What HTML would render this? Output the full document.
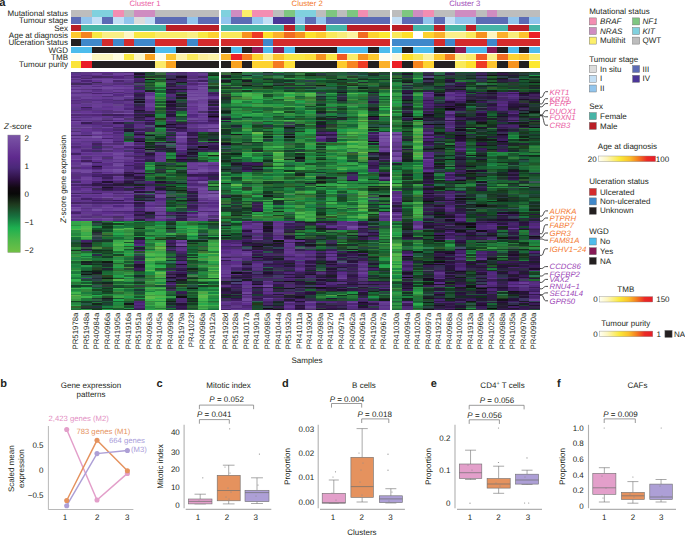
<!DOCTYPE html><html><head><meta charset="utf-8"><style>html,body{margin:0;padding:0;background:#fff;}body{width:685px;height:535px;overflow:hidden;position:relative;font-family:"Liberation Sans",sans-serif;}svg{display:block;position:absolute;left:0;top:0;}#hm div{position:absolute;top:0;height:238.40px;}#hm{position:absolute;left:0;top:72.10px;width:685px;height:238.40px;}</style></head><body><div id="hm"><div style="left:70.80px;width:10.56px;background:linear-gradient(#4d3d73 0 1.4px,#5b3489 0 2.8px,#653593 0 4.2px,#52297b 0 5.6px,#6a3e97 0 7.0px,#59337e 0 8.4px,#643992 0 9.8px,#562d7e 0 11.2px,#432a5d 0 12.6px,#6a3f97 0 14.0px,#5a337f 0 15.4px,#6e469b 0 16.8px,#5d2e8b 0 18.2px,#72489e 0 19.6px,#5e3685 0 21.0px,#5c308b 0 22.4px,#6e449b 0 23.8px,#653d91 0 25.2px,#603689 0 26.6px,#663d93 0 28.0px,#55287f 0 29.4px,#5d3386 0 30.9px,#59307f 0 32.3px,#683996 0 33.7px,#643892 0 35.1px,#623a8a 0 36.5px,#5e378c 0 37.9px,#583579 0 39.3px,#623590 0 40.7px,#6d4998 0 42.1px,#502a73 0 43.5px,#683895 0 44.9px,#532e79 0 46.3px,#673b95 0 47.7px,#4f2476 0 49.1px,#734a9f 0 50.5px,#693996 0 51.9px,#663f92 0 53.3px,#62388d 0 54.7px,#6c4598 0 56.1px,#5b3c7c 0 57.5px,#663e92 0 58.9px,#522f74 0 60.3px,#6f439c 0 61.7px,#683c95 0 63.1px,#4a266e 0 64.5px,#71489d 0 65.9px,#5b3085 0 67.3px,#6d3f9a 0 68.7px,#653693 0 70.1px,#653d92 0 71.5px,#5b3185 0 72.9px,#663894 0 74.3px,#502a74 0 75.7px,#5f328d 0 77.1px,#683896 0 78.5px,#683d95 0 79.9px,#61358f 0 81.3px,#422164 0 82.7px,#6a3c98 0 84.1px,#6a3b97 0 86.9px,#744aa0 0 88.3px,#5e2d8c 0 89.8px,#643991 0 91.2px,#62388d 0 92.6px,#6a3e97 0 94.0px,#683c95 0 95.4px,#533175 0 96.8px,#6d4399 0 98.2px,#71469d 0 99.6px,#5e3388 0 101.0px,#5b3285 0 102.4px,#56317c 0 103.8px,#572d7e 0 105.2px,#582c81 0 106.6px,#633f90 0 108.0px,#5d2d8c 0 109.4px,#442c65 0 110.8px,#6a3e97 0 112.2px,#49246f 0 113.6px,#663994 0 115.0px,#552c7f 0 116.4px,#5a2b87 0 117.8px,#5f378c 0 119.2px,#663e91 0 120.6px,#422463 0 122.0px,#71469d 0 123.4px,#552a80 0 124.8px,#694196 0 126.2px,#5f3587 0 127.6px,#593087 0 129.0px,#61348f 0 130.4px,#472564 0 131.8px,#6a4495 0 133.2px,#5d2d8c 0 134.6px,#754ca1 0 136.0px,#6c4099 0 137.4px,#764ea1 0 138.8px,#562882 0 140.2px,#462169 0 141.6px,#673a94 0 143.0px,#6b3d98 0 144.4px,#5e3784 0 145.8px,#6c4895 0 147.2px,#5c2e8a 0 148.6px,#31a94a 0 150.1px,#36a449 0 151.5px,#33a348 0 152.9px,#2d8b40 0 154.3px,#33b34d 0 155.7px,#38b54e 0 157.1px,#51b74c 0 158.5px,#2c8f43 0 159.9px,#2a9444 0 161.3px,#27853e 0 162.7px,#1f8a42 0 164.1px,#43a848 0 165.5px,#187039 0 166.9px,#186b37 0 168.3px,#2b5c4c 0 169.7px,#17552c 0 171.1px,#1a462c 0 172.5px,#1f522b 0 173.9px,#1d512a 0 175.3px,#338b3d 0 176.7px,#1e7d3b 0 178.1px,#18351d 0 179.5px,#2d893d 0 180.9px,#307337 0 182.3px,#2d9444 0 183.7px,#429241 0 185.1px,#218b41 0 186.5px,#27854a 0 187.9px,#31a049 0 189.3px,#1e6532 0 190.7px,#1c7538 0 192.1px,#238943 0 193.5px,#1e7c3d 0 194.9px,#1a8743 0 196.3px,#2b853d 0 197.7px,#38a649 0 199.1px,#207c3d 0 200.5px,#1b793c 0 201.9px,#30ac4b 0 203.3px,#259947 0 204.7px,#1c803e 0 206.1px,#197539 0 207.5px,#32b04d 0 209.0px,#2b9f47 0 210.4px,#287737 0 211.8px,#208440 0 213.2px,#164226 0 214.6px,#186936 0 216.0px,#40ad4a 0 217.4px,#21883e 0 218.8px,#269d48 0 220.2px,#43b74c 0 221.6px,#2e9143 0 223.0px,#61b249 0 224.4px,#45a647 0 225.8px,#42a749 0 227.2px,#399942 0 228.6px,#174123 0 230.0px,#257d3a 0 231.4px,#268842 0 232.8px,#2ca44a 0 234.2px,#35632c 0 235.6px,#20783a 0 237.0px,#226c35 0 238.4px)"></div><div style="left:81.36px;width:10.56px;background:linear-gradient(#5f3b82 0 1.4px,#603689 0 2.8px,#51287e 0 4.2px,#5a3280 0 5.6px,#4c286b 0 7.0px,#6a3e97 0 8.4px,#4c2373 0 9.8px,#633a8d 0 11.2px,#40265f 0 12.6px,#694096 0 14.0px,#673f94 0 15.4px,#6b3f98 0 16.8px,#59337d 0 18.2px,#6a3e97 0 19.6px,#532e76 0 21.0px,#61378a 0 22.4px,#6d409a 0 23.8px,#653e8f 0 25.2px,#6b4198 0 26.6px,#5a2d85 0 28.0px,#5b3386 0 29.4px,#5b367f 0 30.9px,#673e93 0 32.3px,#5f388c 0 33.7px,#673795 0 35.1px,#3b1f57 0 36.5px,#54297e 0 37.9px,#5b3580 0 39.3px,#663794 0 40.7px,#6b3e99 0 42.1px,#542b79 0 43.5px,#60348e 0 44.9px,#5a3286 0 46.3px,#673f94 0 47.7px,#5b3284 0 49.1px,#6a4197 0 50.5px,#371c53 0 51.9px,#5a2b88 0 53.3px,#613b8a 0 54.7px,#72489e 0 56.1px,#5e3587 0 57.5px,#653493 0 58.9px,#61338f 0 60.3px,#5a3288 0 61.7px,#5f358c 0 63.1px,#40215c 0 64.5px,#72489e 0 65.9px,#633b8e 0 67.3px,#6a3c98 0 68.7px,#5b3586 0 70.1px,#61378e 0 71.5px,#653992 0 72.9px,#633391 0 74.3px,#5c3288 0 75.7px,#643f8a 0 77.1px,#562f80 0 78.5px,#4e2575 0 79.9px,#683f95 0 81.3px,#60308e 0 82.7px,#6b3f98 0 84.1px,#533574 0 85.5px,#552c7f 0 86.9px,#653892 0 88.3px,#3f1d5a 0 89.8px,#61368e 0 91.2px,#764ea2 0 92.6px,#673a94 0 94.0px,#62368f 0 95.4px,#592a88 0 96.8px,#683e95 0 98.2px,#72499f 0 99.6px,#72489e 0 101.0px,#593084 0 102.4px,#562e81 0 103.8px,#60348d 0 105.2px,#6d419a 0 106.6px,#70449c 0 108.0px,#673794 0 109.4px,#653692 0 110.8px,#633491 0 112.2px,#422163 0 113.6px,#5f3688 0 115.0px,#4d2b6f 0 116.4px,#653494 0 117.8px,#6a3d98 0 119.2px,#5f358d 0 120.6px,#492c66 0 122.0px,#673a94 0 123.4px,#623590 0 124.8px,#60348e 0 126.2px,#432166 0 127.6px,#60348c 0 129.0px,#5f3689 0 130.4px,#4b276e 0 131.8px,#6a4296 0 133.2px,#613c8b 0 134.6px,#653b93 0 136.0px,#583280 0 137.4px,#643892 0 138.8px,#5c3685 0 140.2px,#643891 0 141.6px,#65418c 0 143.0px,#613989 0 144.4px,#552f7d 0 145.8px,#714b9d 0 147.2px,#5d3188 0 148.6px,#3bb04c 0 150.1px,#4ca143 0 151.5px,#38ab4a 0 152.9px,#3da749 0 154.3px,#4eb84b 0 155.7px,#57ba4b 0 157.1px,#55b34a 0 158.5px,#53ab47 0 159.9px,#38ac4b 0 161.3px,#3cad4b 0 162.7px,#35a348 0 164.1px,#5aba4b 0 165.5px,#3cae4b 0 166.9px,#308c41 0 168.3px,#44206a 0 169.7px,#302649 0 171.1px,#181b1c 0 172.5px,#281c38 0 173.9px,#2a1840 0 175.3px,#34563e 0 176.7px,#241931 0 178.1px,#47346a 0 179.5px,#216a32 0 180.9px,#299946 0 182.3px,#29a64b 0 183.7px,#19773e 0 185.1px,#2da149 0 186.5px,#257b3a 0 187.9px,#3e9841 0 189.3px,#13241e 0 190.7px,#222d30 0 192.1px,#1b231f 0 193.5px,#259848 0 194.9px,#1a6f39 0 196.3px,#196737 0 197.7px,#195e33 0 199.1px,#0e1f16 0 200.5px,#1b3c2f 0 201.9px,#111711 0 203.3px,#285046 0 204.7px,#1f7b3c 0 206.1px,#3c3e68 0 207.5px,#1f4832 0 209.0px,#209547 0 210.4px,#195a2f 0 211.8px,#34a749 0 213.2px,#19472b 0 214.6px,#249a46 0 216.0px,#2eaf4d 0 217.4px,#30893c 0 218.8px,#34833b 0 220.2px,#1b7d3e 0 221.6px,#2d9441 0 223.0px,#348a3f 0 224.4px,#3bb44c 0 225.8px,#257338 0 227.2px,#1c783a 0 228.6px,#1c3b28 0 230.0px,#124124 0 231.4px,#265a47 0 232.8px,#17532a 0 234.2px,#2b3a30 0 235.6px,#192d2b 0 237.0px,#2a9240 0 238.4px)"></div><div style="left:91.92px;width:10.56px;background:linear-gradient(#563079 0 1.4px,#6c3f99 0 2.8px,#5a2f83 0 4.2px,#452461 0 5.6px,#61388c 0 7.0px,#71469d 0 8.4px,#643392 0 9.8px,#3d2953 0 11.2px,#5a3480 0 12.6px,#6b3d99 0 14.0px,#582d81 0 15.4px,#6c4398 0 16.8px,#52267a 0 18.2px,#5b3285 0 19.6px,#6a3b97 0 21.0px,#4a216e 0 22.4px,#6a3b97 0 23.8px,#623c8b 0 25.2px,#693a97 0 26.6px,#5d348a 0 28.0px,#552e80 0 29.4px,#683c95 0 30.9px,#633c8c 0 32.3px,#693e96 0 33.7px,#6c3e99 0 35.1px,#663c94 0 36.5px,#5f378d 0 37.9px,#5b3480 0 39.3px,#5c2f8a 0 40.7px,#6d419a 0 42.1px,#512677 0 43.5px,#5f328b 0 44.9px,#663b93 0 46.3px,#6a4197 0 47.7px,#5c3382 0 49.1px,#5a367d 0 50.5px,#522877 0 51.9px,#54287e 0 53.3px,#5a3488 0 54.7px,#623590 0 56.1px,#563377 0 57.5px,#5c2f88 0 58.9px,#673a95 0 60.3px,#764ea2 0 61.7px,#683896 0 63.1px,#5d3588 0 64.5px,#7b56a6 0 65.9px,#673995 0 67.3px,#683e95 0 68.7px,#512f79 0 70.1px,#582b85 0 71.5px,#40225d 0 72.9px,#4b2272 0 74.3px,#3b315e 0 75.7px,#44236d 0 77.1px,#562c81 0 78.5px,#412d62 0 79.9px,#633890 0 81.3px,#623690 0 82.7px,#684094 0 84.1px,#60348d 0 85.5px,#693b96 0 86.9px,#70459d 0 88.3px,#5f2f8d 0 89.8px,#3c2058 0 91.2px,#5a2f88 0 92.6px,#51287e 0 94.0px,#28123a 0 95.4px,#431d65 0 96.8px,#572b84 0 98.2px,#663c93 0 99.6px,#472865 0 101.0px,#552881 0 102.4px,#46216c 0 103.8px,#3c1e5d 0 105.2px,#5c328a 0 106.6px,#5f338b 0 108.0px,#653693 0 109.4px,#492270 0 110.8px,#321849 0 112.2px,#311948 0 113.6px,#532c77 0 115.0px,#592e85 0 116.4px,#3e2957 0 117.8px,#4e2477 0 119.2px,#5b2e85 0 120.6px,#412261 0 122.0px,#693b97 0 123.4px,#60328d 0 124.8px,#693f96 0 126.2px,#53267b 0 127.6px,#401f64 0 129.0px,#5a2e86 0 130.4px,#452268 0 131.8px,#5c3689 0 133.2px,#593184 0 134.6px,#673b94 0 136.0px,#613e8d 0 137.4px,#754da1 0 138.8px,#5f308d 0 140.2px,#5f348c 0 141.6px,#592d83 0 143.0px,#562d7f 0 144.4px,#593c7a 0 145.8px,#6c4099 0 147.2px,#612e8f 0 148.6px,#134d29 0 150.1px,#2a2f38 0 151.5px,#2b4e46 0 152.9px,#1a5433 0 154.3px,#238c42 0 155.7px,#15532e 0 157.1px,#1a5029 0 158.5px,#133720 0 159.9px,#262231 0 161.3px,#2c373a 0 162.7px,#3e5451 0 164.1px,#445455 0 165.5px,#274041 0 166.9px,#303f52 0 168.3px,#1f302e 0 169.7px,#185b2e 0 171.1px,#235629 0 172.5px,#1a612f 0 173.9px,#2b602c 0 175.3px,#48873b 0 176.7px,#17512c 0 178.1px,#172e1b 0 179.5px,#164024 0 180.9px,#1a723b 0 182.3px,#2f2948 0 183.7px,#175f33 0 185.1px,#1d592f 0 186.5px,#1b733a 0 187.9px,#1f6933 0 189.3px,#173620 0 190.7px,#1b4b30 0 192.1px,#133622 0 193.5px,#1c5f30 0 194.9px,#234830 0 196.3px,#244524 0 197.7px,#182e1f 0 199.1px,#0e2518 0 200.5px,#1a1521 0 201.9px,#1f4127 0 203.3px,#2f4446 0 204.7px,#323d4a 0 206.1px,#223035 0 207.5px,#2e4349 0 209.0px,#22552c 0 210.4px,#1c3228 0 211.8px,#175d31 0 213.2px,#365650 0 214.6px,#1a5535 0 216.0px,#19743d 0 217.4px,#1b4422 0 218.8px,#237140 0 220.2px,#176a35 0 221.6px,#195830 0 223.0px,#22af4f 0 224.4px,#26853d 0 225.8px,#1e3d30 0 227.2px,#2c633f 0 228.6px,#223839 0 230.0px,#227538 0 231.4px,#16261c 0 232.8px,#134d29 0 234.2px,#26343f 0 235.6px,#173b21 0 237.0px,#14381f 0 238.4px)"></div><div style="left:102.48px;width:10.56px;background:linear-gradient(#5c2e88 0 1.4px,#55307b 0 2.8px,#623690 0 4.2px,#462961 0 5.6px,#673994 0 7.0px,#70459d 0 8.4px,#6f439c 0 9.8px,#6b3e98 0 11.2px,#5e3982 0 12.6px,#593087 0 14.0px,#693b96 0 15.4px,#72489e 0 16.8px,#673a94 0 18.2px,#62398c 0 19.6px,#683896 0 21.0px,#4d2679 0 22.4px,#6c4399 0 23.8px,#502c75 0 25.2px,#653993 0 26.6px,#532c7e 0 28.0px,#5c3084 0 29.4px,#582e83 0 30.9px,#633a91 0 32.3px,#683995 0 33.7px,#5f358a 0 35.1px,#5f2f8e 0 36.5px,#653693 0 37.9px,#563178 0 39.3px,#542f7d 0 40.7px,#62398d 0 42.1px,#3e2555 0 43.5px,#623490 0 44.9px,#60358e 0 46.3px,#5b3880 0 47.7px,#472467 0 49.1px,#6d419a 0 50.5px,#542d78 0 51.9px,#582b86 0 53.3px,#4f2b73 0 54.7px,#6e429b 0 56.1px,#582f84 0 57.5px,#562984 0 58.9px,#542f76 0 60.3px,#693a97 0 61.7px,#59327e 0 63.1px,#643392 0 64.5px,#693b97 0 65.9px,#47206c 0 67.3px,#6d419a 0 68.7px,#663a93 0 70.1px,#70479d 0 71.5px,#582f7e 0 72.9px,#6b3d99 0 74.3px,#533375 0 75.7px,#61378f 0 77.1px,#6a4196 0 78.5px,#523074 0 79.9px,#6f439c 0 81.3px,#663594 0 82.7px,#693d96 0 84.1px,#562a82 0 85.5px,#503172 0 86.9px,#5d2e8b 0 88.3px,#603a8c 0 89.8px,#663893 0 91.2px,#582c84 0 92.6px,#5a3284 0 94.0px,#633791 0 95.4px,#5f338c 0 96.8px,#70449c 0 98.2px,#6b4298 0 99.6px,#5c2e8a 0 101.0px,#653992 0 102.4px,#3e1d5c 0 103.8px,#442069 0 105.2px,#3b1c5a 0 106.6px,#502b74 0 108.0px,#552982 0 109.4px,#231231 0 110.8px,#4e2875 0 112.2px,#301749 0 113.6px,#3b2454 0 115.0px,#1d1326 0 116.4px,#32164a 0 117.8px,#372552 0 119.2px,#5c3185 0 120.6px,#693c96 0 122.0px,#6c4098 0 123.4px,#663794 0 124.8px,#764da1 0 126.2px,#543175 0 127.6px,#432166 0 129.0px,#5e338b 0 130.4px,#452667 0 131.8px,#61368d 0 133.2px,#673894 0 134.6px,#71469d 0 136.0px,#63398f 0 137.4px,#693d96 0 138.8px,#52277d 0 140.2px,#5e2e8d 0 141.6px,#6b3d98 0 143.0px,#633891 0 144.4px,#553478 0 145.8px,#734a9f 0 147.2px,#693a96 0 148.6px,#277639 0 150.1px,#2a4f3f 0 151.5px,#14341d 0 152.9px,#18502c 0 154.3px,#12361d 0 155.7px,#174626 0 157.1px,#1b5f32 0 158.5px,#154c2b 0 159.9px,#2b813b 0 161.3px,#3b7231 0 162.7px,#1c5035 0 164.1px,#357031 0 165.5px,#1a6c33 0 166.9px,#204435 0 168.3px,#193b27 0 169.7px,#26723b 0 171.1px,#1b823f 0 172.5px,#1f7a3b 0 173.9px,#1a753b 0 175.3px,#2d572a 0 176.7px,#17552d 0 178.1px,#14341e 0 179.5px,#1b4c26 0 180.9px,#144128 0 182.3px,#206130 0 183.7px,#1a3b2a 0 185.1px,#113f24 0 186.5px,#207238 0 187.9px,#297b3d 0 189.3px,#101910 0 190.7px,#203534 0 192.1px,#1f2e33 0 193.5px,#1d302b 0 194.9px,#1a6134 0 196.3px,#212531 0 197.7px,#17462b 0 199.1px,#186533 0 200.5px,#1b6a35 0 201.9px,#1b743a 0 203.3px,#2d4421 0 204.7px,#144423 0 206.1px,#131814 0 207.5px,#2c642f 0 209.0px,#185734 0 210.4px,#13251f 0 211.8px,#354030 0 213.2px,#2f3938 0 214.6px,#18532c 0 216.0px,#193323 0 217.4px,#154929 0 218.8px,#19381c 0 220.2px,#144828 0 221.6px,#24853c 0 223.0px,#257839 0 224.4px,#23532c 0 225.8px,#1a1920 0 227.2px,#20332e 0 228.6px,#21563d 0 230.0px,#164627 0 231.4px,#1d4135 0 232.8px,#16552f 0 234.2px,#197c40 0 235.6px,#1b4223 0 237.0px,#229d4a 0 238.4px)"></div><div style="left:113.04px;width:10.56px;background:linear-gradient(#533b77 0 1.4px,#6d409a 0 2.8px,#643692 0 4.2px,#52247a 0 5.6px,#572c80 0 7.0px,#72489e 0 8.4px,#4a276b 0 9.8px,#5d3389 0 11.2px,#552e7b 0 12.6px,#693c97 0 14.0px,#653594 0 15.4px,#70459d 0 16.8px,#5d3387 0 18.2px,#6d3f9a 0 19.6px,#512e73 0 21.0px,#643592 0 22.4px,#542881 0 23.8px,#5d3983 0 25.2px,#684095 0 26.6px,#653b92 0 28.0px,#4d2b70 0 29.4px,#593185 0 30.9px,#56307f 0 32.3px,#65428a 0 33.7px,#693c96 0 35.1px,#643c91 0 36.5px,#683996 0 37.9px,#694195 0 39.3px,#563178 0 40.7px,#7750a3 0 42.1px,#3e1d5f 0 43.5px,#552c81 0 44.9px,#4b2970 0 46.3px,#6f439c 0 47.7px,#582b87 0 49.1px,#6e429b 0 50.5px,#2e1747 0 51.9px,#5c3283 0 53.3px,#60328e 0 54.7px,#4b266f 0 56.1px,#4f3272 0 57.5px,#49256c 0 58.9px,#5f318d 0 60.3px,#4e2676 0 61.7px,#5d3289 0 63.1px,#572f83 0 64.5px,#5e3387 0 65.9px,#562e82 0 67.3px,#5c3188 0 68.7px,#48236e 0 70.1px,#593281 0 71.5px,#502b73 0 72.9px,#694096 0 74.3px,#6a3b97 0 75.7px,#56307a 0 77.1px,#5a3286 0 78.5px,#5f328d 0 79.9px,#6b4098 0 81.3px,#734a9f 0 82.7px,#6a3c98 0 84.1px,#6e429b 0 85.5px,#71479e 0 86.9px,#633b90 0 88.3px,#6d4399 0 89.8px,#572f82 0 91.2px,#6f479b 0 92.6px,#754ca1 0 94.0px,#674092 0 95.4px,#61358f 0 96.8px,#7750a3 0 98.2px,#734aa0 0 99.6px,#684095 0 101.0px,#613889 0 102.4px,#42235d 0 103.8px,#6a3f97 0 105.2px,#60348e 0 106.6px,#673f93 0 108.0px,#5c2f89 0 109.4px,#492768 0 110.8px,#321d43 0 112.2px,#261836 0 113.6px,#4c2c6e 0 115.0px,#3c2056 0 116.4px,#411e65 0 117.8px,#452168 0 119.2px,#5e3686 0 120.6px,#4d2771 0 122.0px,#653992 0 123.4px,#5c3482 0 124.8px,#6a4692 0 126.2px,#683b95 0 127.6px,#381956 0 129.0px,#5e318c 0 130.4px,#452468 0 131.8px,#6b3c98 0 133.2px,#50277d 0 134.6px,#683995 0 136.0px,#6a3f97 0 137.4px,#6d439a 0 138.8px,#4a2671 0 140.2px,#5b3083 0 141.6px,#6d4499 0 143.0px,#653693 0 144.4px,#492d64 0 145.8px,#5b3f7c 0 147.2px,#552e7e 0 148.6px,#186536 0 150.1px,#2ab24e 0 151.5px,#164222 0 152.9px,#2f9745 0 154.3px,#19783e 0 155.7px,#319243 0 157.1px,#53b94b 0 158.5px,#2e9d46 0 159.9px,#239647 0 161.3px,#25a94c 0 162.7px,#1a813e 0 164.1px,#1d8f45 0 165.5px,#1b6a36 0 166.9px,#1a7a3c 0 168.3px,#3ba448 0 169.7px,#39b34d 0 171.1px,#45ad4a 0 172.5px,#4fb84b 0 173.9px,#35a147 0 175.3px,#40a447 0 176.7px,#3cae4a 0 178.1px,#37b24c 0 179.5px,#236e34 0 180.9px,#219848 0 182.3px,#164626 0 183.7px,#448539 0 185.1px,#1d8b45 0 186.5px,#2c8c44 0 187.9px,#36a949 0 189.3px,#289242 0 190.7px,#23612f 0 192.1px,#33913e 0 193.5px,#2e9a46 0 194.9px,#1fa44c 0 196.3px,#287638 0 197.7px,#2d6b30 0 199.1px,#2d8f40 0 200.5px,#2a873f 0 201.9px,#238941 0 203.3px,#27a24a 0 204.7px,#1e9046 0 206.1px,#234d24 0 207.5px,#51b94c 0 209.0px,#1c7037 0 210.4px,#1c6631 0 211.8px,#328e42 0 213.2px,#164f2e 0 214.6px,#174727 0 216.0px,#38a94a 0 217.4px,#228940 0 218.8px,#3c893c 0 220.2px,#2a6b33 0 221.6px,#248b41 0 223.0px,#2fa148 0 224.4px,#40a447 0 225.8px,#1b512c 0 227.2px,#20a84d 0 228.6px,#186333 0 230.0px,#1f9243 0 231.4px,#1f8841 0 232.8px,#23813d 0 234.2px,#2c893d 0 235.6px,#1e582b 0 237.0px,#175f32 0 238.4px)"></div><div style="left:123.60px;width:10.56px;background:linear-gradient(#502f72 0 1.4px,#70459d 0 2.8px,#4f2875 0 4.2px,#5c3482 0 5.6px,#5a3387 0 7.0px,#6d4699 0 8.4px,#5b3685 0 9.8px,#592b85 0 11.2px,#4e3170 0 12.6px,#684094 0 14.0px,#5f358c 0 15.4px,#6d409a 0 16.8px,#60308e 0 18.2px,#61358f 0 19.6px,#623a8b 0 21.0px,#52277f 0 22.4px,#603889 0 23.8px,#744ca0 0 25.2px,#60368e 0 26.6px,#462768 0 28.0px,#49266b 0 29.4px,#62388d 0 30.9px,#5d3683 0 32.3px,#582a84 0 33.7px,#5d348a 0 35.1px,#593285 0 36.5px,#4f2679 0 37.9px,#694394 0 39.3px,#5e3789 0 40.7px,#7852a4 0 42.1px,#4d2372 0 43.5px,#582e86 0 44.9px,#61388c 0 46.3px,#50346e 0 47.7px,#653892 0 49.1px,#653a93 0 50.5px,#293a44 0 51.9px,#3c1d5e 0 53.3px,#381d58 0 54.7px,#3a1a59 0 56.1px,#2e3a47 0 57.5px,#261236 0 58.9px,#21162d 0 60.3px,#2b5d53 0 61.7px,#1a6d38 0 63.1px,#196f39 0 64.5px,#324644 0 65.9px,#1e4b3b 0 67.3px,#1b4723 0 68.7px,#1d7543 0 70.1px,#71469d 0 71.5px,#6c4099 0 72.9px,#72489e 0 74.3px,#4d2374 0 75.7px,#562d82 0 77.1px,#643791 0 78.5px,#45326a 0 79.9px,#6a3d98 0 81.3px,#60378e 0 82.7px,#562f7a 0 84.1px,#4e2874 0 85.5px,#6a4197 0 86.9px,#633d89 0 88.3px,#5f348a 0 89.8px,#52267c 0 91.2px,#5b2e88 0 92.6px,#3f1d60 0 94.0px,#562d82 0 95.4px,#542d81 0 96.8px,#552c7e 0 98.2px,#55307b 0 99.6px,#331948 0 101.0px,#3e1d5d 0 102.4px,#261238 0 103.8px,#2f1747 0 105.2px,#3a2556 0 106.6px,#4d2875 0 108.0px,#37294f 0 109.4px,#2c1442 0 110.8px,#221a2d 0 112.2px,#222532 0 113.6px,#482f68 0 115.0px,#552983 0 116.4px,#2d2745 0 117.8px,#382351 0 119.2px,#643e90 0 120.6px,#4c2b6f 0 122.0px,#6c4199 0 123.4px,#5c2e8b 0 124.8px,#673e94 0 126.2px,#522980 0 127.6px,#5e3289 0 129.0px,#6b4097 0 130.4px,#48216e 0 131.8px,#6f449c 0 133.2px,#633790 0 134.6px,#6e429b 0 136.0px,#70449c 0 137.4px,#6d409a 0 138.8px,#4c2475 0 140.2px,#532c80 0 141.6px,#683c95 0 143.0px,#5f338b 0 144.4px,#61378f 0 145.8px,#71489e 0 147.2px,#63388f 0 148.6px,#1d7c3d 0 150.1px,#248740 0 151.5px,#1a6833 0 152.9px,#166a37 0 154.3px,#1a783d 0 155.7px,#50b94a 0 157.1px,#3da044 0 158.5px,#368d3e 0 159.9px,#2c8b42 0 161.3px,#3b9d46 0 162.7px,#317e3b 0 164.1px,#28873e 0 165.5px,#308c43 0 166.9px,#1c7b3b 0 168.3px,#4ab04a 0 169.7px,#18512b 0 171.1px,#4bac49 0 172.5px,#24ac4e 0 173.9px,#2d5b2d 0 175.3px,#329d45 0 176.7px,#1b5a2e 0 178.1px,#21873e 0 179.5px,#279947 0 180.9px,#3f9f44 0 182.3px,#23a24b 0 183.7px,#3a7533 0 185.1px,#1d7538 0 186.5px,#1a6d37 0 187.9px,#3b823d 0 189.3px,#195a2e 0 190.7px,#258a41 0 192.1px,#265037 0 193.5px,#1d482b 0 194.9px,#458d3b 0 196.3px,#274a33 0 197.7px,#217539 0 199.1px,#307534 0 200.5px,#379140 0 201.9px,#33a84a 0 203.3px,#226d37 0 204.7px,#2cab4c 0 206.1px,#268149 0 207.5px,#389d44 0 209.0px,#229447 0 210.4px,#1a5c32 0 211.8px,#319c45 0 213.2px,#22602f 0 214.6px,#214e25 0 216.0px,#298c43 0 217.4px,#186b38 0 218.8px,#217939 0 220.2px,#2a893d 0 221.6px,#3a933e 0 223.0px,#349040 0 224.4px,#249a48 0 225.8px,#26843c 0 227.2px,#2b7333 0 228.6px,#18582c 0 230.0px,#1f5539 0 231.4px,#141617 0 232.8px,#255a2c 0 234.2px,#1b4b2d 0 235.6px,#208f44 0 237.0px,#173a20 0 238.4px)"></div><div style="left:134.16px;width:10.56px;background:linear-gradient(#2c384c 0 1.4px,#1f102b 0 2.8px,#3f1c5c 0 4.2px,#192829 0 5.6px,#4b2570 0 7.0px,#4a246a 0 8.4px,#412062 0 9.8px,#2e2640 0 11.2px,#4c4969 0 12.6px,#4d266f 0 14.0px,#2c3c47 0 15.4px,#422161 0 16.8px,#2f364f 0 18.2px,#562985 0 19.6px,#421f64 0 21.0px,#2f2d44 0 22.4px,#31174a 0 23.8px,#371a55 0 25.2px,#362b53 0 26.6px,#1c0f27 0 28.0px,#33364e 0 29.4px,#1a1123 0 30.9px,#423c65 0 32.3px,#2e2645 0 33.7px,#391b56 0 35.1px,#3b1a57 0 36.5px,#421e61 0 37.9px,#241232 0 39.3px,#2c2342 0 40.7px,#47216d 0 42.1px,#2d2040 0 43.5px,#3e235b 0 44.9px,#2c1a3e 0 46.3px,#3b2455 0 47.7px,#28343d 0 49.1px,#5f338a 0 50.5px,#482a69 0 51.9px,#582b85 0 53.3px,#563180 0 54.7px,#5d2e8b 0 56.1px,#4b3469 0 57.5px,#3a2158 0 58.9px,#5d308c 0 60.3px,#3a1c55 0 61.7px,#250e35 0 63.1px,#3f2758 0 64.5px,#562985 0 65.9px,#2d213e 0 67.3px,#34164c 0 68.7px,#1b0b23 0 70.1px,#552984 0 71.5px,#462963 0 72.9px,#5f328e 0 74.3px,#47216a 0 75.7px,#2d1342 0 77.1px,#552a82 0 78.5px,#47216a 0 79.9px,#3d1f5d 0 81.3px,#50277d 0 82.7px,#4d346e 0 84.1px,#3f1f5b 0 85.5px,#4b246e 0 86.9px,#5d3388 0 88.3px,#401c5f 0 89.8px,#5f2d8d 0 91.2px,#452167 0 92.6px,#432663 0 94.0px,#401f5f 0 95.4px,#3e1d60 0 96.8px,#4b2670 0 98.2px,#5f3589 0 99.6px,#4e2f6f 0 101.0px,#231131 0 102.4px,#4c2672 0 103.8px,#2c1941 0 105.2px,#2c133e 0 106.6px,#42255d 0 108.0px,#2e1b45 0 109.4px,#393959 0 110.8px,#3e225d 0 112.2px,#15251a 0 113.6px,#48236f 0 115.0px,#21222b 0 116.4px,#381a53 0 117.8px,#562984 0 119.2px,#271238 0 120.6px,#514e73 0 122.0px,#4a2271 0 123.4px,#292738 0 124.8px,#291b3c 0 126.2px,#203636 0 127.6px,#1f1b29 0 129.0px,#5d3687 0 130.4px,#2a1a3c 0 131.8px,#3d1b5d 0 133.2px,#381956 0 134.6px,#413c6b 0 136.0px,#472867 0 137.4px,#4d2375 0 138.8px,#2c1e41 0 140.2px,#462167 0 141.6px,#2f1847 0 143.0px,#2f1544 0 144.4px,#452c66 0 145.8px,#4d2470 0 147.2px,#29213a 0 148.6px,#1d9147 0 150.1px,#1e5034 0 151.5px,#19602f 0 152.9px,#1c622d 0 154.3px,#205d2d 0 155.7px,#112f1c 0 157.1px,#1f7839 0 158.5px,#246731 0 159.9px,#154f2a 0 161.3px,#16502b 0 162.7px,#154021 0 164.1px,#269847 0 165.5px,#172a27 0 166.9px,#221b2d 0 168.3px,#47226f 0 169.7px,#411f66 0 171.1px,#401f60 0 172.5px,#572a85 0 173.9px,#1a6039 0 175.3px,#281839 0 176.7px,#1e302e 0 178.1px,#572d81 0 179.5px,#285429 0 180.9px,#486564 0 182.3px,#255444 0 183.7px,#38294f 0 185.1px,#2b3542 0 186.5px,#2d2645 0 187.9px,#1e5f3d 0 189.3px,#452168 0 190.7px,#402e57 0 192.1px,#1f1529 0 193.5px,#251135 0 194.9px,#2b1340 0 196.3px,#3c1d56 0 197.7px,#311f47 0 199.1px,#18512b 0 200.5px,#1b622d 0 201.9px,#1f603e 0 203.3px,#1a2b2d 0 204.7px,#15532c 0 206.1px,#24603d 0 207.5px,#3b634d 0 209.0px,#176034 0 210.4px,#183d21 0 211.8px,#1e7c3b 0 213.2px,#354140 0 214.6px,#255d2c 0 216.0px,#19753d 0 217.4px,#1e3833 0 218.8px,#196535 0 220.2px,#1d5137 0 221.6px,#27612e 0 223.0px,#1e833f 0 224.4px,#18552d 0 225.8px,#1b9749 0 227.2px,#294733 0 228.6px,#4e2674 0 230.0px,#4a2370 0 231.4px,#522981 0 232.8px,#462469 0 234.2px,#51287a 0 235.6px,#3d1d5c 0 237.0px,#372153 0 238.4px)"></div><div style="left:144.72px;width:10.56px;background:linear-gradient(#1d4d25 0 1.4px,#1e483a 0 2.8px,#1c5d2d 0 4.2px,#253c28 0 5.6px,#3c893d 0 7.0px,#0e150e 0 8.4px,#186837 0 9.8px,#124025 0 11.2px,#28612c 0 12.6px,#19502b 0 14.0px,#296331 0 15.4px,#27503c 0 16.8px,#1a6634 0 18.2px,#19221f 0 19.6px,#66408f 0 21.0px,#5c2c8a 0 22.4px,#633591 0 23.8px,#73499f 0 25.2px,#724a9e 0 26.6px,#62388d 0 28.0px,#60348b 0 29.4px,#5d3488 0 30.9px,#693a97 0 32.3px,#6a3f97 0 33.7px,#6b3c98 0 35.1px,#5e348c 0 36.5px,#613090 0 37.9px,#5f3886 0 39.3px,#382350 0 40.7px,#4d2474 0 42.1px,#1d2726 0 43.5px,#261036 0 44.9px,#49266c 0 46.3px,#542b80 0 47.7px,#2f1647 0 49.1px,#50297f 0 50.5px,#331b4b 0 51.9px,#361b54 0 53.3px,#4e5076 0 54.7px,#4d2670 0 56.1px,#353255 0 57.5px,#40255a 0 58.9px,#38294f 0 60.3px,#32803d 0 61.7px,#204b3e 0 63.1px,#121b12 0 64.5px,#296145 0 65.9px,#2d613b 0 67.3px,#17562c 0 68.7px,#317b38 0 70.1px,#16211d 0 71.5px,#143920 0 72.9px,#2a2f3b 0 74.3px,#10311c 0 75.7px,#344e43 0 77.1px,#170a1d 0 78.5px,#455559 0 79.9px,#442364 0 81.3px,#251834 0 82.7px,#321a4d 0 84.1px,#3c1c5b 0 85.5px,#452368 0 86.9px,#381d57 0 88.3px,#2f2045 0 89.8px,#27863f 0 91.2px,#197e41 0 92.6px,#3f9b44 0 94.0px,#25833d 0 95.4px,#29a34a 0 96.8px,#269847 0 98.2px,#1d622f 0 99.6px,#20803b 0 101.0px,#242e37 0 102.4px,#1e6531 0 103.8px,#307f38 0 105.2px,#1b6c37 0 106.6px,#1a6334 0 108.0px,#2d6a3b 0 109.4px,#4b2474 0 110.8px,#441f67 0 112.2px,#31274a 0 113.6px,#4e2c73 0 115.0px,#51287f 0 116.4px,#542d7b 0 117.8px,#5f3489 0 119.2px,#232936 0 120.6px,#396b60 0 122.0px,#552d7e 0 123.4px,#2a3142 0 124.8px,#28163a 0 126.2px,#363858 0 127.6px,#211e2f 0 129.0px,#433e70 0 130.4px,#663893 0 131.8px,#653893 0 133.2px,#592c87 0 134.6px,#71469d 0 136.0px,#6b3e98 0 137.4px,#694096 0 138.8px,#502d72 0 140.2px,#1d1b28 0 141.6px,#331b50 0 143.0px,#25323e 0 144.4px,#2f2c46 0 145.8px,#472368 0 147.2px,#573180 0 148.6px,#1a5d2f 0 150.1px,#226531 0 151.5px,#1a6f37 0 152.9px,#1c6230 0 154.3px,#2c8f41 0 155.7px,#419741 0 157.1px,#208843 0 158.5px,#1b723a 0 159.9px,#2d9543 0 161.3px,#339745 0 162.7px,#1a6133 0 164.1px,#2d7936 0 165.5px,#1da64d 0 166.9px,#266c33 0 168.3px,#2d8a40 0 169.7px,#299a48 0 171.1px,#1c793c 0 172.5px,#267337 0 173.9px,#26863f 0 175.3px,#3a893d 0 176.7px,#1f6939 0 178.1px,#219f4a 0 179.5px,#499d45 0 180.9px,#46b74c 0 182.3px,#50b94c 0 183.7px,#36ab4b 0 185.1px,#229647 0 186.5px,#51b94c 0 187.9px,#63bc4a 0 189.3px,#35a64a 0 190.7px,#2e9f48 0 192.1px,#2eae4d 0 193.5px,#40b64d 0 194.9px,#34ae4c 0 196.3px,#34a84b 0 197.7px,#58ba4b 0 199.1px,#26a34a 0 200.5px,#1c8b44 0 201.9px,#1a9147 0 203.3px,#337535 0 204.7px,#34843b 0 206.1px,#1d7338 0 207.5px,#37823a 0 209.0px,#3aa649 0 210.4px,#388e41 0 211.8px,#2f7b39 0 213.2px,#2d6534 0 214.6px,#2ba54a 0 216.0px,#4ca848 0 217.4px,#319c45 0 218.8px,#1d8541 0 220.2px,#41b64c 0 221.6px,#4cb84c 0 223.0px,#439c41 0 224.4px,#5cbb4b 0 225.8px,#5dbb4b 0 227.2px,#3cb54d 0 228.6px,#39883d 0 230.0px,#339c45 0 231.4px,#329042 0 232.8px,#38a849 0 234.2px,#248d40 0 235.6px,#2a9043 0 237.0px,#27a14a 0 238.4px)"></div><div style="left:155.28px;width:10.56px;background:linear-gradient(#4d6c58 0 1.4px,#386b3f 0 2.8px,#283c32 0 4.2px,#204529 0 5.6px,#2d863d 0 7.0px,#1c5436 0 8.4px,#24582a 0 9.8px,#379543 0 11.2px,#41a348 0 12.6px,#2b9d46 0 14.0px,#279d49 0 15.4px,#216230 0 16.8px,#209f4a 0 18.2px,#186032 0 19.6px,#1b6032 0 21.0px,#32af4c 0 22.4px,#1d8b43 0 23.8px,#1d813d 0 25.2px,#3a893d 0 26.6px,#247439 0 28.0px,#2a8b3e 0 29.4px,#1a542b 0 30.9px,#2e8b3e 0 32.3px,#1b5b2e 0 33.7px,#3c9f44 0 35.1px,#32642d 0 36.5px,#17502c 0 37.9px,#326a2d 0 39.3px,#216230 0 40.7px,#196437 0 42.1px,#1f8a42 0 43.5px,#257f3c 0 44.9px,#27803c 0 46.3px,#233d1d 0 47.7px,#2e6c33 0 49.1px,#276a39 0 50.5px,#1b7f3e 0 51.9px,#1b763b 0 53.3px,#152316 0 54.7px,#1e5e3d 0 56.1px,#259846 0 57.5px,#1f813e 0 58.9px,#257b3b 0 60.3px,#356c4c 0 61.7px,#1c6936 0 63.1px,#257035 0 64.5px,#124827 0 65.9px,#172922 0 67.3px,#173f21 0 68.7px,#28873d 0 70.1px,#35224c 0 71.5px,#414c63 0 72.9px,#2e1845 0 74.3px,#232631 0 75.7px,#322049 0 77.1px,#2d1743 0 78.5px,#262f40 0 79.9px,#643891 0 81.3px,#663594 0 82.7px,#5a3583 0 84.1px,#613a8b 0 85.5px,#60388d 0 86.9px,#663794 0 88.3px,#61388a 0 89.8px,#1d5836 0 91.2px,#1c4f33 0 92.6px,#1b2823 0 94.0px,#224f32 0 95.4px,#1a532d 0 96.8px,#342f4e 0 98.2px,#2c3b34 0 99.6px,#1e302e 0 101.0px,#205a3b 0 102.4px,#1f793b 0 103.8px,#305a2b 0 105.2px,#1a3328 0 106.6px,#154d2b 0 108.0px,#256430 0 109.4px,#210f2e 0 110.8px,#38214e 0 112.2px,#184125 0 113.6px,#362151 0 115.0px,#301847 0 116.4px,#1c1f29 0 117.8px,#391c59 0 119.2px,#5e3589 0 120.6px,#432360 0 122.0px,#673f93 0 123.4px,#71469e 0 124.8px,#6f439b 0 126.2px,#502578 0 127.6px,#592a87 0 129.0px,#60378b 0 130.4px,#5e3486 0 131.8px,#643892 0 133.2px,#54307a 0 134.6px,#7953a4 0 136.0px,#694295 0 137.4px,#6f449c 0 138.8px,#5d3584 0 140.2px,#6a4397 0 141.6px,#6b3d98 0 143.0px,#48236f 0 144.4px,#6c4099 0 145.8px,#66448a 0 147.2px,#612f8f 0 148.6px,#1b7b3f 0 150.1px,#1a9248 0 151.5px,#1f8040 0 152.9px,#20a44c 0 154.3px,#2c8c41 0 155.7px,#227e3c 0 157.1px,#329741 0 158.5px,#299e47 0 159.9px,#279044 0 161.3px,#2a9245 0 162.7px,#227b3c 0 164.1px,#1e9247 0 165.5px,#2e5f2c 0 166.9px,#1a3519 0 168.3px,#309242 0 169.7px,#2eb04d 0 171.1px,#5db349 0 172.5px,#40b44b 0 173.9px,#57923a 0 175.3px,#67bc4a 0 176.7px,#4ba044 0 178.1px,#52a947 0 179.5px,#38a549 0 180.9px,#3cac4b 0 182.3px,#45b74c 0 183.7px,#3ba346 0 185.1px,#489f43 0 186.5px,#56ba4b 0 187.9px,#45b74c 0 189.3px,#23883d 0 190.7px,#176230 0 192.1px,#28833c 0 193.5px,#24ab4d 0 194.9px,#2bb24e 0 196.3px,#265a2b 0 197.7px,#1d7339 0 199.1px,#37a94b 0 200.5px,#62bc4b 0 201.9px,#40ad4b 0 203.3px,#56a343 0 204.7px,#3fb64d 0 206.1px,#297537 0 207.5px,#3aab4a 0 209.0px,#43a748 0 210.4px,#1c8c45 0 211.8px,#54ab47 0 213.2px,#1d4f35 0 214.6px,#38a349 0 216.0px,#4bb84c 0 217.4px,#2b883e 0 218.8px,#3bb34c 0 220.2px,#3ab54c 0 221.6px,#36b04d 0 223.0px,#4ba244 0 224.4px,#4db84a 0 225.8px,#2eb34e 0 227.2px,#49b74b 0 228.6px,#229044 0 230.0px,#4fb84c 0 231.4px,#44b74d 0 232.8px,#42b04b 0 234.2px,#3e9f43 0 235.6px,#247839 0 237.0px,#3ca849 0 238.4px)"></div><div style="left:165.84px;width:10.56px;background:linear-gradient(#404862 0 1.4px,#573081 0 2.8px,#393258 0 4.2px,#3a2e5c 0 5.6px,#3a2454 0 7.0px,#1c0d27 0 8.4px,#3c2859 0 9.8px,#47306b 0 11.2px,#2e1a43 0 12.6px,#2f2b3d 0 14.0px,#2e1543 0 15.4px,#452962 0 16.8px,#22112f 0 18.2px,#32184b 0 19.6px,#2d1541 0 21.0px,#31274b 0 22.4px,#552c7b 0 23.8px,#4e2875 0 25.2px,#38365e 0 26.6px,#512678 0 28.0px,#361c51 0 29.4px,#1a0f23 0 30.9px,#3a1c55 0 32.3px,#231332 0 33.7px,#231931 0 35.1px,#341850 0 36.5px,#2e1544 0 37.9px,#4a256c 0 39.3px,#2b233c 0 40.7px,#3d1d5b 0 42.1px,#261338 0 43.5px,#271839 0 44.9px,#4b2372 0 46.3px,#4b2d69 0 47.7px,#5b3084 0 49.1px,#402062 0 50.5px,#3b2757 0 51.9px,#1c0b25 0 53.3px,#371d56 0 54.7px,#281537 0 56.1px,#4c3b73 0 57.5px,#381c53 0 58.9px,#543776 0 60.3px,#273943 0 61.7px,#382151 0 63.1px,#193525 0 64.5px,#4c276f 0 65.9px,#2b3349 0 67.3px,#442667 0 68.7px,#195133 0 70.1px,#1e1829 0 71.5px,#485967 0 72.9px,#296b4e 0 74.3px,#3a4b55 0 75.7px,#1f1c27 0 77.1px,#212c38 0 78.5px,#20242c 0 79.9px,#1e5c2d 0 81.3px,#238d44 0 82.7px,#1b6932 0 84.1px,#198343 0 85.5px,#268b3e 0 86.9px,#18321b 0 88.3px,#1b4823 0 89.8px,#2f6931 0 91.2px,#2b4249 0 92.6px,#19542e 0 94.0px,#1b4829 0 95.4px,#2b6b33 0 96.8px,#194724 0 98.2px,#248f43 0 99.6px,#1a6334 0 101.0px,#346333 0 102.4px,#15532d 0 103.8px,#23853f 0 105.2px,#1f6230 0 106.6px,#1d5c2d 0 108.0px,#1d7338 0 109.4px,#233436 0 110.8px,#2d1e40 0 112.2px,#155a2c 0 113.6px,#1a201f 0 115.0px,#25442f 0 116.4px,#164024 0 117.8px,#13231d 0 119.2px,#2b544d 0 120.6px,#275d4a 0 122.0px,#326343 0 123.4px,#415452 0 124.8px,#12331f 0 126.2px,#2b3a49 0 127.6px,#1b4f2b 0 129.0px,#176335 0 130.4px,#1a4524 0 131.8px,#195235 0 133.2px,#144326 0 134.6px,#228741 0 136.0px,#207b3b 0 137.4px,#196f3b 0 138.8px,#1a5534 0 140.2px,#432162 0 141.6px,#4b2e6a 0 143.0px,#26343b 0 144.4px,#3f5167 0 145.8px,#613a86 0 147.2px,#49216d 0 148.6px,#13512a 0 150.1px,#1d402f 0 151.5px,#18371e 0 152.9px,#265346 0 154.3px,#195630 0 155.7px,#13201a 0 157.1px,#1f5e2e 0 158.5px,#294e3c 0 159.9px,#2b5f50 0 161.3px,#3eaa4a 0 162.7px,#15572c 0 164.1px,#257c52 0 165.5px,#1a311a 0 166.9px,#173e2d 0 168.3px,#421e64 0 169.7px,#3d1c5d 0 171.1px,#301e44 0 172.5px,#40215f 0 173.9px,#181e23 0 175.3px,#343152 0 176.7px,#4f2676 0 178.1px,#2e2546 0 179.5px,#26473f 0 180.9px,#1a582f 0 182.3px,#226b34 0 183.7px,#265448 0 185.1px,#25393b 0 186.5px,#2b853b 0 187.9px,#153827 0 189.3px,#287a52 0 190.7px,#264948 0 192.1px,#174728 0 193.5px,#19532c 0 194.9px,#27492f 0 196.3px,#2e2a4a 0 197.7px,#2a5935 0 199.1px,#50297b 0 200.5px,#3b2651 0 201.9px,#2a1a3b 0 203.3px,#462a60 0 204.7px,#1b0d24 0 206.1px,#321b48 0 207.5px,#38365f 0 209.0px,#111912 0 210.4px,#3e1f5f 0 211.8px,#552d81 0 213.2px,#392250 0 214.6px,#273138 0 216.0px,#272034 0 217.4px,#413158 0 218.8px,#217639 0 220.2px,#266438 0 221.6px,#196031 0 223.0px,#194c30 0 224.4px,#359d47 0 225.8px,#176131 0 227.2px,#184427 0 228.6px,#142116 0 230.0px,#27383e 0 231.4px,#1a2a2a 0 232.8px,#17542f 0 234.2px,#2a3345 0 235.6px,#176c37 0 237.0px,#174b2f 0 238.4px)"></div><div style="left:176.40px;width:10.56px;background:linear-gradient(#48296a 0 1.4px,#4c316f 0 2.8px,#362b50 0 4.2px,#1d0d28 0 5.6px,#37224d 0 7.0px,#391b56 0 8.4px,#3d1b5b 0 9.8px,#151e17 0 11.2px,#2a4747 0 12.6px,#4a2676 0 14.0px,#3a2654 0 15.4px,#452165 0 16.8px,#182628 0 18.2px,#442266 0 19.6px,#233a39 0 21.0px,#305541 0 22.4px,#1b1b24 0 23.8px,#3a1c56 0 25.2px,#1a1d20 0 26.6px,#2e4d45 0 28.0px,#14542f 0 29.4px,#2c4641 0 30.9px,#2a253b 0 32.3px,#253239 0 33.7px,#182a21 0 35.1px,#4a4763 0 36.5px,#2e2645 0 37.9px,#2c2f3c 0 39.3px,#196c36 0 40.7px,#1c6f37 0 42.1px,#2f9341 0 43.5px,#164524 0 44.9px,#1e5236 0 46.3px,#234f42 0 47.7px,#30853c 0 49.1px,#1f5332 0 50.5px,#2f223f 0 51.9px,#351750 0 53.3px,#462868 0 54.7px,#2d173f 0 56.1px,#2b183f 0 57.5px,#3f1e5e 0 58.9px,#412164 0 60.3px,#6f439c 0 61.7px,#643592 0 63.1px,#592d87 0 64.5px,#7b56a6 0 65.9px,#6b3d98 0 67.3px,#6a3f97 0 68.7px,#6c3e99 0 70.1px,#623690 0 71.5px,#542e7b 0 72.9px,#6e429b 0 74.3px,#623c8d 0 75.7px,#653393 0 77.1px,#6f439c 0 78.5px,#4c2375 0 79.9px,#3f3464 0 81.3px,#45206a 0 82.7px,#271236 0 84.1px,#29143b 0 85.5px,#462069 0 86.9px,#230f32 0 88.3px,#2f1546 0 89.8px,#165d31 0 91.2px,#287435 0 92.6px,#1b4927 0 94.0px,#193127 0 95.4px,#227938 0 96.8px,#2e6450 0 98.2px,#1f3b29 0 99.6px,#11331e 0 101.0px,#194421 0 102.4px,#164b28 0 103.8px,#26592a 0 105.2px,#255c2c 0 106.6px,#18582e 0 108.0px,#2d663f 0 109.4px,#225b40 0 110.8px,#171f21 0 112.2px,#165d2e 0 113.6px,#1f7a42 0 115.0px,#164224 0 116.4px,#1e4c29 0 117.8px,#152016 0 119.2px,#194425 0 120.6px,#3a6040 0 122.0px,#1e7439 0 123.4px,#1e5a38 0 124.8px,#303f4f 0 126.2px,#226f3b 0 127.6px,#17241b 0 129.0px,#164422 0 130.4px,#1b6433 0 131.8px,#26443f 0 133.2px,#235f2c 0 134.6px,#3a8047 0 136.0px,#224436 0 137.4px,#1e4b37 0 138.8px,#27564c 0 140.2px,#2d1641 0 141.6px,#493164 0 143.0px,#2b1340 0 144.4px,#332d50 0 145.8px,#311948 0 147.2px,#351950 0 148.6px,#409942 0 150.1px,#219c49 0 151.5px,#248c41 0 152.9px,#24863d 0 154.3px,#24a84c 0 155.7px,#22843f 0 157.1px,#399543 0 158.5px,#218640 0 159.9px,#1e9446 0 161.3px,#377636 0 162.7px,#1b482d 0 164.1px,#1e4330 0 165.5px,#18502b 0 166.9px,#14341d 0 168.3px,#6d409a 0 169.7px,#553180 0 171.1px,#673995 0 172.5px,#764da1 0 173.9px,#33194c 0 175.3px,#5a3083 0 176.7px,#60358b 0 178.1px,#5f308d 0 179.5px,#472866 0 180.9px,#401f64 0 182.3px,#2f2b4a 0 183.7px,#2a1b3f 0 185.1px,#3a1a56 0 186.5px,#3b2555 0 187.9px,#202533 0 189.3px,#542b82 0 190.7px,#4c2776 0 192.1px,#220c2e 0 193.5px,#48276b 0 194.9px,#463464 0 196.3px,#341a50 0 197.7px,#2d1442 0 199.1px,#3b3260 0 200.5px,#381855 0 201.9px,#1e102a 0 203.3px,#261334 0 204.7px,#34244d 0 206.1px,#412160 0 207.5px,#1d1924 0 209.0px,#14381f 0 210.4px,#1c2d28 0 211.8px,#338139 0 213.2px,#284522 0 214.6px,#297543 0 216.0px,#1b5834 0 217.4px,#1b7038 0 218.8px,#38254f 0 220.2px,#371a53 0 221.6px,#263936 0 223.0px,#2a2b39 0 224.4px,#101111 0 225.8px,#4c2671 0 227.2px,#4b2971 0 228.6px,#49226d 0 230.0px,#48316b 0 231.4px,#261137 0 232.8px,#2a1b3c 0 234.2px,#371854 0 235.6px,#2d1544 0 237.0px,#3c2955 0 238.4px)"></div><div style="left:186.96px;width:10.56px;background:linear-gradient(#5d3188 0 1.4px,#5c3387 0 2.8px,#582d87 0 4.2px,#553079 0 5.6px,#562e7d 0 7.0px,#6b4497 0 8.4px,#4b2c6d 0 9.8px,#61348f 0 11.2px,#4e2770 0 12.6px,#5f328b 0 14.0px,#683d95 0 15.4px,#663c93 0 16.8px,#51277a 0 18.2px,#70449c 0 19.6px,#744ca0 0 21.0px,#693f96 0 22.4px,#764ea2 0 23.8px,#6a4097 0 25.2px,#764da1 0 26.6px,#7a54a5 0 28.0px,#663f90 0 29.4px,#5f3688 0 30.9px,#663893 0 32.3px,#6d409a 0 33.7px,#5e3386 0 35.1px,#673794 0 36.5px,#643392 0 37.9px,#683e95 0 39.3px,#643891 0 40.7px,#6c3f99 0 42.1px,#50287d 0 43.5px,#552984 0 44.9px,#5b2d87 0 46.3px,#6d4998 0 47.7px,#543176 0 49.1px,#633591 0 50.5px,#492a69 0 51.9px,#5e308c 0 53.3px,#61368b 0 54.7px,#653d90 0 56.1px,#553477 0 57.5px,#562c83 0 58.9px,#532c7c 0 60.3px,#31184b 0 61.7px,#34194f 0 63.1px,#321548 0 64.5px,#513074 0 65.9px,#2d1642 0 67.3px,#37214d 0 68.7px,#3b1859 0 70.1px,#401d61 0 71.5px,#35194b 0 72.9px,#4f287c 0 74.3px,#392b59 0 75.7px,#302148 0 77.1px,#1d0e27 0 78.5px,#2b2c45 0 79.9px,#1b0e24 0 81.3px,#22162f 0 82.7px,#333454 0 84.1px,#29173c 0 85.5px,#25403f 0 86.9px,#192321 0 88.3px,#232438 0 89.8px,#5d3786 0 91.2px,#6a3d97 0 92.6px,#6a3b97 0 94.0px,#684193 0 95.4px,#673c94 0 96.8px,#572e7f 0 98.2px,#744ba0 0 99.6px,#683a95 0 101.0px,#653793 0 102.4px,#33184d 0 103.8px,#3f215c 0 105.2px,#613290 0 106.6px,#5a2c87 0 108.0px,#451f69 0 109.4px,#5f3788 0 110.8px,#4e2872 0 112.2px,#4d2778 0 113.6px,#643d8c 0 115.0px,#694096 0 116.4px,#502b72 0 117.8px,#56317b 0 119.2px,#34164c 0 120.6px,#212933 0 122.0px,#3e315c 0 123.4px,#32184c 0 124.8px,#3d2e5b 0 126.2px,#2c1c42 0 127.6px,#1c1b22 0 129.0px,#401e62 0 130.4px,#353252 0 131.8px,#4e2974 0 133.2px,#351b53 0 134.6px,#3a1f52 0 136.0px,#3b2254 0 137.4px,#46236e 0 138.8px,#307859 0 140.2px,#45206b 0 141.6px,#663893 0 143.0px,#653393 0 144.4px,#4c2c6d 0 145.8px,#67448b 0 147.2px,#60368a 0 148.6px,#35893e 0 150.1px,#207a3a 0 151.5px,#286b31 0 152.9px,#2e8a3c 0 154.3px,#2aac4c 0 155.7px,#4bab48 0 157.1px,#1da24c 0 158.5px,#32ab4b 0 159.9px,#379342 0 161.3px,#3fb64d 0 162.7px,#1fa24b 0 164.1px,#197e41 0 165.5px,#249a48 0 166.9px,#217d48 0 168.3px,#13281f 0 169.7px,#1a5f30 0 171.1px,#16331e 0 172.5px,#25612e 0 173.9px,#185c2e 0 175.3px,#186738 0 176.7px,#1a4f27 0 178.1px,#166032 0 179.5px,#175d30 0 180.9px,#1e8c44 0 182.3px,#174626 0 183.7px,#1f8c40 0 185.1px,#193529 0 186.5px,#308c3c 0 187.9px,#1c4b24 0 189.3px,#185028 0 190.7px,#196031 0 192.1px,#36623a 0 193.5px,#1d6531 0 194.9px,#1d5b40 0 196.3px,#152619 0 197.7px,#244925 0 199.1px,#1a3e28 0 200.5px,#254541 0 201.9px,#1b7e3e 0 203.3px,#4a7e4f 0 204.7px,#154725 0 206.1px,#162f21 0 207.5px,#317735 0 209.0px,#1a4229 0 210.4px,#164927 0 211.8px,#2c6945 0 213.2px,#264c44 0 214.6px,#164628 0 216.0px,#131814 0 217.4px,#1a5c34 0 218.8px,#2c7e39 0 220.2px,#1b522a 0 221.6px,#1f6934 0 223.0px,#205529 0 224.4px,#176232 0 225.8px,#112819 0 227.2px,#143b1f 0 228.6px,#1c2223 0 230.0px,#1b532a 0 231.4px,#143d22 0 232.8px,#1c5c2f 0 234.2px,#275e2e 0 235.6px,#1e472c 0 237.0px,#1e6130 0 238.4px)"></div><div style="left:197.52px;width:10.56px;background:linear-gradient(#453b68 0 1.4px,#643d8d 0 2.8px,#5e308c 0 4.2px,#452662 0 5.6px,#633991 0 7.0px,#603a8c 0 8.4px,#3e205b 0 9.8px,#764ea1 0 11.2px,#5b2f85 0 12.6px,#7851a3 0 14.0px,#60398c 0 15.4px,#744ba0 0 16.8px,#6e419b 0 18.2px,#6f479b 0 19.6px,#72489e 0 21.0px,#6e429b 0 22.4px,#734a9f 0 23.8px,#6c4498 0 25.2px,#7750a3 0 26.6px,#6e419b 0 28.0px,#684292 0 29.4px,#6d419a 0 30.9px,#6e449a 0 32.3px,#734b9f 0 33.7px,#764ea2 0 35.1px,#70449c 0 36.5px,#73499f 0 37.9px,#6f479b 0 39.3px,#4b3069 0 40.7px,#734a9f 0 42.1px,#61368e 0 43.5px,#6b4298 0 44.9px,#663794 0 46.3px,#684193 0 47.7px,#593285 0 49.1px,#694096 0 50.5px,#4b2677 0 51.9px,#653c91 0 53.3px,#6b4198 0 54.7px,#754da1 0 56.1px,#593280 0 57.5px,#61328f 0 58.9px,#5f358a 0 60.3px,#19562d 0 61.7px,#173a20 0 63.1px,#1b472a 0 64.5px,#183f22 0 65.9px,#204135 0 67.3px,#204830 0 68.7px,#2d8e41 0 70.1px,#4a276e 0 71.5px,#3b3252 0 72.9px,#4f2974 0 74.3px,#111212 0 75.7px,#462467 0 77.1px,#361a51 0 78.5px,#30284b 0 79.9px,#268e42 0 81.3px,#1e9244 0 82.7px,#1b7039 0 84.1px,#2e9c48 0 85.5px,#256e33 0 86.9px,#1f7738 0 88.3px,#1d482c 0 89.8px,#603b88 0 91.2px,#71469d 0 92.6px,#603789 0 94.0px,#633991 0 95.4px,#6d419a 0 96.8px,#744aa0 0 98.2px,#764fa2 0 99.6px,#58337f 0 101.0px,#542e79 0 102.4px,#371a55 0 103.8px,#411f60 0 105.2px,#572884 0 106.6px,#4f2578 0 108.0px,#47206b 0 109.4px,#7a55a5 0 110.8px,#5e3984 0 112.2px,#502c75 0 113.6px,#60398b 0 115.0px,#6d419a 0 116.4px,#734a9f 0 117.8px,#6c3f99 0 119.2px,#70459d 0 120.6px,#67428e 0 122.0px,#70459d 0 123.4px,#764ea2 0 124.8px,#7750a3 0 126.2px,#5f3b88 0 127.6px,#5b2e87 0 129.0px,#70449c 0 130.4px,#4c2a6f 0 131.8px,#633a8d 0 133.2px,#593382 0 134.6px,#663f92 0 136.0px,#693b97 0 137.4px,#6c4199 0 138.8px,#4c2a6e 0 140.2px,#71469d 0 141.6px,#7952a4 0 143.0px,#744aa0 0 144.4px,#694395 0 145.8px,#663f93 0 147.2px,#6b3c98 0 148.6px,#1f783a 0 150.1px,#1c813e 0 151.5px,#16502b 0 152.9px,#1a803d 0 154.3px,#1a7b3c 0 155.7px,#2f9843 0 157.1px,#297738 0 158.5px,#195a33 0 159.9px,#1d572b 0 161.3px,#365c59 0 162.7px,#19302b 0 164.1px,#1d6136 0 165.5px,#194827 0 166.9px,#37545a 0 168.3px,#122c1b 0 169.7px,#257437 0 171.1px,#1b6936 0 172.5px,#196d38 0 173.9px,#3c4f3e 0 175.3px,#2d6e32 0 176.7px,#2b6a37 0 178.1px,#1b442f 0 179.5px,#427431 0 180.9px,#46a043 0 182.3px,#27a94c 0 183.7px,#2b8b3e 0 185.1px,#1ea24c 0 186.5px,#499743 0 187.9px,#36a249 0 189.3px,#176636 0 190.7px,#25773a 0 192.1px,#3b7645 0 193.5px,#309c47 0 194.9px,#2f823b 0 196.3px,#196231 0 197.7px,#17542f 0 199.1px,#287941 0 200.5px,#248b3e 0 201.9px,#1c8643 0 203.3px,#277838 0 204.7px,#22843f 0 206.1px,#215227 0 207.5px,#41a949 0 209.0px,#207d3c 0 210.4px,#173d22 0 211.8px,#31b34d 0 213.2px,#193827 0 214.6px,#1d7e3c 0 216.0px,#1c8843 0 217.4px,#1a7e40 0 218.8px,#48a948 0 220.2px,#54a545 0 221.6px,#3fb64d 0 223.0px,#61bb4b 0 224.4px,#5cbb4a 0 225.8px,#46b44c 0 227.2px,#43b64c 0 228.6px,#2c9a44 0 230.0px,#42a748 0 231.4px,#29ab4d 0 232.8px,#4db84b 0 234.2px,#3b9d44 0 235.6px,#42ac4a 0 237.0px,#2e9242 0 238.4px)"></div><div style="left:208.08px;width:10.56px;background:linear-gradient(#335e41 0 1.4px,#173923 0 2.8px,#172817 0 4.2px,#1d7f3e 0 5.6px,#1d6b35 0 7.0px,#176433 0 8.4px,#275548 0 9.8px,#206040 0 11.2px,#2f5227 0 12.6px,#3e7950 0 14.0px,#174222 0 15.4px,#1c3428 0 16.8px,#236d3c 0 18.2px,#2b6a4a 0 19.6px,#482468 0 21.0px,#371d55 0 22.4px,#47216d 0 23.8px,#5f338b 0 25.2px,#653b92 0 26.6px,#48216c 0 28.0px,#402957 0 29.4px,#2d1b3f 0 30.9px,#442364 0 32.3px,#262331 0 33.7px,#5a3088 0 35.1px,#41245f 0 36.5px,#381b56 0 37.9px,#552a82 0 39.3px,#261f35 0 40.7px,#45216c 0 42.1px,#311a47 0 43.5px,#130916 0 44.9px,#34184e 0 46.3px,#4d2577 0 47.7px,#3e1d5c 0 49.1px,#452067 0 50.5px,#4c2573 0 51.9px,#6d409a 0 53.3px,#73499f 0 54.7px,#744ba0 0 56.1px,#532d78 0 57.5px,#72489f 0 58.9px,#6e449a 0 60.3px,#24372e 0 61.7px,#1c2928 0 63.1px,#22332f 0 64.5px,#1f3d34 0 65.9px,#184631 0 67.3px,#251834 0 68.7px,#2b7a3a 0 70.1px,#211b2c 0 71.5px,#452a67 0 72.9px,#371854 0 74.3px,#311b4a 0 75.7px,#2e1746 0 77.1px,#34194e 0 78.5px,#363057 0 79.9px,#329844 0 81.3px,#43ae4b 0 82.7px,#142415 0 84.1px,#2c7132 0 85.5px,#1a9248 0 86.9px,#226d32 0 88.3px,#239042 0 89.8px,#6f449c 0 91.2px,#653893 0 92.6px,#512f72 0 94.0px,#60328e 0 95.4px,#60368e 0 96.8px,#683d95 0 98.2px,#6e449b 0 99.6px,#462662 0 101.0px,#442169 0 102.4px,#33194d 0 103.8px,#282c42 0 105.2px,#361d4e 0 106.6px,#3b1b5b 0 108.0px,#464b70 0 109.4px,#257336 0 110.8px,#1f4d2e 0 112.2px,#3f9f45 0 113.6px,#153e25 0 115.0px,#297a3b 0 116.4px,#26733c 0 117.8px,#2b3846 0 119.2px,#7750a3 0 120.6px,#563377 0 122.0px,#7a54a5 0 123.4px,#7b56a6 0 124.8px,#73499f 0 126.2px,#70459d 0 127.6px,#5d3488 0 129.0px,#673f92 0 130.4px,#552a83 0 131.8px,#623a8e 0 133.2px,#592d85 0 134.6px,#62368f 0 136.0px,#6a3d98 0 137.4px,#6e479a 0 138.8px,#4c2574 0 140.2px,#683d96 0 141.6px,#70459c 0 143.0px,#552a7b 0 144.4px,#4f3870 0 145.8px,#70459d 0 147.2px,#43245f 0 148.6px,#144c2a 0 150.1px,#337331 0 151.5px,#183f24 0 152.9px,#1b4d31 0 154.3px,#22493b 0 155.7px,#23543c 0 157.1px,#1e813f 0 158.5px,#358b3b 0 159.9px,#378f3e 0 161.3px,#32823d 0 162.7px,#1a6636 0 164.1px,#29ab4c 0 165.5px,#103821 0 166.9px,#226230 0 168.3px,#3d9844 0 169.7px,#33a348 0 171.1px,#43b24b 0 172.5px,#45aa48 0 173.9px,#31a249 0 175.3px,#4bac4a 0 176.7px,#41b64c 0 178.1px,#3bb54c 0 179.5px,#267f3b 0 180.9px,#60bb4b 0 182.3px,#2a9c48 0 183.7px,#4ea143 0 185.1px,#4cad4a 0 186.5px,#4aad4a 0 187.9px,#57ba4b 0 189.3px,#2ca64b 0 190.7px,#329e48 0 192.1px,#1f8f45 0 193.5px,#459542 0 194.9px,#4db84c 0 196.3px,#329b46 0 197.7px,#56ba4a 0 199.1px,#2c9544 0 200.5px,#429d42 0 201.9px,#50b94b 0 203.3px,#3fab4a 0 204.7px,#4eb84c 0 206.1px,#174e29 0 207.5px,#45b74c 0 209.0px,#19723b 0 210.4px,#155c33 0 211.8px,#1d833d 0 213.2px,#234a22 0 214.6px,#239244 0 216.0px,#229d48 0 217.4px,#1f793c 0 218.8px,#34a84b 0 220.2px,#198644 0 221.6px,#3bb54c 0 223.0px,#399042 0 224.4px,#258e3f 0 225.8px,#1c823f 0 227.2px,#219847 0 228.6px,#226e35 0 230.0px,#2e8440 0 231.4px,#1f9748 0 232.8px,#3bac4a 0 234.2px,#2e8f43 0 235.6px,#208540 0 237.0px,#1a733c 0 238.4px)"></div><div style="left:220.60px;width:10.56px;background:linear-gradient(#4f6b52 0 1.4px,#3a6c3b 0 2.8px,#271b38 0 4.2px,#16251c 0 5.6px,#1e783a 0 7.0px,#284840 0 8.4px,#1b1925 0 9.8px,#152f1a 0 11.2px,#2d893f 0 12.6px,#293b43 0 14.0px,#326730 0 15.4px,#184124 0 16.8px,#30823b 0 18.2px,#1a5c2f 0 19.6px,#15452c 0 21.0px,#2f7235 0 22.4px,#323b2e 0 23.8px,#1b4723 0 25.2px,#20282b 0 26.6px,#16371e 0 28.0px,#203b34 0 29.4px,#1c4231 0 30.9px,#185a33 0 32.3px,#1d7539 0 33.7px,#1a6c38 0 35.1px,#18582e 0 36.5px,#2f5039 0 37.9px,#1c352e 0 39.3px,#0e2517 0 40.7px,#1d3a2e 0 42.1px,#27714c 0 43.5px,#2e3c44 0 44.9px,#203936 0 46.3px,#241133 0 47.7px,#27863e 0 49.1px,#2c1340 0 50.5px,#20613d 0 51.9px,#1c6431 0 53.3px,#1d4a2f 0 54.7px,#164a2d 0 56.1px,#337939 0 57.5px,#192f25 0 58.9px,#163921 0 60.3px,#13381e 0 61.7px,#203036 0 63.1px,#206d36 0 64.5px,#265c47 0 65.9px,#13522a 0 67.3px,#1f3e2b 0 68.7px,#39632e 0 70.1px,#17371e 0 71.5px,#190a20 0 72.9px,#363a59 0 74.3px,#1d513a 0 75.7px,#3d5465 0 77.1px,#144727 0 78.5px,#2d3e40 0 79.9px,#2d7135 0 81.3px,#182f1f 0 82.7px,#184d2e 0 84.1px,#134023 0 85.5px,#133d23 0 86.9px,#1c4436 0 88.3px,#16291b 0 89.8px,#194a28 0 91.2px,#165e31 0 92.6px,#1a8040 0 94.0px,#184e2b 0 95.4px,#1f4835 0 96.8px,#12261a 0 98.2px,#1f3f33 0 99.6px,#2c883f 0 101.0px,#1a8041 0 102.4px,#195932 0 103.8px,#34a247 0 105.2px,#1a7b3f 0 106.6px,#298741 0 108.0px,#47a547 0 109.4px,#228f45 0 110.8px,#17241a 0 112.2px,#1e7339 0 113.6px,#277846 0 115.0px,#1b733a 0 116.4px,#1b6b36 0 117.8px,#1c4c29 0 119.2px,#225d33 0 120.6px,#1c7740 0 122.0px,#235a37 0 123.4px,#332c46 0 124.8px,#1a2229 0 126.2px,#207939 0 127.6px,#327334 0 129.0px,#28692e 0 130.4px,#3b6f38 0 131.8px,#22383a 0 133.2px,#21773c 0 134.6px,#183920 0 136.0px,#193f2f 0 137.4px,#1f352e 0 138.8px,#194626 0 140.2px,#289644 0 141.6px,#319d46 0 143.0px,#1c9245 0 144.4px,#33642b 0 145.8px,#215429 0 147.2px,#1f8a43 0 148.6px,#245e2c 0 150.1px,#28452a 0 151.5px,#295448 0 152.9px,#1d1427 0 154.3px,#1a6e39 0 155.7px,#1d4925 0 157.1px,#268548 0 158.5px,#1c562b 0 159.9px,#296131 0 161.3px,#165c30 0 162.7px,#140a19 0 164.1px,#1b723b 0 165.5px,#133321 0 166.9px,#2b5335 0 168.3px,#4a226f 0 169.7px,#48236d 0 171.1px,#56297f 0 172.5px,#592b87 0 173.9px,#402760 0 175.3px,#4e2477 0 176.7px,#562c80 0 178.1px,#633091 0 179.5px,#582d86 0 180.9px,#5e3485 0 182.3px,#663a93 0 183.7px,#573778 0 185.1px,#3d1c5b 0 186.5px,#663994 0 187.9px,#321b4b 0 189.3px,#562a80 0 190.7px,#56307b 0 192.1px,#51297c 0 193.5px,#60368c 0 194.9px,#623390 0 196.3px,#61368e 0 197.7px,#663f93 0 199.1px,#663994 0 200.5px,#663e91 0 201.9px,#5b2e87 0 203.3px,#673a95 0 204.7px,#4d2673 0 206.1px,#532e78 0 207.5px,#583879 0 209.0px,#1b2727 0 210.4px,#2c1b41 0 211.8px,#38264d 0 213.2px,#5b3082 0 214.6px,#371a52 0 216.0px,#22212e 0 217.4px,#251734 0 218.8px,#2d1645 0 220.2px,#35194e 0 221.6px,#1b3525 0 223.0px,#241235 0 224.4px,#182b25 0 225.8px,#421e60 0 227.2px,#3b2e56 0 228.6px,#5a3781 0 230.0px,#653892 0 231.4px,#5c3289 0 232.8px,#4a296c 0 234.2px,#563080 0 235.6px,#5f358d 0 237.0px,#472268 0 238.4px)"></div><div style="left:231.16px;width:10.56px;background:linear-gradient(#0b0f0b 0 1.4px,#244f26 0 2.8px,#1f5834 0 4.2px,#144e29 0 5.6px,#296b36 0 7.0px,#152c1d 0 8.4px,#1a6232 0 9.8px,#1a6432 0 11.2px,#17572b 0 12.6px,#1b4a28 0 14.0px,#39894a 0 15.4px,#243c3a 0 16.8px,#3a7e37 0 18.2px,#24592f 0 19.6px,#1c7e3e 0 21.0px,#35aa4a 0 22.4px,#2d9946 0 23.8px,#205c33 0 25.2px,#438037 0 26.6px,#2f8540 0 28.0px,#32ac4c 0 29.4px,#2eb04d 0 30.9px,#318a3e 0 32.3px,#289346 0 33.7px,#1d753b 0 35.1px,#1a5c36 0 36.5px,#2e9345 0 37.9px,#23813b 0 39.3px,#2b9241 0 40.7px,#269d48 0 42.1px,#22853f 0 43.5px,#1d9548 0 44.9px,#1f8c43 0 46.3px,#1d5439 0 47.7px,#279544 0 49.1px,#408e3f 0 50.5px,#207238 0 51.9px,#1f5e38 0 53.3px,#1d2630 0 54.7px,#2c4048 0 56.1px,#1a572b 0 57.5px,#19552d 0 58.9px,#1d5936 0 60.3px,#259245 0 61.7px,#16181a 0 63.1px,#2c6e31 0 64.5px,#357042 0 65.9px,#236b30 0 67.3px,#1d6a33 0 68.7px,#21723b 0 70.1px,#2b863e 0 71.5px,#1b3725 0 72.9px,#1c5b2d 0 74.3px,#216e3f 0 75.7px,#186131 0 77.1px,#145a32 0 78.5px,#2e553a 0 79.9px,#165c32 0 81.3px,#0e2719 0 82.7px,#18552b 0 84.1px,#13532b 0 85.5px,#268741 0 86.9px,#203933 0 88.3px,#19582f 0 89.8px,#282f3f 0 91.2px,#1c1723 0 92.6px,#242a37 0 94.0px,#1d3b2d 0 95.4px,#2b424c 0 96.8px,#293544 0 98.2px,#293e3c 0 99.6px,#183522 0 101.0px,#184c2a 0 102.4px,#197940 0 103.8px,#2b863c 0 105.2px,#19392a 0 106.6px,#194827 0 108.0px,#19592e 0 109.4px,#19743d 0 110.8px,#1e7b43 0 112.2px,#5ebb4b 0 113.6px,#30893e 0 115.0px,#25a54b 0 116.4px,#1a733b 0 117.8px,#25a64c 0 119.2px,#1a7f3d 0 120.6px,#20863f 0 122.0px,#2d6442 0 123.4px,#17301b 0 124.8px,#1e513a 0 126.2px,#183c21 0 127.6px,#184e27 0 129.0px,#195131 0 130.4px,#273936 0 131.8px,#166b37 0 133.2px,#213632 0 134.6px,#314334 0 136.0px,#22463f 0 137.4px,#1a362c 0 138.8px,#173320 0 140.2px,#1a4224 0 141.6px,#1a432f 0 143.0px,#172b18 0 144.4px,#2a6a33 0 145.8px,#1a452c 0 147.2px,#1b4535 0 148.6px,#24a64c 0 150.1px,#208840 0 151.5px,#124425 0 152.9px,#1e5429 0 154.3px,#218440 0 155.7px,#289144 0 157.1px,#1c8641 0 158.5px,#206d36 0 159.9px,#1d7d3c 0 161.3px,#144125 0 162.7px,#14542e 0 164.1px,#224937 0 165.5px,#144628 0 166.9px,#1b4430 0 168.3px,#48246b 0 169.7px,#512a77 0 171.1px,#49266e 0 172.5px,#643492 0 173.9px,#402060 0 175.3px,#493069 0 176.7px,#5c2c8b 0 178.1px,#61368d 0 179.5px,#653593 0 180.9px,#653693 0 182.3px,#5f378a 0 183.7px,#563778 0 185.1px,#4e2872 0 186.5px,#693c96 0 187.9px,#534d7f 0 189.3px,#5b2a8a 0 190.7px,#5d2d8b 0 192.1px,#5d3285 0 193.5px,#693f96 0 194.9px,#4f2977 0 196.3px,#48246f 0 197.7px,#502978 0 199.1px,#363c51 0 200.5px,#140c19 0 201.9px,#592a88 0 203.3px,#342445 0 204.7px,#27133a 0 206.1px,#331d4d 0 207.5px,#3a4360 0 209.0px,#1f102d 0 210.4px,#4b4379 0 211.8px,#311548 0 213.2px,#442168 0 214.6px,#371d53 0 216.0px,#452263 0 217.4px,#352a52 0 218.8px,#2d1a41 0 220.2px,#291738 0 221.6px,#294743 0 223.0px,#2c143d 0 224.4px,#1f3034 0 225.8px,#301448 0 227.2px,#3f1c5e 0 228.6px,#60368a 0 230.0px,#5a2f81 0 231.4px,#552a7b 0 232.8px,#5b3387 0 234.2px,#613a88 0 235.6px,#502679 0 237.0px,#60378e 0 238.4px)"></div><div style="left:241.72px;width:10.56px;background:linear-gradient(#31863c 0 1.4px,#2f7351 0 2.8px,#1b2229 0 4.2px,#207141 0 5.6px,#42963f 0 7.0px,#164c26 0 8.4px,#1b1a23 0 9.8px,#205529 0 11.2px,#354437 0 12.6px,#0f1d12 0 14.0px,#194e2a 0 15.4px,#165b31 0 16.8px,#1ca34c 0 18.2px,#163821 0 19.6px,#2a9947 0 21.0px,#56ba4b 0 22.4px,#49b54c 0 23.8px,#43a748 0 25.2px,#4b9742 0 26.6px,#3e8038 0 28.0px,#34a94a 0 29.4px,#1b7c3c 0 30.9px,#32854b 0 32.3px,#21a14b 0 33.7px,#1d8540 0 35.1px,#295f2f 0 36.5px,#1f7839 0 37.9px,#326f34 0 39.3px,#2d8c40 0 40.7px,#1b9046 0 42.1px,#2caa4c 0 43.5px,#1c7e3e 0 44.9px,#124426 0 46.3px,#2c7449 0 47.7px,#43a247 0 49.1px,#33873c 0 50.5px,#25863f 0 51.9px,#197b40 0 53.3px,#1d9147 0 54.7px,#289143 0 56.1px,#3e8339 0 57.5px,#41a748 0 58.9px,#1f8a42 0 60.3px,#279044 0 61.7px,#1b592f 0 63.1px,#197c40 0 64.5px,#22693b 0 65.9px,#1e6e37 0 67.3px,#1b5433 0 68.7px,#1e6b35 0 70.1px,#183a23 0 71.5px,#3b5d43 0 72.9px,#1b532d 0 74.3px,#1a6735 0 75.7px,#216136 0 77.1px,#2f6e33 0 78.5px,#1a733b 0 79.9px,#51a345 0 81.3px,#2ba64a 0 82.7px,#299c48 0 84.1px,#32b24d 0 85.5px,#1a793c 0 86.9px,#1c6c40 0 88.3px,#1a713e 0 89.8px,#3c2954 0 91.2px,#3c1b58 0 92.6px,#2a163c 0 94.0px,#2b2b47 0 95.4px,#311845 0 96.8px,#2c1542 0 98.2px,#3d225f 0 99.6px,#248841 0 101.0px,#208842 0 102.4px,#269b47 0 103.8px,#3c9842 0 105.2px,#209947 0 106.6px,#3e913d 0 108.0px,#42af4b 0 109.4px,#286530 0 110.8px,#1b3e32 0 112.2px,#1c7438 0 113.6px,#247849 0 115.0px,#2d382a 0 116.4px,#2a3e2c 0 117.8px,#276236 0 119.2px,#2ba94b 0 120.6px,#238a41 0 122.0px,#378a3f 0 123.4px,#2d612e 0 124.8px,#235e2d 0 126.2px,#208c43 0 127.6px,#2f9041 0 129.0px,#15502d 0 130.4px,#2f7a39 0 131.8px,#214e27 0 133.2px,#307136 0 134.6px,#174826 0 136.0px,#11321d 0 137.4px,#163f25 0 138.8px,#206536 0 140.2px,#194028 0 141.6px,#247c39 0 143.0px,#284434 0 144.4px,#1d6333 0 145.8px,#346e54 0 147.2px,#164626 0 148.6px,#633891 0 150.1px,#4c266f 0 151.5px,#562a7e 0 152.9px,#60378e 0 154.3px,#663494 0 155.7px,#5b3385 0 157.1px,#4b266e 0 158.5px,#29113c 0 159.9px,#4b2370 0 161.3px,#3d2e5f 0 162.7px,#34194f 0 164.1px,#221131 0 165.5px,#2d2641 0 166.9px,#452168 0 168.3px,#3b1c5b 0 169.7px,#251536 0 171.1px,#1e222d 0 172.5px,#34154c 0 173.9px,#294641 0 175.3px,#3a5364 0 176.7px,#452763 0 178.1px,#34164f 0 179.5px,#643891 0 180.9px,#6e469a 0 182.3px,#6a3c97 0 183.7px,#533275 0 185.1px,#562f7e 0 186.5px,#552983 0 187.9px,#513475 0 189.3px,#312e46 0 190.7px,#2f1944 0 192.1px,#22122d 0 193.5px,#473069 0 194.9px,#412065 0 196.3px,#2e1545 0 197.7px,#223a38 0 199.1px,#553677 0 200.5px,#271339 0 201.9px,#391a56 0 203.3px,#301947 0 204.7px,#281d35 0 206.1px,#3f1d61 0 207.5px,#1c1c26 0 209.0px,#572e82 0 210.4px,#643292 0 211.8px,#5c2c8b 0 213.2px,#623a8f 0 214.6px,#634087 0 216.0px,#532e79 0 217.4px,#60318f 0 218.8px,#5a3185 0 220.2px,#71469d 0 221.6px,#4b246e 0 223.0px,#673b94 0 224.4px,#5a3281 0 225.8px,#6d4299 0 227.2px,#70459d 0 228.6px,#583081 0 230.0px,#6c4099 0 231.4px,#5f2e8e 0 232.8px,#4a2170 0 234.2px,#522a77 0 235.6px,#5a2c88 0 237.0px,#5a3186 0 238.4px)"></div><div style="left:252.28px;width:10.56px;background:linear-gradient(#367a48 0 1.4px,#2b5c4c 0 2.8px,#257d52 0 4.2px,#1c5e3d 0 5.6px,#295d2c 0 7.0px,#1a6b38 0 8.4px,#196135 0 9.8px,#17592c 0 11.2px,#214b3a 0 12.6px,#235a2b 0 14.0px,#17392b 0 15.4px,#215e32 0 16.8px,#397231 0 18.2px,#1b6432 0 19.6px,#239748 0 21.0px,#459a43 0 22.4px,#3eac4a 0 23.8px,#39b54d 0 25.2px,#3ab54d 0 26.6px,#208f42 0 28.0px,#26a24a 0 29.4px,#25a34b 0 30.9px,#307c37 0 32.3px,#3ba348 0 33.7px,#2ea149 0 35.1px,#296b33 0 36.5px,#19733d 0 37.9px,#1e9145 0 39.3px,#196a38 0 40.7px,#36b04c 0 42.1px,#2fa049 0 43.5px,#218f44 0 44.9px,#166a36 0 46.3px,#196f38 0 47.7px,#299e47 0 49.1px,#318941 0 50.5px,#395c44 0 51.9px,#1b6231 0 53.3px,#183d21 0 54.7px,#1c4c25 0 56.1px,#216931 0 57.5px,#195e31 0 58.9px,#194b2b 0 60.3px,#6dbd4a 0 61.7px,#35ac4b 0 63.1px,#2ea349 0 64.5px,#388e40 0 65.9px,#43b64d 0 67.3px,#349645 0 68.7px,#42b64d 0 70.1px,#163d21 0 71.5px,#1b5435 0 72.9px,#15512d 0 74.3px,#1f6e37 0 75.7px,#184523 0 77.1px,#184927 0 78.5px,#21292c 0 79.9px,#3bb54d 0 81.3px,#247938 0 82.7px,#216d36 0 84.1px,#22813e 0 85.5px,#23a54c 0 86.9px,#1a8342 0 88.3px,#258d42 0 89.8px,#292435 0 91.2px,#3b1a5a 0 92.6px,#332048 0 94.0px,#152517 0 95.4px,#2b3d45 0 96.8px,#200e2c 0 98.2px,#203b31 0 99.6px,#216930 0 101.0px,#175a2e 0 102.4px,#236c35 0 103.8px,#369942 0 105.2px,#21783a 0 106.6px,#35863b 0 108.0px,#389745 0 109.4px,#30823b 0 110.8px,#17572d 0 112.2px,#27823c 0 113.6px,#3e8450 0 115.0px,#289644 0 116.4px,#278d3f 0 117.8px,#35a449 0 119.2px,#28883e 0 120.6px,#167138 0 122.0px,#35503a 0 123.4px,#2ba64b 0 124.8px,#1a6f3c 0 126.2px,#186234 0 127.6px,#318b3e 0 129.0px,#1a5931 0 130.4px,#302548 0 131.8px,#482765 0 133.2px,#332048 0 134.6px,#382a4a 0 136.0px,#3a1c57 0 137.4px,#381955 0 138.8px,#20132b 0 140.2px,#2aa049 0 141.6px,#2a7e3c 0 143.0px,#3fb64c 0 144.4px,#3b7f38 0 145.8px,#35843c 0 147.2px,#197b3f 0 148.6px,#502977 0 150.1px,#41245d 0 151.5px,#633990 0 152.9px,#5e348b 0 154.3px,#5d3783 0 155.7px,#633590 0 157.1px,#512a7a 0 158.5px,#6b4198 0 159.9px,#643691 0 161.3px,#4d2a6f 0 162.7px,#44406b 0 164.1px,#5b3389 0 165.5px,#512b74 0 166.9px,#6f439b 0 168.3px,#392453 0 169.7px,#353048 0 171.1px,#251932 0 172.5px,#2b1540 0 173.9px,#111612 0 175.3px,#2c1c39 0 176.7px,#251d33 0 178.1px,#4d2375 0 179.5px,#3a1956 0 180.9px,#383453 0 182.3px,#32164a 0 183.7px,#264443 0 185.1px,#200c2b 0 186.5px,#422260 0 187.9px,#272e3a 0 189.3px,#4d2576 0 190.7px,#5c2c8b 0 192.1px,#5e3888 0 193.5px,#60348d 0 194.9px,#552f7d 0 196.3px,#5a3583 0 197.7px,#542a7b 0 199.1px,#343653 0 200.5px,#483870 0 201.9px,#33194e 0 203.3px,#432861 0 204.7px,#502877 0 206.1px,#3a3251 0 207.5px,#313a53 0 209.0px,#2c153f 0 210.4px,#311b4a 0 211.8px,#1a1125 0 213.2px,#582f81 0 214.6px,#201829 0 216.0px,#391b57 0 217.4px,#2b3048 0 218.8px,#391d4f 0 220.2px,#35194d 0 221.6px,#1e3d33 0 223.0px,#213839 0 224.4px,#3e245c 0 225.8px,#331449 0 227.2px,#40205b 0 228.6px,#2e5f58 0 230.0px,#154525 0 231.4px,#26361d 0 232.8px,#184727 0 234.2px,#1a4932 0 235.6px,#23472b 0 237.0px,#14522a 0 238.4px)"></div><div style="left:262.84px;width:10.56px;background:linear-gradient(#133622 0 1.4px,#364b51 0 2.8px,#1d542b 0 4.2px,#2d7036 0 5.6px,#144d28 0 7.0px,#1d2c30 0 8.4px,#235d2d 0 9.8px,#153f21 0 11.2px,#207b3b 0 12.6px,#205a2c 0 14.0px,#15281d 0 15.4px,#204120 0 16.8px,#2a7a39 0 18.2px,#1a6834 0 19.6px,#1b763a 0 21.0px,#3d9342 0 22.4px,#184e2b 0 23.8px,#184925 0 25.2px,#28803b 0 26.6px,#269d49 0 28.0px,#1f7036 0 29.4px,#18753a 0 30.9px,#186b35 0 32.3px,#319e48 0 33.7px,#419c44 0 35.1px,#1d6934 0 36.5px,#1b6039 0 37.9px,#27622e 0 39.3px,#2e7f3c 0 40.7px,#278c42 0 42.1px,#218741 0 43.5px,#239747 0 44.9px,#207a3c 0 46.3px,#277b4f 0 47.7px,#299844 0 49.1px,#27532e 0 50.5px,#1a8a45 0 51.9px,#17512a 0 53.3px,#2f3246 0 54.7px,#215639 0 56.1px,#2c4521 0 57.5px,#227f3f 0 58.9px,#163f24 0 60.3px,#2c6630 0 61.7px,#163d22 0 63.1px,#217638 0 64.5px,#0d2b18 0 65.9px,#337340 0 67.3px,#243739 0 68.7px,#185d38 0 70.1px,#2d9240 0 71.5px,#2d7c37 0 72.9px,#24763a 0 74.3px,#38a64a 0 75.7px,#338f3e 0 77.1px,#28a149 0 78.5px,#306832 0 79.9px,#20813e 0 81.3px,#196d3a 0 82.7px,#1d3730 0 84.1px,#197e41 0 85.5px,#206533 0 86.9px,#154e2c 0 88.3px,#12311d 0 89.8px,#305848 0 91.2px,#2c602c 0 92.6px,#2b4d23 0 94.0px,#173025 0 95.4px,#228d44 0 96.8px,#1c5d34 0 98.2px,#1a5535 0 99.6px,#427d35 0 101.0px,#229045 0 102.4px,#196835 0 103.8px,#209546 0 105.2px,#1b8541 0 106.6px,#227439 0 108.0px,#449a44 0 109.4px,#154225 0 110.8px,#12331f 0 112.2px,#306a30 0 113.6px,#1d6b36 0 115.0px,#1a4f27 0 116.4px,#186130 0 117.8px,#1a6736 0 119.2px,#14371f 0 120.6px,#173722 0 122.0px,#224f3c 0 123.4px,#151c19 0 124.8px,#185c30 0 126.2px,#1a5c2e 0 127.6px,#3da849 0 129.0px,#215e39 0 130.4px,#35a749 0 131.8px,#26833e 0 133.2px,#2daf4d 0 134.6px,#269647 0 136.0px,#34a549 0 137.4px,#1d8d44 0 138.8px,#2fa149 0 140.2px,#267436 0 141.6px,#229245 0 143.0px,#239a48 0 144.4px,#307335 0 145.8px,#308c3d 0 147.2px,#2a883f 0 148.6px,#3e2c5d 0 150.1px,#1c2221 0 151.5px,#211f2e 0 152.9px,#341a50 0 154.3px,#18161e 0 155.7px,#1b0c23 0 157.1px,#271139 0 158.5px,#1d102a 0 159.9px,#333248 0 161.3px,#36204e 0 162.7px,#34184f 0 164.1px,#3a1b57 0 165.5px,#28263f 0 166.9px,#371b51 0 168.3px,#342f54 0 169.7px,#382251 0 171.1px,#2e2345 0 172.5px,#17211f 0 173.9px,#37355d 0 175.3px,#262f37 0 176.7px,#301e44 0 178.1px,#361b4d 0 179.5px,#28544a 0 180.9px,#442168 0 182.3px,#442d64 0 183.7px,#2f1446 0 185.1px,#341c48 0 186.5px,#2c1442 0 187.9px,#2e2244 0 189.3px,#483a74 0 190.7px,#401c60 0 192.1px,#2a1a3e 0 193.5px,#3b205c 0 194.9px,#27624f 0 196.3px,#252237 0 197.7px,#21463d 0 199.1px,#301846 0 200.5px,#20102e 0 201.9px,#2b1340 0 203.3px,#37214c 0 204.7px,#374158 0 206.1px,#442461 0 207.5px,#422b62 0 209.0px,#623790 0 210.4px,#562d7d 0 211.8px,#5b2d8a 0 213.2px,#71489d 0 214.6px,#35194f 0 216.0px,#5f358a 0 217.4px,#62358f 0 218.8px,#4e3171 0 220.2px,#5f2d8e 0 221.6px,#48246a 0 223.0px,#3d2853 0 224.4px,#3e1e61 0 225.8px,#6b4198 0 227.2px,#552c83 0 228.6px,#462667 0 230.0px,#3e2060 0 231.4px,#452867 0 232.8px,#2c1442 0 234.2px,#2d3f4c 0 235.6px,#0e100e 0 237.0px,#32184b 0 238.4px)"></div><div style="left:273.40px;width:10.56px;background:linear-gradient(#278b42 0 1.4px,#264640 0 2.8px,#19663a 0 4.2px,#358151 0 5.6px,#2a6836 0 7.0px,#1a4229 0 8.4px,#15412a 0 9.8px,#173b20 0 11.2px,#2d4842 0 12.6px,#1a291e 0 14.0px,#196934 0 15.4px,#13542b 0 16.8px,#196737 0 18.2px,#237436 0 19.6px,#329944 0 21.0px,#328e42 0 22.4px,#27773a 0 23.8px,#1d8643 0 25.2px,#30a54a 0 26.6px,#1c592c 0 28.0px,#256c34 0 29.4px,#237e3c 0 30.9px,#1a753a 0 32.3px,#259d48 0 33.7px,#2f9543 0 35.1px,#3d8c41 0 36.5px,#1f6e33 0 37.9px,#247b39 0 39.3px,#47b34b 0 40.7px,#196b39 0 42.1px,#25853e 0 43.5px,#1c4d2e 0 44.9px,#1e5e2f 0 46.3px,#1e6531 0 47.7px,#41a145 0 49.1px,#247336 0 50.5px,#1b773c 0 51.9px,#38883d 0 53.3px,#17582d 0 54.7px,#19703b 0 56.1px,#349141 0 57.5px,#209144 0 58.9px,#1a7e40 0 60.3px,#208842 0 61.7px,#295b2d 0 63.1px,#32a248 0 64.5px,#267d54 0 65.9px,#259043 0 67.3px,#1a7a3e 0 68.7px,#259346 0 70.1px,#238d43 0 71.5px,#278b42 0 72.9px,#28863e 0 74.3px,#41b64d 0 75.7px,#28813b 0 77.1px,#2e9546 0 78.5px,#266932 0 79.9px,#6fbe4a 0 81.3px,#44b74c 0 82.7px,#4baf49 0 84.1px,#44a044 0 85.5px,#409d43 0 86.9px,#68bd4a 0 88.3px,#3bb34c 0 89.8px,#206630 0 91.2px,#3fb64d 0 92.6px,#439c44 0 94.0px,#1e6b35 0 95.4px,#41b64c 0 96.8px,#1c6d34 0 98.2px,#1b8542 0 99.6px,#299040 0 101.0px,#1b8642 0 102.4px,#1b793d 0 103.8px,#309f48 0 105.2px,#31893c 0 106.6px,#33863d 0 108.0px,#41a046 0 109.4px,#1a3f29 0 110.8px,#14502d 0 112.2px,#1e6532 0 113.6px,#215e33 0 115.0px,#154125 0 116.4px,#1b6337 0 117.8px,#165c2d 0 119.2px,#327633 0 120.6px,#1b482f 0 122.0px,#275937 0 123.4px,#1a542a 0 124.8px,#1e392f 0 126.2px,#41b14b 0 127.6px,#183a23 0 129.0px,#172d24 0 130.4px,#1a332a 0 131.8px,#292c43 0 133.2px,#1e8943 0 134.6px,#1c6338 0 136.0px,#1e4431 0 137.4px,#25853d 0 138.8px,#162d1b 0 140.2px,#28853e 0 141.6px,#269040 0 143.0px,#1c3f1e 0 144.4px,#3b7e37 0 145.8px,#24823c 0 147.2px,#1b8141 0 148.6px,#61388b 0 150.1px,#593283 0 151.5px,#643392 0 152.9px,#633b8e 0 154.3px,#5c3580 0 155.7px,#5a3387 0 157.1px,#633991 0 158.5px,#694493 0 159.9px,#62398b 0 161.3px,#5e3c80 0 162.7px,#4d2770 0 164.1px,#5c3086 0 165.5px,#562b85 0 166.9px,#6c3f99 0 168.3px,#101610 0 169.7px,#361c50 0 171.1px,#161f18 0 172.5px,#281839 0 173.9px,#29183c 0 175.3px,#2c4551 0 176.7px,#29133c 0 178.1px,#33184a 0 179.5px,#302246 0 180.9px,#392d4e 0 182.3px,#482a63 0 183.7px,#222637 0 185.1px,#32244a 0 186.5px,#191d21 0 187.9px,#2d2b48 0 189.3px,#3b1a58 0 190.7px,#2f2146 0 192.1px,#2f1847 0 193.5px,#3d1c5f 0 194.9px,#322b4d 0 196.3px,#3a3253 0 197.7px,#354b4e 0 199.1px,#40225a 0 200.5px,#391e5a 0 201.9px,#2e2144 0 203.3px,#423b68 0 204.7px,#4c366d 0 206.1px,#4a2370 0 207.5px,#373c54 0 209.0px,#271834 0 210.4px,#48226f 0 211.8px,#301c48 0 213.2px,#331849 0 214.6px,#144022 0 216.0px,#21192d 0 217.4px,#322741 0 218.8px,#213132 0 220.2px,#522b79 0 221.6px,#28153c 0 223.0px,#4d2672 0 224.4px,#39274d 0 225.8px,#542981 0 227.2px,#482767 0 228.6px,#1c2a2f 0 230.0px,#1a2424 0 231.4px,#223638 0 232.8px,#19262a 0 234.2px,#371e4e 0 235.6px,#222a2f 0 237.0px,#1a0f21 0 238.4px)"></div><div style="left:283.96px;width:10.56px;background:linear-gradient(#2a5929 0 1.4px,#255d41 0 2.8px,#173e21 0 4.2px,#1d4828 0 5.6px,#3ba549 0 7.0px,#175b31 0 8.4px,#193127 0 9.8px,#187840 0 11.2px,#2e372c 0 12.6px,#164322 0 14.0px,#276f32 0 15.4px,#27333d 0 16.8px,#176135 0 18.2px,#174427 0 19.6px,#36ac4c 0 21.0px,#53b94b 0 22.4px,#27aa4c 0 23.8px,#43b64c 0 25.2px,#50953d 0 26.6px,#349846 0 28.0px,#4fb84b 0 29.4px,#27773b 0 30.9px,#287537 0 32.3px,#277e3c 0 33.7px,#46b74c 0 35.1px,#216733 0 36.5px,#175b2f 0 37.9px,#32823c 0 39.3px,#1a4724 0 40.7px,#2f9c45 0 42.1px,#358f3f 0 43.5px,#197b40 0 44.9px,#1c8744 0 46.3px,#144d29 0 47.7px,#4db84b 0 49.1px,#33893e 0 50.5px,#354749 0 51.9px,#3d744d 0 53.3px,#382f4e 0 54.7px,#111b11 0 56.1px,#133320 0 57.5px,#1c4638 0 58.9px,#2c354a 0 60.3px,#1a5029 0 61.7px,#1e1b2a 0 63.1px,#334c4d 0 64.5px,#101910 0 65.9px,#285e48 0 67.3px,#173d26 0 68.7px,#20633a 0 70.1px,#1a783a 0 71.5px,#345e3e 0 72.9px,#2c7838 0 74.3px,#327839 0 75.7px,#185f33 0 77.1px,#207c3e 0 78.5px,#193c28 0 79.9px,#296f3d 0 81.3px,#175b2e 0 82.7px,#1a562e 0 84.1px,#1f5329 0 85.5px,#327044 0 86.9px,#172c1b 0 88.3px,#319145 0 89.8px,#197c40 0 91.2px,#237448 0 92.6px,#205135 0 94.0px,#19562e 0 95.4px,#229142 0 96.8px,#208a40 0 98.2px,#13331d 0 99.6px,#46b64b 0 101.0px,#1b7f3e 0 102.4px,#195d2f 0 103.8px,#2c7639 0 105.2px,#215229 0 106.6px,#1c6a35 0 108.0px,#369743 0 109.4px,#176c37 0 110.8px,#265d34 0 112.2px,#2d6a31 0 113.6px,#295126 0 115.0px,#267538 0 116.4px,#1a8744 0 117.8px,#1c793a 0 119.2px,#1b7138 0 120.6px,#329a46 0 122.0px,#4f8659 0 123.4px,#1c7c3d 0 124.8px,#248441 0 126.2px,#42883b 0 127.6px,#1a5a31 0 129.0px,#3a9f45 0 130.4px,#257e3e 0 131.8px,#216c45 0 133.2px,#2aa44b 0 134.6px,#1f8541 0 136.0px,#277437 0 137.4px,#21a04b 0 138.8px,#2c9f48 0 140.2px,#366b4b 0 141.6px,#185f34 0 143.0px,#206f36 0 144.4px,#21582f 0 145.8px,#233334 0 147.2px,#155f32 0 148.6px,#5d3189 0 150.1px,#484b78 0 151.5px,#3b1c5a 0 152.9px,#492468 0 154.3px,#361c53 0 155.7px,#392156 0 157.1px,#25323d 0 158.5px,#332245 0 159.9px,#261d33 0 161.3px,#415343 0 162.7px,#35234d 0 164.1px,#241033 0 165.5px,#29133c 0 166.9px,#482666 0 168.3px,#663594 0 169.7px,#442863 0 171.1px,#693b96 0 172.5px,#61358f 0 173.9px,#623291 0 175.3px,#58347e 0 176.7px,#663594 0 178.1px,#5e3388 0 179.5px,#663893 0 180.9px,#623b89 0 182.3px,#5e2f8c 0 183.7px,#432165 0 185.1px,#502e74 0 186.5px,#5e328b 0 187.9px,#3e1e5b 0 189.3px,#351a4d 0 190.7px,#1e2126 0 192.1px,#2f2246 0 193.5px,#26173a 0 194.9px,#431f67 0 196.3px,#372a54 0 197.7px,#26323b 0 199.1px,#391a55 0 200.5px,#502779 0 201.9px,#2b1541 0 203.3px,#4b276e 0 204.7px,#2e1444 0 206.1px,#51277a 0 207.5px,#462369 0 209.0px,#16091a 0 210.4px,#42305b 0 211.8px,#4b266e 0 213.2px,#4e2871 0 214.6px,#453161 0 216.0px,#170f20 0 217.4px,#3d325e 0 218.8px,#3f2955 0 220.2px,#4e2773 0 221.6px,#43424d 0 223.0px,#211c2d 0 224.4px,#231f2f 0 225.8px,#421f66 0 227.2px,#271a35 0 228.6px,#432365 0 230.0px,#693a96 0 231.4px,#4e2875 0 232.8px,#5c2f8a 0 234.2px,#633391 0 235.6px,#522779 0 237.0px,#542880 0 238.4px)"></div><div style="left:294.52px;width:10.56px;background:linear-gradient(#31602d 0 1.4px,#398145 0 2.8px,#1e4f26 0 4.2px,#277234 0 5.6px,#1d9245 0 7.0px,#306730 0 8.4px,#23503d 0 9.8px,#1e602f 0 11.2px,#2b793a 0 12.6px,#233337 0 14.0px,#1f7037 0 15.4px,#194626 0 16.8px,#296a2f 0 18.2px,#215429 0 19.6px,#208943 0 21.0px,#499b40 0 22.4px,#369442 0 23.8px,#196138 0 25.2px,#227036 0 26.6px,#457c35 0 28.0px,#209445 0 29.4px,#20a54c 0 30.9px,#3a8548 0 32.3px,#187c41 0 33.7px,#3ba548 0 35.1px,#2e9245 0 36.5px,#198644 0 37.9px,#237b39 0 39.3px,#186f39 0 40.7px,#1a6534 0 42.1px,#268741 0 43.5px,#17522b 0 44.9px,#1b6a35 0 46.3px,#265629 0 47.7px,#338e40 0 49.1px,#2e8a3f 0 50.5px,#327b38 0 51.9px,#1d2e32 0 53.3px,#184224 0 54.7px,#2b664d 0 56.1px,#16522d 0 57.5px,#1c6d37 0 58.9px,#233c25 0 60.3px,#239245 0 61.7px,#1e8d45 0 63.1px,#238840 0 64.5px,#2b773e 0 65.9px,#197d41 0 67.3px,#2f8d3d 0 68.7px,#2f8c42 0 70.1px,#32893f 0 71.5px,#1b502b 0 72.9px,#1b5f30 0 74.3px,#16542c 0 75.7px,#279144 0 77.1px,#15482c 0 78.5px,#253c39 0 79.9px,#3ea748 0 81.3px,#1b2e23 0 82.7px,#17452c 0 84.1px,#133f26 0 85.5px,#111013 0 86.9px,#1d372e 0 88.3px,#212c2f 0 89.8px,#2c9744 0 91.2px,#1f8641 0 92.6px,#29833e 0 94.0px,#2d7c3b 0 95.4px,#41b64c 0 96.8px,#3ab54d 0 98.2px,#215428 0 99.6px,#224838 0 101.0px,#142f1a 0 102.4px,#172420 0 103.8px,#3f6f30 0 105.2px,#1b6633 0 106.6px,#25883f 0 108.0px,#3b8047 0 109.4px,#1c522a 0 110.8px,#28653c 0 112.2px,#1c783a 0 113.6px,#1e4331 0 115.0px,#1c6a33 0 116.4px,#1f4d35 0 117.8px,#216539 0 119.2px,#489b41 0 120.6px,#33823c 0 122.0px,#28592b 0 123.4px,#30813a 0 124.8px,#338f3f 0 126.2px,#39863a 0 127.6px,#1c9448 0 129.0px,#24823c 0 130.4px,#276d32 0 131.8px,#216835 0 133.2px,#419c45 0 134.6px,#41a044 0 136.0px,#1e833d 0 137.4px,#307b37 0 138.8px,#328e40 0 140.2px,#50b94c 0 141.6px,#329843 0 143.0px,#3dad4a 0 144.4px,#4cb84c 0 145.8px,#3ba147 0 147.2px,#279443 0 148.6px,#2d203c 0 150.1px,#2f1846 0 151.5px,#382d55 0 152.9px,#40215e 0 154.3px,#2a253a 0 155.7px,#2e2c4c 0 157.1px,#251433 0 158.5px,#2a7033 0 159.9px,#164a28 0 161.3px,#268d42 0 162.7px,#153f26 0 164.1px,#23763a 0 165.5px,#206734 0 166.9px,#190b21 0 168.3px,#5a2f87 0 169.7px,#19181f 0 171.1px,#28143c 0 172.5px,#2b1740 0 173.9px,#215842 0 175.3px,#486065 0 176.7px,#371a54 0 178.1px,#341f4e 0 179.5px,#57347c 0 180.9px,#583779 0 182.3px,#653b92 0 183.7px,#592f80 0 185.1px,#552d7f 0 186.5px,#592c88 0 187.9px,#46506f 0 189.3px,#51267b 0 190.7px,#5d2e8c 0 192.1px,#522a78 0 193.5px,#4a286c 0 194.9px,#572a80 0 196.3px,#623490 0 197.7px,#583180 0 199.1px,#4a2472 0 200.5px,#3a1f57 0 201.9px,#302243 0 203.3px,#321b4b 0 204.7px,#21132f 0 206.1px,#4b2b6b 0 207.5px,#253d37 0 209.0px,#271039 0 210.4px,#2e1543 0 211.8px,#301648 0 213.2px,#3d2b5a 0 214.6px,#241a2f 0 216.0px,#412b61 0 217.4px,#33284f 0 218.8px,#394c58 0 220.2px,#361a52 0 221.6px,#2e223e 0 223.0px,#2f1748 0 224.4px,#19141e 0 225.8px,#2d1a44 0 227.2px,#4b236e 0 228.6px,#231332 0 230.0px,#401f5f 0 231.4px,#442866 0 232.8px,#271339 0 234.2px,#331948 0 235.6px,#29133b 0 237.0px,#351b52 0 238.4px)"></div><div style="left:305.08px;width:10.56px;background:linear-gradient(#2b7b37 0 1.4px,#173723 0 2.8px,#152615 0 4.2px,#1d5e32 0 5.6px,#1b6733 0 7.0px,#337d38 0 8.4px,#2c404c 0 9.8px,#276530 0 11.2px,#275338 0 12.6px,#243631 0 14.0px,#2c7437 0 15.4px,#1c3a33 0 16.8px,#29754e 0 18.2px,#154d2b 0 19.6px,#229a48 0 21.0px,#64bc4a 0 22.4px,#50b74c 0 23.8px,#419d44 0 25.2px,#3b7834 0 26.6px,#44923f 0 28.0px,#448e3d 0 29.4px,#2d863e 0 30.9px,#4e7f4d 0 32.3px,#30853c 0 33.7px,#1c4927 0 35.1px,#297845 0 36.5px,#1b6132 0 37.9px,#3aa549 0 39.3px,#1d9147 0 40.7px,#2c9d48 0 42.1px,#318a3f 0 43.5px,#1f7b3c 0 44.9px,#347641 0 46.3px,#176335 0 47.7px,#248b3e 0 49.1px,#1a793b 0 50.5px,#2c6a33 0 51.9px,#299a47 0 53.3px,#275e2c 0 54.7px,#1e6d37 0 56.1px,#276f34 0 57.5px,#25a24a 0 58.9px,#1c9f4b 0 60.3px,#2ea64a 0 61.7px,#1b793c 0 63.1px,#1e7c3b 0 64.5px,#316f34 0 65.9px,#289c48 0 67.3px,#1b6d36 0 68.7px,#2b7435 0 70.1px,#229848 0 71.5px,#449e44 0 72.9px,#2ba149 0 74.3px,#2d9c47 0 75.7px,#24a54c 0 77.1px,#2d863d 0 78.5px,#265c2e 0 79.9px,#2c9a47 0 81.3px,#237738 0 82.7px,#1d773a 0 84.1px,#1d9949 0 85.5px,#2e873e 0 86.9px,#2a7e3a 0 88.3px,#1f9246 0 89.8px,#1d8c45 0 91.2px,#1b4d29 0 92.6px,#359543 0 94.0px,#269e48 0 95.4px,#2f8b40 0 96.8px,#2a9a45 0 98.2px,#1d622d 0 99.6px,#164526 0 101.0px,#258b40 0 102.4px,#1c7d40 0 103.8px,#57a645 0 105.2px,#289144 0 106.6px,#1b6f38 0 108.0px,#3d9e47 0 109.4px,#175f31 0 110.8px,#1f1329 0 112.2px,#276135 0 113.6px,#3c9840 0 115.0px,#1a6634 0 116.4px,#196935 0 117.8px,#287f3e 0 119.2px,#35b44d 0 120.6px,#3b923f 0 122.0px,#1a7037 0 123.4px,#406e34 0 124.8px,#2f813b 0 126.2px,#187e42 0 127.6px,#1d8640 0 129.0px,#1f7236 0 130.4px,#339742 0 131.8px,#26814d 0 133.2px,#198142 0 134.6px,#1d6f37 0 136.0px,#1f9144 0 137.4px,#1d8844 0 138.8px,#3da548 0 140.2px,#39a045 0 141.6px,#3bb24c 0 143.0px,#41ac4a 0 144.4px,#379d45 0 145.8px,#4bab48 0 147.2px,#38b04b 0 148.6px,#277035 0 150.1px,#16211f 0 151.5px,#2a243e 0 152.9px,#284335 0 154.3px,#236e33 0 155.7px,#18512a 0 157.1px,#196335 0 158.5px,#1a8743 0 159.9px,#2b602d 0 161.3px,#1c583c 0 162.7px,#174b2a 0 164.1px,#2f6730 0 165.5px,#284b2e 0 166.9px,#222834 0 168.3px,#301f43 0 169.7px,#252532 0 171.1px,#2b454b 0 172.5px,#18131e 0 173.9px,#2d1e3d 0 175.3px,#454460 0 176.7px,#235244 0 178.1px,#3e245d 0 179.5px,#5b2b8a 0 180.9px,#552984 0 182.3px,#5a3581 0 183.7px,#442566 0 185.1px,#4a286b 0 186.5px,#5e3388 0 187.9px,#3c1b58 0 189.3px,#2f1546 0 190.7px,#341d4d 0 192.1px,#4f2e71 0 193.5px,#2b1541 0 194.9px,#3d2859 0 196.3px,#371d4f 0 197.7px,#172f28 0 199.1px,#33224a 0 200.5px,#2f1745 0 201.9px,#1c1427 0 203.3px,#4a286b 0 204.7px,#492473 0 206.1px,#3a425a 0 207.5px,#3e3456 0 209.0px,#1c4e33 0 210.4px,#221a2d 0 211.8px,#182c21 0 213.2px,#3d3c63 0 214.6px,#131b13 0 216.0px,#2b2a41 0 217.4px,#1a6333 0 218.8px,#352647 0 220.2px,#2a0f3d 0 221.6px,#281935 0 223.0px,#233f3e 0 224.4px,#1e3e38 0 225.8px,#362b49 0 227.2px,#33284b 0 228.6px,#5f3588 0 230.0px,#6c4895 0 231.4px,#592c88 0 232.8px,#562f81 0 234.2px,#673d94 0 235.6px,#583b79 0 237.0px,#502b74 0 238.4px)"></div><div style="left:315.64px;width:10.56px;background:linear-gradient(#2e6d30 0 1.4px,#2a3a43 0 2.8px,#1e3c30 0 4.2px,#29572c 0 5.6px,#19763d 0 7.0px,#1d8440 0 8.4px,#17502a 0 9.8px,#186230 0 11.2px,#2c602b 0 12.6px,#111b13 0 14.0px,#315333 0 15.4px,#2a614f 0 16.8px,#1a743a 0 18.2px,#174f29 0 19.6px,#323853 0 21.0px,#344e43 0 22.4px,#316e4f 0 23.8px,#23232e 0 25.2px,#24403d 0 26.6px,#193d27 0 28.0px,#334130 0 29.4px,#1c5b2f 0 30.9px,#2a4542 0 32.3px,#113822 0 33.7px,#257b3c 0 35.1px,#18532f 0 36.5px,#163d21 0 37.9px,#254a23 0 39.3px,#12271e 0 40.7px,#302548 0 42.1px,#325c4b 0 43.5px,#214b3f 0 44.9px,#182f27 0 46.3px,#172617 0 47.7px,#237036 0 49.1px,#2a1f3b 0 50.5px,#12251d 0 51.9px,#12251e 0 53.3px,#2b1441 0 54.7px,#1a2727 0 56.1px,#2c3d30 0 57.5px,#2e303d 0 58.9px,#222636 0 60.3px,#472166 0 61.7px,#2d2342 0 63.1px,#28153b 0 64.5px,#633b8c 0 65.9px,#5a2988 0 67.3px,#48226f 0 68.7px,#4a2f6c 0 70.1px,#2e7b37 0 71.5px,#1f3426 0 72.9px,#1f713e 0 74.3px,#133b20 0 75.7px,#3a674f 0 77.1px,#1b3c2c 0 78.5px,#28672f 0 79.9px,#174028 0 81.3px,#1a6a37 0 82.7px,#1a3e21 0 84.1px,#248e43 0 85.5px,#154c29 0 86.9px,#152a1b 0 88.3px,#2a7e3a 0 89.8px,#17562d 0 91.2px,#16592f 0 92.6px,#1d6d37 0 94.0px,#236033 0 95.4px,#328146 0 96.8px,#19572e 0 98.2px,#18763b 0 99.6px,#1a322d 0 101.0px,#287f3a 0 102.4px,#2c614c 0 103.8px,#253d28 0 105.2px,#18171d 0 106.6px,#194f2a 0 108.0px,#295628 0 109.4px,#15191a 0 110.8px,#204520 0 112.2px,#34a048 0 113.6px,#13291b 0 115.0px,#2c9947 0 116.4px,#20823d 0 117.8px,#1e582e 0 119.2px,#155029 0 120.6px,#163e21 0 122.0px,#275341 0 123.4px,#164329 0 124.8px,#2a4c48 0 126.2px,#19542c 0 127.6px,#206846 0 129.0px,#19763b 0 130.4px,#216830 0 131.8px,#2a4a41 0 133.2px,#1c6c35 0 134.6px,#2d5049 0 136.0px,#1e392e 0 137.4px,#184f29 0 138.8px,#16552d 0 140.2px,#133921 0 141.6px,#142d1b 0 143.0px,#1a4b25 0 144.4px,#326630 0 145.8px,#232f34 0 147.2px,#1a5c2e 0 148.6px,#2d1a41 0 150.1px,#1f2627 0 151.5px,#552982 0 152.9px,#322e4c 0 154.3px,#2f2344 0 155.7px,#161e18 0 157.1px,#1e1f28 0 158.5px,#163a22 0 159.9px,#2a9042 0 161.3px,#1e5c2e 0 162.7px,#172c26 0 164.1px,#273436 0 165.5px,#2a3847 0 166.9px,#142d1e 0 168.3px,#1e5737 0 169.7px,#217443 0 171.1px,#387032 0 172.5px,#163d1f 0 173.9px,#247438 0 175.3px,#1a6c38 0 176.7px,#20402d 0 178.1px,#13361f 0 179.5px,#452167 0 180.9px,#28213a 0 182.3px,#3e235a 0 183.7px,#251e33 0 185.1px,#2a133e 0 186.5px,#372c4d 0 187.9px,#29253f 0 189.3px,#163423 0 190.7px,#201b29 0 192.1px,#1f3e2e 0 193.5px,#1f483c 0 194.9px,#19512c 0 196.3px,#2c5b47 0 197.7px,#377546 0 199.1px,#3a2151 0 200.5px,#55317b 0 201.9px,#3e235a 0 203.3px,#2a213e 0 204.7px,#2a143e 0 206.1px,#4a2a6c 0 207.5px,#231132 0 209.0px,#392c57 0 210.4px,#341a50 0 211.8px,#281139 0 213.2px,#54267e 0 214.6px,#131116 0 216.0px,#1a1520 0 217.4px,#372453 0 218.8px,#2b4c22 0 220.2px,#164325 0 221.6px,#1a6d38 0 223.0px,#216a34 0 224.4px,#30843b 0 225.8px,#1f6630 0 227.2px,#1b4b30 0 228.6px,#4e2676 0 230.0px,#50277a 0 231.4px,#29223a 0 232.8px,#342547 0 234.2px,#361d4f 0 235.6px,#2e3a3d 0 237.0px,#210f30 0 238.4px)"></div><div style="left:326.20px;width:10.56px;background:linear-gradient(#254f2d 0 1.4px,#2a573b 0 2.8px,#284837 0 4.2px,#1b5128 0 5.6px,#1a4728 0 7.0px,#2e6832 0 8.4px,#164729 0 9.8px,#173c21 0 11.2px,#1d6736 0 12.6px,#167439 0 14.0px,#195b2c 0 15.4px,#29654c 0 16.8px,#285f33 0 18.2px,#134e29 0 19.6px,#175631 0 21.0px,#35a54a 0 22.4px,#1d843d 0 23.8px,#16592f 0 25.2px,#1f823f 0 26.6px,#175e30 0 28.0px,#237f3c 0 29.4px,#1b6d37 0 30.9px,#357942 0 32.3px,#249644 0 33.7px,#24863f 0 35.1px,#395241 0 36.5px,#1b773a 0 37.9px,#3a9341 0 39.3px,#244a2e 0 40.7px,#208340 0 42.1px,#1d8341 0 43.5px,#142f20 0 44.9px,#1a6032 0 46.3px,#23262e 0 47.7px,#17532b 0 49.1px,#1e4a33 0 50.5px,#165c2d 0 51.9px,#2b3538 0 53.3px,#2a422a 0 54.7px,#2f5137 0 56.1px,#356d3b 0 57.5px,#184726 0 58.9px,#222d30 0 60.3px,#4f2678 0 61.7px,#331648 0 63.1px,#351c4f 0 64.5px,#4a336c 0 65.9px,#2d1544 0 67.3px,#2f1d44 0 68.7px,#2f1543 0 70.1px,#1b8541 0 71.5px,#32642e 0 72.9px,#19833e 0 74.3px,#35ad4b 0 75.7px,#39b44d 0 77.1px,#2b9743 0 78.5px,#307335 0 79.9px,#379844 0 81.3px,#1b7d3e 0 82.7px,#269545 0 84.1px,#438d3e 0 85.5px,#279244 0 86.9px,#196f38 0 88.3px,#248640 0 89.8px,#206230 0 91.2px,#1e763b 0 92.6px,#2f9b44 0 94.0px,#2f8139 0 95.4px,#258d42 0 96.8px,#2a6932 0 98.2px,#1a793e 0 99.6px,#286832 0 101.0px,#17542d 0 102.4px,#1a6433 0 103.8px,#22753a 0 105.2px,#20272a 0 106.6px,#156735 0 108.0px,#1b5d33 0 109.4px,#1a4f2b 0 110.8px,#289847 0 112.2px,#31a64a 0 113.6px,#256630 0 115.0px,#2b7e39 0 116.4px,#1a733a 0 117.8px,#25ae4e 0 119.2px,#1f9046 0 120.6px,#31ab4b 0 122.0px,#1d6f3c 0 123.4px,#297032 0 124.8px,#239647 0 126.2px,#289e48 0 127.6px,#2f9f47 0 129.0px,#1d6933 0 130.4px,#3fb54d 0 131.8px,#31823b 0 133.2px,#219947 0 134.6px,#37833a 0 136.0px,#124627 0 137.4px,#207e3c 0 138.8px,#1b753b 0 140.2px,#1a8945 0 141.6px,#297538 0 143.0px,#3da748 0 144.4px,#315225 0 145.8px,#257f3d 0 147.2px,#1c6a34 0 148.6px,#321549 0 150.1px,#281e3a 0 151.5px,#3e2158 0 152.9px,#4a3f74 0 154.3px,#612f8f 0 155.7px,#31164a 0 157.1px,#28163a 0 158.5px,#3c7b47 0 159.9px,#184730 0 161.3px,#216b35 0 162.7px,#1b3f29 0 164.1px,#174328 0 165.5px,#133b21 0 166.9px,#174f28 0 168.3px,#393355 0 169.7px,#3a305d 0 171.1px,#3a2353 0 172.5px,#1c212a 0 173.9px,#313e4c 0 175.3px,#285249 0 176.7px,#381d57 0 178.1px,#372253 0 179.5px,#5e2f8c 0 180.9px,#432364 0 182.3px,#653893 0 183.7px,#462a69 0 185.1px,#61348e 0 186.5px,#633491 0 187.9px,#4b2f6e 0 189.3px,#251437 0 190.7px,#3c2552 0 192.1px,#240f35 0 193.5px,#3f1f5f 0 194.9px,#28333b 0 196.3px,#231232 0 197.7px,#3a2053 0 199.1px,#281839 0 200.5px,#361b50 0 201.9px,#2d1b3d 0 203.3px,#1c1c25 0 204.7px,#2c1140 0 206.1px,#3a1f51 0 207.5px,#1b2b2d 0 209.0px,#241632 0 210.4px,#522b7b 0 211.8px,#4d2679 0 213.2px,#401e61 0 214.6px,#271734 0 216.0px,#211c2e 0 217.4px,#2f1543 0 218.8px,#184021 0 220.2px,#1d693e 0 221.6px,#196034 0 223.0px,#53a344 0 224.4px,#1f8844 0 225.8px,#231732 0 227.2px,#194726 0 228.6px,#4b266e 0 230.0px,#532a7f 0 231.4px,#3a2e56 0 232.8px,#2d1f3d 0 234.2px,#3b1b53 0 235.6px,#2f1444 0 237.0px,#29163e 0 238.4px)"></div><div style="left:336.76px;width:10.56px;background:linear-gradient(#1e5e2f 0 1.4px,#255b40 0 2.8px,#216d3e 0 4.2px,#366f40 0 5.6px,#176e39 0 7.0px,#131913 0 8.4px,#18512c 0 9.8px,#1f3628 0 11.2px,#22411e 0 12.6px,#1a6433 0 14.0px,#1c342d 0 15.4px,#1a3b2a 0 16.8px,#15522f 0 18.2px,#1e3733 0 19.6px,#1b1223 0 21.0px,#1a5e2b 0 22.4px,#213638 0 23.8px,#3d3c5d 0 25.2px,#2b2b3e 0 26.6px,#2c283d 0 28.0px,#1c1f2a 0 29.4px,#214635 0 30.9px,#1d5f30 0 32.3px,#29893c 0 33.7px,#16532b 0 35.1px,#22593b 0 36.5px,#193a23 0 37.9px,#21622c 0 39.3px,#17562f 0 40.7px,#213f3d 0 42.1px,#236347 0 43.5px,#26614b 0 44.9px,#18271d 0 46.3px,#22252d 0 47.7px,#227b3c 0 49.1px,#3d7850 0 50.5px,#2d873b 0 51.9px,#1a6233 0 53.3px,#297839 0 54.7px,#186f39 0 56.1px,#327c3a 0 57.5px,#1c9d4b 0 58.9px,#1e9346 0 60.3px,#349a45 0 61.7px,#2a692e 0 63.1px,#219447 0 64.5px,#3a7849 0 65.9px,#3ea047 0 67.3px,#196436 0 68.7px,#22a54c 0 70.1px,#45963e 0 71.5px,#256c31 0 72.9px,#269245 0 74.3px,#35a249 0 75.7px,#3aa047 0 77.1px,#1b8f46 0 78.5px,#25813b 0 79.9px,#41a749 0 81.3px,#348f3f 0 82.7px,#277335 0 84.1px,#248f42 0 85.5px,#3ab54d 0 86.9px,#2d9a47 0 88.3px,#1a9047 0 89.8px,#219748 0 91.2px,#309843 0 92.6px,#2f7936 0 94.0px,#1a8f47 0 95.4px,#41a648 0 96.8px,#4eb84b 0 98.2px,#1b8642 0 99.6px,#2f5426 0 101.0px,#1a3a1f 0 102.4px,#22572a 0 103.8px,#277c39 0 105.2px,#357854 0 106.6px,#2c833b 0 108.0px,#2a6b33 0 109.4px,#29a44a 0 110.8px,#1b5e31 0 112.2px,#3eb24c 0 113.6px,#348b3f 0 115.0px,#40a147 0 116.4px,#1b8543 0 117.8px,#2d7c39 0 119.2px,#144f2a 0 120.6px,#267435 0 122.0px,#314b53 0 123.4px,#1b4736 0 124.8px,#184325 0 126.2px,#1a4521 0 127.6px,#124628 0 129.0px,#1c4d29 0 130.4px,#1a7e3c 0 131.8px,#1b7b3b 0 133.2px,#359e45 0 134.6px,#257d3c 0 136.0px,#3c9a43 0 137.4px,#196938 0 138.8px,#1a783c 0 140.2px,#346e31 0 141.6px,#3c883c 0 143.0px,#1f7239 0 144.4px,#268741 0 145.8px,#166a36 0 147.2px,#1a7e3f 0 148.6px,#562c80 0 150.1px,#5a2c89 0 151.5px,#592f85 0 152.9px,#643e8c 0 154.3px,#512a74 0 155.7px,#53287f 0 157.1px,#4d2374 0 158.5px,#208f45 0 159.9px,#28622e 0 161.3px,#254d2c 0 162.7px,#1a6031 0 164.1px,#276d46 0 165.5px,#304e4f 0 166.9px,#27592c 0 168.3px,#257335 0 169.7px,#1f4626 0 171.1px,#2b9f48 0 172.5px,#1b3d21 0 173.9px,#2a5228 0 175.3px,#1e4229 0 176.7px,#203c30 0 178.1px,#296347 0 179.5px,#3a2257 0 180.9px,#1d332e 0 182.3px,#2a143f 0 183.7px,#331749 0 185.1px,#284845 0 186.5px,#2f1b46 0 187.9px,#2e3d4a 0 189.3px,#4e4f72 0 190.7px,#50277c 0 192.1px,#382c58 0 193.5px,#3e1b5d 0 194.9px,#231933 0 196.3px,#45396b 0 197.7px,#2d344b 0 199.1px,#45206a 0 200.5px,#5c2c8b 0 201.9px,#572d83 0 203.3px,#61358d 0 204.7px,#653793 0 206.1px,#6e429b 0 207.5px,#4a246d 0 209.0px,#2d1e41 0 210.4px,#593284 0 211.8px,#2a223f 0 213.2px,#3e205b 0 214.6px,#1c242e 0 216.0px,#42235e 0 217.4px,#230e32 0 218.8px,#2d4241 0 220.2px,#1b6935 0 221.6px,#358b41 0 223.0px,#123420 0 224.4px,#1d6a34 0 225.8px,#1e4439 0 227.2px,#294934 0 228.6px,#432463 0 230.0px,#442861 0 231.4px,#42255c 0 232.8px,#371953 0 234.2px,#3b2a5a 0 235.6px,#271e37 0 237.0px,#301e48 0 238.4px)"></div><div style="left:347.32px;width:10.56px;background:linear-gradient(#17412e 0 1.4px,#304a4d 0 2.8px,#2e643e 0 4.2px,#293f29 0 5.6px,#2c813d 0 7.0px,#19582d 0 8.4px,#1f4a35 0 9.8px,#288940 0 11.2px,#304525 0 12.6px,#17301c 0 14.0px,#309242 0 15.4px,#2a6545 0 16.8px,#337c3a 0 18.2px,#1a5c32 0 19.6px,#1a7f3f 0 21.0px,#56b84b 0 22.4px,#2d9444 0 23.8px,#27883e 0 25.2px,#257c3d 0 26.6px,#3c9540 0 28.0px,#367734 0 29.4px,#1f783a 0 30.9px,#35683f 0 32.3px,#3b8848 0 33.7px,#3ba949 0 35.1px,#228c42 0 36.5px,#1e773a 0 37.9px,#3e9240 0 39.3px,#28853e 0 40.7px,#207939 0 42.1px,#2a8d42 0 43.5px,#1b6935 0 44.9px,#254d2a 0 46.3px,#196e37 0 47.7px,#2b9545 0 49.1px,#1a8342 0 50.5px,#2c8b42 0 51.9px,#196537 0 53.3px,#196135 0 54.7px,#1a8040 0 56.1px,#368a3e 0 57.5px,#2bab4c 0 58.9px,#329d47 0 60.3px,#58ba4a 0 61.7px,#368a3e 0 63.1px,#3eae4b 0 64.5px,#388239 0 65.9px,#369743 0 67.3px,#22793b 0 68.7px,#69bd4a 0 70.1px,#53b94c 0 71.5px,#23a04a 0 72.9px,#54b94b 0 74.3px,#51b84b 0 75.7px,#2d8d40 0 77.1px,#3fa348 0 78.5px,#3eab4a 0 79.9px,#335651 0 81.3px,#3a622c 0 82.7px,#1a532c 0 84.1px,#19552f 0 85.5px,#185930 0 86.9px,#246a34 0 88.3px,#1a4531 0 89.8px,#2ba049 0 91.2px,#37a94b 0 92.6px,#1d6c35 0 94.0px,#239043 0 95.4px,#2d9f48 0 96.8px,#229547 0 98.2px,#19763b 0 99.6px,#2c1f3a 0 101.0px,#321746 0 102.4px,#343955 0 103.8px,#49236d 0 105.2px,#47226b 0 106.6px,#462369 0 108.0px,#251136 0 109.4px,#238a42 0 110.8px,#1f7738 0 112.2px,#2a8c43 0 113.6px,#24843f 0 115.0px,#259d49 0 116.4px,#336b32 0 117.8px,#1e9e4a 0 119.2px,#2b9c47 0 120.6px,#1b8040 0 122.0px,#356c46 0 123.4px,#2b7336 0 124.8px,#27813d 0 126.2px,#2b763a 0 127.6px,#1b733a 0 129.0px,#3ba849 0 130.4px,#1b6935 0 131.8px,#16592c 0 133.2px,#278942 0 134.6px,#369f47 0 136.0px,#254d41 0 137.4px,#267d3c 0 138.8px,#29a94c 0 140.2px,#207235 0 141.6px,#257938 0 143.0px,#1e8940 0 144.4px,#44a849 0 145.8px,#207e3b 0 147.2px,#1c9949 0 148.6px,#6f4a9b 0 150.1px,#532878 0 151.5px,#552e7d 0 152.9px,#5c3481 0 154.3px,#754ca1 0 155.7px,#6b3f98 0 157.1px,#663694 0 158.5px,#21602b 0 159.9px,#193820 0 161.3px,#347840 0 162.7px,#192121 0 164.1px,#185f30 0 165.5px,#1a4428 0 166.9px,#292634 0 168.3px,#1a3d1e 0 169.7px,#215127 0 171.1px,#186233 0 172.5px,#1c312b 0 173.9px,#257336 0 175.3px,#2d693e 0 176.7px,#18191b 0 178.1px,#208440 0 179.5px,#251035 0 180.9px,#2f2145 0 182.3px,#371851 0 183.7px,#453467 0 185.1px,#2f1748 0 186.5px,#373353 0 187.9px,#28173a 0 189.3px,#271339 0 190.7px,#4c3e73 0 192.1px,#381854 0 193.5px,#361a53 0 194.9px,#362c4c 0 196.3px,#3b1e57 0 197.7px,#3d285b 0 199.1px,#322949 0 200.5px,#432a62 0 201.9px,#312147 0 203.3px,#2f1546 0 204.7px,#3a1a59 0 206.1px,#38204d 0 207.5px,#392350 0 209.0px,#3f1f60 0 210.4px,#311a49 0 211.8px,#261635 0 213.2px,#3a1c5a 0 214.6px,#33565b 0 216.0px,#272038 0 217.4px,#2f1a46 0 218.8px,#197039 0 220.2px,#209848 0 221.6px,#144124 0 223.0px,#317c3a 0 224.4px,#247939 0 225.8px,#226933 0 227.2px,#195830 0 228.6px,#62368f 0 230.0px,#6a4197 0 231.4px,#4d2575 0 232.8px,#61348e 0 234.2px,#542c7e 0 235.6px,#512c7c 0 237.0px,#49286b 0 238.4px)"></div><div style="left:357.88px;width:10.56px;background:linear-gradient(#19562d 0 1.4px,#1f463c 0 2.8px,#266f51 0 4.2px,#27553e 0 5.6px,#194b29 0 7.0px,#18291e 0 8.4px,#237b3a 0 9.8px,#262433 0 11.2px,#2e6d34 0 12.6px,#174d2a 0 14.0px,#255b3c 0 15.4px,#11241b 0 16.8px,#2b7135 0 18.2px,#154021 0 19.6px,#208b42 0 21.0px,#2baa4c 0 22.4px,#297f3b 0 23.8px,#377331 0 25.2px,#217439 0 26.6px,#23612c 0 28.0px,#1e803b 0 29.4px,#307c3a 0 30.9px,#457844 0 32.3px,#24873e 0 33.7px,#238740 0 35.1px,#1a6230 0 36.5px,#2a7635 0 37.9px,#369f48 0 39.3px,#39ab49 0 40.7px,#33b44e 0 42.1px,#62bc4a 0 43.5px,#37a84a 0 44.9px,#317f3b 0 46.3px,#3c923f 0 47.7px,#62bc4a 0 49.1px,#488338 0 50.5px,#41b24c 0 51.9px,#46a648 0 53.3px,#4db84c 0 54.7px,#4eb84b 0 56.1px,#61b84b 0 57.5px,#3aa549 0 58.9px,#319e46 0 60.3px,#48ac4a 0 61.7px,#239d49 0 63.1px,#368a3e 0 64.5px,#2f9546 0 65.9px,#2fa44a 0 67.3px,#358b40 0 68.7px,#4eb84b 0 70.1px,#45b14b 0 71.5px,#44a749 0 72.9px,#3ca045 0 74.3px,#52b94b 0 75.7px,#3dad4a 0 77.1px,#389442 0 78.5px,#3e9841 0 79.9px,#72be4a 0 81.3px,#48a046 0 82.7px,#229246 0 84.1px,#3cb04c 0 85.5px,#5a9e40 0 86.9px,#45a044 0 88.3px,#3e8e3b 0 89.8px,#15532e 0 91.2px,#1e8241 0 92.6px,#35a248 0 94.0px,#36ae4b 0 95.4px,#309845 0 96.8px,#218640 0 98.2px,#1b7c3f 0 99.6px,#218d42 0 101.0px,#29af4d 0 102.4px,#1a6633 0 103.8px,#28803d 0 105.2px,#278541 0 106.6px,#30a64a 0 108.0px,#36af4d 0 109.4px,#218643 0 110.8px,#19552e 0 112.2px,#258a43 0 113.6px,#31913f 0 115.0px,#309241 0 116.4px,#216431 0 117.8px,#227138 0 119.2px,#4db049 0 120.6px,#53a444 0 122.0px,#44b74c 0 123.4px,#4b893b 0 124.8px,#52b74b 0 126.2px,#279747 0 127.6px,#3cb14b 0 129.0px,#36b44d 0 130.4px,#3fa648 0 131.8px,#348a3c 0 133.2px,#5dbb4b 0 134.6px,#43a546 0 136.0px,#3d8038 0 137.4px,#59ba4a 0 138.8px,#24a64c 0 140.2px,#287d39 0 141.6px,#48b34c 0 143.0px,#35b44e 0 144.4px,#5ab74b 0 145.8px,#44a648 0 147.2px,#1b8441 0 148.6px,#34204d 0 150.1px,#3b1b58 0 151.5px,#29163e 0 152.9px,#351c53 0 154.3px,#583381 0 155.7px,#2e1c3f 0 157.1px,#3a1b57 0 158.5px,#36214f 0 159.9px,#3b1c5d 0 161.3px,#4e3c73 0 162.7px,#3d1b5d 0 164.1px,#1c0f27 0 165.5px,#2f1f45 0 166.9px,#381851 0 168.3px,#143420 0 169.7px,#1a5b2e 0 171.1px,#1a3a26 0 172.5px,#205c2d 0 173.9px,#304a2a 0 175.3px,#26403f 0 176.7px,#1a512b 0 178.1px,#123b22 0 179.5px,#122215 0 180.9px,#4e2576 0 182.3px,#20172c 0 183.7px,#2c344a 0 185.1px,#2e364e 0 186.5px,#381b52 0 187.9px,#332642 0 189.3px,#512a77 0 190.7px,#5d3386 0 192.1px,#663594 0 193.5px,#58337e 0 194.9px,#522e7e 0 196.3px,#673f93 0 197.7px,#58347c 0 199.1px,#532e75 0 200.5px,#6b3e98 0 201.9px,#622f91 0 203.3px,#5a3187 0 204.7px,#45216b 0 206.1px,#5a3484 0 207.5px,#533674 0 209.0px,#34264a 0 210.4px,#4d2b72 0 211.8px,#29153d 0 213.2px,#4a3167 0 214.6px,#251b31 0 216.0px,#2e313d 0 217.4px,#391b53 0 218.8px,#4b2474 0 220.2px,#261535 0 221.6px,#1e1e29 0 223.0px,#2f1847 0 224.4px,#2b2e3f 0 225.8px,#50297d 0 227.2px,#442b66 0 228.6px,#3e1e62 0 230.0px,#1c0b24 0 231.4px,#2b1340 0 232.8px,#132d20 0 234.2px,#261237 0 235.6px,#40225d 0 237.0px,#3e275b 0 238.4px)"></div><div style="left:368.44px;width:10.56px;background:linear-gradient(#40652a 0 1.4px,#212b2d 0 2.8px,#133620 0 4.2px,#205239 0 5.6px,#1a7639 0 7.0px,#143921 0 8.4px,#16552c 0 9.8px,#17562e 0 11.2px,#336c33 0 12.6px,#237b3a 0 14.0px,#206142 0 15.4px,#21452b 0 16.8px,#1d5229 0 18.2px,#164323 0 19.6px,#221332 0 21.0px,#155d31 0 22.4px,#274135 0 23.8px,#343e4f 0 25.2px,#2a3c47 0 26.6px,#332f4f 0 28.0px,#303b4f 0 29.4px,#2d1543 0 30.9px,#303b51 0 32.3px,#214434 0 33.7px,#214832 0 35.1px,#272333 0 36.5px,#1b221f 0 37.9px,#242236 0 39.3px,#154f2a 0 40.7px,#1e5839 0 42.1px,#14502a 0 43.5px,#110a13 0 44.9px,#301b43 0 46.3px,#2a133c 0 47.7px,#2b7437 0 49.1px,#21493c 0 50.5px,#204e25 0 51.9px,#22483e 0 53.3px,#265245 0 54.7px,#0f2719 0 56.1px,#2d6b33 0 57.5px,#142c1d 0 58.9px,#1e7f40 0 60.3px,#391b59 0 61.7px,#593182 0 63.1px,#3b2556 0 64.5px,#411f66 0 65.9px,#361651 0 67.3px,#41215c 0 68.7px,#150919 0 70.1px,#1d803d 0 71.5px,#231c31 0 72.9px,#1a7f40 0 74.3px,#245e30 0 75.7px,#277437 0 77.1px,#197238 0 78.5px,#348a3d 0 79.9px,#171c19 0 81.3px,#32234a 0 82.7px,#364452 0 84.1px,#38485c 0 85.5px,#1a2027 0 86.9px,#112016 0 88.3px,#473265 0 89.8px,#401d61 0 91.2px,#3f1d5c 0 92.6px,#2c1840 0 94.0px,#37194f 0 95.4px,#371b54 0 96.8px,#532a7c 0 98.2px,#4c2476 0 99.6px,#216f4a 0 101.0px,#265039 0 102.4px,#265f2d 0 103.8px,#19783b 0 105.2px,#176d36 0 106.6px,#163720 0 108.0px,#2a863c 0 109.4px,#1b7a3d 0 110.8px,#1a4a28 0 112.2px,#289142 0 113.6px,#172a25 0 115.0px,#305a29 0 116.4px,#15241d 0 117.8px,#162b18 0 119.2px,#1c6231 0 120.6px,#257744 0 122.0px,#2c3e3e 0 123.4px,#33733b 0 124.8px,#383d5e 0 126.2px,#378057 0 127.6px,#2f344f 0 129.0px,#2c4747 0 130.4px,#186633 0 131.8px,#1d2a2d 0 133.2px,#15542e 0 134.6px,#243936 0 136.0px,#295f3e 0 137.4px,#18351d 0 138.8px,#1a4e29 0 140.2px,#389641 0 141.6px,#19381c 0 143.0px,#1a6031 0 144.4px,#224522 0 145.8px,#1e3432 0 147.2px,#142415 0 148.6px,#334255 0 150.1px,#245143 0 151.5px,#133620 0 152.9px,#33664b 0 154.3px,#2a2842 0 155.7px,#274a23 0 157.1px,#223634 0 158.5px,#37375e 0 159.9px,#251234 0 161.3px,#3d1c5a 0 162.7px,#241d2f 0 164.1px,#263439 0 165.5px,#45236d 0 166.9px,#502b72 0 168.3px,#194c32 0 169.7px,#307a4d 0 171.1px,#1e552a 0 172.5px,#1f5b40 0 173.9px,#316c2f 0 175.3px,#1f4839 0 176.7px,#307332 0 178.1px,#205337 0 179.5px,#174723 0 180.9px,#1b4120 0 182.3px,#1e6e33 0 183.7px,#32392d 0 185.1px,#112d1a 0 186.5px,#164d2c 0 187.9px,#223b2a 0 189.3px,#2b3843 0 190.7px,#1b1f26 0 192.1px,#281239 0 193.5px,#1d4831 0 194.9px,#29133b 0 196.3px,#432064 0 197.7px,#272a3f 0 199.1px,#1a6e39 0 200.5px,#225d2c 0 201.9px,#196737 0 203.3px,#1e322f 0 204.7px,#224436 0 206.1px,#13361f 0 207.5px,#275f2d 0 209.0px,#2d1341 0 210.4px,#442067 0 211.8px,#241b31 0 213.2px,#412763 0 214.6px,#2a4d47 0 216.0px,#341a4e 0 217.4px,#24383a 0 218.8px,#15261b 0 220.2px,#176c37 0 221.6px,#1d502b 0 223.0px,#235e2d 0 224.4px,#1c9548 0 225.8px,#256048 0 227.2px,#154c2b 0 228.6px,#572d80 0 230.0px,#4d2a6d 0 231.4px,#311549 0 232.8px,#4c276f 0 234.2px,#303d46 0 235.6px,#3e1c5e 0 237.0px,#3e235c 0 238.4px)"></div><div style="left:379.00px;width:10.56px;background:linear-gradient(#1c4a27 0 1.4px,#25443c 0 2.8px,#1b7136 0 4.2px,#255537 0 5.6px,#186634 0 7.0px,#1b332b 0 8.4px,#296e35 0 9.8px,#20553e 0 11.2px,#174f2c 0 12.6px,#1b432c 0 14.0px,#15361e 0 15.4px,#2f3f2d 0 16.8px,#427e36 0 18.2px,#1a6d38 0 19.6px,#247e3b 0 21.0px,#359c44 0 22.4px,#2dab4c 0 23.8px,#16542d 0 25.2px,#22833e 0 26.6px,#185c30 0 28.0px,#2c9043 0 29.4px,#247136 0 30.9px,#337f45 0 32.3px,#2f7c39 0 33.7px,#42b64c 0 35.1px,#1e7639 0 36.5px,#28a94c 0 37.9px,#1a7d3d 0 39.3px,#267a3c 0 40.7px,#218b42 0 42.1px,#56b84b 0 43.5px,#2a522d 0 44.9px,#1e813d 0 46.3px,#207140 0 47.7px,#1c7c3e 0 49.1px,#2c6439 0 50.5px,#1b5a2d 0 51.9px,#153c23 0 53.3px,#2e5655 0 54.7px,#16592e 0 56.1px,#2c7a38 0 57.5px,#1a7f40 0 58.9px,#124928 0 60.3px,#7953a4 0 61.7px,#734a9f 0 63.1px,#62368f 0 64.5px,#7b56a6 0 65.9px,#71469d 0 67.3px,#764fa2 0 70.1px,#6f439b 0 71.5px,#71469d 0 72.9px,#6d439a 0 74.3px,#58357a 0 75.7px,#71469d 0 77.1px,#72489e 0 78.5px,#683d95 0 79.9px,#301b48 0 81.3px,#22152e 0 82.7px,#2e1741 0 84.1px,#35274a 0 85.5px,#36204d 0 86.9px,#522e76 0 88.3px,#2d223e 0 89.8px,#19562d 0 91.2px,#1e2d32 0 92.6px,#245442 0 94.0px,#1d4937 0 95.4px,#247939 0 96.8px,#1f5631 0 98.2px,#183e22 0 99.6px,#422660 0 101.0px,#3a1f55 0 102.4px,#241033 0 103.8px,#311f4a 0 105.2px,#5d3881 0 106.6px,#442365 0 108.0px,#351650 0 109.4px,#319c45 0 110.8px,#175f32 0 112.2px,#489c41 0 113.6px,#11331d 0 115.0px,#2b5127 0 116.4px,#143c20 0 117.8px,#1d5228 0 119.2px,#18572e 0 120.6px,#277842 0 122.0px,#2d7a47 0 123.4px,#141317 0 124.8px,#30613d 0 126.2px,#297c39 0 127.6px,#134f2a 0 129.0px,#143a23 0 130.4px,#2b7534 0 131.8px,#2d1d42 0 133.2px,#209046 0 134.6px,#1e683d 0 136.0px,#113b24 0 137.4px,#218b41 0 138.8px,#183125 0 140.2px,#653b92 0 141.6px,#734a9f 0 143.0px,#5f3686 0 144.4px,#532c7a 0 145.8px,#60398a 0 147.2px,#5b3189 0 148.6px,#266730 0 150.1px,#1a6836 0 151.5px,#196f3a 0 152.9px,#1e592d 0 154.3px,#2b4941 0 155.7px,#1e5f2f 0 157.1px,#25793a 0 158.5px,#24803b 0 159.9px,#2e8f42 0 161.3px,#20793b 0 162.7px,#349947 0 164.1px,#257034 0 165.5px,#2a8e42 0 166.9px,#22552e 0 168.3px,#207a39 0 169.7px,#194a27 0 171.1px,#409e44 0 172.5px,#217537 0 173.9px,#347635 0 175.3px,#28823c 0 176.7px,#1a5a2e 0 178.1px,#197b3c 0 179.5px,#186130 0 180.9px,#266530 0 182.3px,#22602f 0 183.7px,#3e7732 0 185.1px,#208641 0 186.5px,#239745 0 187.9px,#2e9044 0 189.3px,#156233 0 190.7px,#1c562a 0 192.1px,#1c9648 0 193.5px,#23a84d 0 194.9px,#2aa34a 0 196.3px,#194823 0 197.7px,#173c23 0 199.1px,#2c3e45 0 200.5px,#164727 0 201.9px,#1b723f 0 203.3px,#195631 0 204.7px,#172c18 0 206.1px,#1f3431 0 207.5px,#204e31 0 209.0px,#271f3a 0 210.4px,#412064 0 211.8px,#342247 0 213.2px,#4b256e 0 214.6px,#313250 0 216.0px,#512d7b 0 217.4px,#2b133f 0 218.8px,#196032 0 220.2px,#294640 0 221.6px,#2a7747 0 223.0px,#1c472d 0 224.4px,#1c562c 0 225.8px,#1b2621 0 227.2px,#111e14 0 228.6px,#5c3289 0 230.0px,#6b3f98 0 231.4px,#613b8e 0 232.8px,#572d83 0 234.2px,#5f3a8c 0 235.6px,#5e338a 0 237.0px,#5f328d 0 238.4px)"></div><div style="left:391.80px;width:10.56px;background:linear-gradient(#297337 0 1.4px,#24433d 0 2.8px,#236737 0 4.2px,#336931 0 5.6px,#133c20 0 7.0px,#1b753a 0 8.4px,#164a28 0 9.8px,#1e8742 0 11.2px,#318842 0 12.6px,#1d8d44 0 14.0px,#19783b 0 15.4px,#267233 0 16.8px,#349945 0 18.2px,#1b6b37 0 19.6px,#2e833a 0 21.0px,#3ba549 0 22.4px,#35a048 0 23.8px,#1e7a3c 0 25.2px,#348c3f 0 26.6px,#2b9d48 0 28.0px,#23853c 0 29.4px,#27a64b 0 30.9px,#328e53 0 32.3px,#259b48 0 33.7px,#318c3d 0 35.1px,#276d31 0 36.5px,#246436 0 37.9px,#2eae4c 0 39.3px,#23682f 0 40.7px,#32a449 0 42.1px,#219347 0 43.5px,#235d2c 0 44.9px,#1a552e 0 46.3px,#21662f 0 47.7px,#3b9644 0 49.1px,#389743 0 50.5px,#327a3a 0 51.9px,#217b3a 0 53.3px,#255f2b 0 54.7px,#227e3a 0 56.1px,#3b8f40 0 57.5px,#1e753a 0 58.9px,#1e803d 0 60.3px,#7851a3 0 61.7px,#593186 0 63.1px,#6c4698 0 64.5px,#7b56a6 0 65.9px,#6f449c 0 67.3px,#72489e 0 68.7px,#6d409a 0 70.1px,#5f3b84 0 71.5px,#633a90 0 72.9px,#62388d 0 74.3px,#59357e 0 75.7px,#663f8f 0 77.1px,#683896 0 78.5px,#4d3070 0 79.9px,#744ca0 0 81.3px,#70459d 0 82.7px,#673a94 0 84.1px,#5b3484 0 85.5px,#7953a4 0 86.9px,#7851a3 0 88.3px,#653d91 0 89.8px,#19783e 0 91.2px,#212131 0 92.6px,#185f31 0 94.0px,#227437 0 95.4px,#176235 0 96.8px,#16522a 0 98.2px,#198a45 0 99.6px,#2e823a 0 101.0px,#259243 0 102.4px,#2a7a37 0 103.8px,#44a346 0 105.2px,#268a40 0 106.6px,#217b3c 0 108.0px,#2fa349 0 109.4px,#2eac4c 0 110.8px,#19582c 0 112.2px,#51b94b 0 113.6px,#3e7d36 0 115.0px,#28823e 0 116.4px,#18522d 0 117.8px,#389841 0 119.2px,#572c84 0 120.6px,#4e3070 0 122.0px,#5a347e 0 123.4px,#5b2d89 0 124.8px,#6c3f9a 0 126.2px,#592d88 0 127.6px,#582e85 0 129.0px,#633e89 0 130.4px,#401c5d 0 131.8px,#442f67 0 133.2px,#271d34 0 134.6px,#3b2257 0 136.0px,#4a2570 0 137.4px,#361b54 0 138.8px,#2c1340 0 140.2px,#5c308a 0 141.6px,#754da1 0 143.0px,#60338d 0 144.4px,#522a77 0 145.8px,#6e459b 0 147.2px,#5c3288 0 148.6px,#2e6e31 0 150.1px,#198343 0 151.5px,#17582f 0 152.9px,#2d9f49 0 154.3px,#1e7239 0 155.7px,#379444 0 157.1px,#289c48 0 158.5px,#2d9545 0 159.9px,#2aa94b 0 161.3px,#22a24b 0 162.7px,#208e43 0 164.1px,#3bae4c 0 165.5px,#1b6032 0 166.9px,#267334 0 168.3px,#338d3d 0 169.7px,#339142 0 171.1px,#4aa747 0 172.5px,#62bc4a 0 173.9px,#3da749 0 175.3px,#52b94c 0 176.7px,#2b9443 0 178.1px,#2fa047 0 179.5px,#328139 0 180.9px,#47b74c 0 182.3px,#5bba4b 0 183.7px,#4aa046 0 185.1px,#4ab44b 0 186.5px,#4cb24b 0 187.9px,#5db149 0 189.3px,#32a74a 0 190.7px,#45b74c 0 192.1px,#279042 0 193.5px,#4cb44b 0 194.9px,#47b74c 0 196.3px,#208a44 0 197.7px,#4ab84c 0 199.1px,#1b8f45 0 200.5px,#30823b 0 201.9px,#35b04c 0 203.3px,#1a8b45 0 204.7px,#198544 0 206.1px,#1f793a 0 207.5px,#45a847 0 209.0px,#176232 0 210.4px,#1b4728 0 211.8px,#1a7c3c 0 213.2px,#1d623a 0 214.6px,#246332 0 216.0px,#379140 0 217.4px,#2d6c33 0 218.8px,#198444 0 220.2px,#309c45 0 221.6px,#2c9244 0 223.0px,#33873c 0 224.4px,#218640 0 225.8px,#1a7136 0 227.2px,#248c41 0 228.6px,#26613d 0 230.0px,#227d3e 0 231.4px,#319845 0 232.8px,#1d7438 0 234.2px,#318e42 0 235.6px,#2b7d39 0 237.0px,#1a703a 0 238.4px)"></div><div style="left:402.36px;width:10.56px;background:linear-gradient(#19572d 0 1.4px,#1e152a 0 2.8px,#184b29 0 4.2px,#25353f 0 5.6px,#284d29 0 7.0px,#154426 0 8.4px,#142b1b 0 9.8px,#1b1125 0 11.2px,#346845 0 12.6px,#27253c 0 14.0px,#2a564f 0 15.4px,#213536 0 16.8px,#2b6150 0 18.2px,#2b1741 0 19.6px,#2e1444 0 21.0px,#20112c 0 22.4px,#363f5d 0 23.8px,#29133b 0 25.2px,#2e1844 0 26.6px,#242235 0 28.0px,#131417 0 29.4px,#1d432e 0 30.9px,#202030 0 32.3px,#333154 0 33.7px,#11281b 0 35.1px,#172724 0 36.5px,#251d33 0 37.9px,#394b54 0 39.3px,#33244c 0 40.7px,#1c1525 0 42.1px,#152623 0 43.5px,#0f0911 0 44.9px,#343959 0 46.3px,#33194f 0 47.7px,#1a2529 0 49.1px,#365144 0 50.5px,#144121 0 51.9px,#17582d 0 53.3px,#13211a 0 54.7px,#184e2a 0 56.1px,#1b4a27 0 57.5px,#1d6330 0 58.9px,#19271c 0 60.3px,#17552c 0 61.7px,#194b29 0 63.1px,#1b5d31 0 64.5px,#253533 0 65.9px,#184425 0 67.3px,#242030 0 68.7px,#185c32 0 70.1px,#1a6333 0 71.5px,#246d4a 0 72.9px,#225729 0 74.3px,#12341d 0 75.7px,#2a643f 0 77.1px,#2b1740 0 78.5px,#334138 0 79.9px,#183c1d 0 81.3px,#1a232a 0 82.7px,#18301e 0 84.1px,#132a19 0 85.5px,#1c2824 0 86.9px,#1a1c24 0 88.3px,#13221c 0 89.8px,#1e6e37 0 91.2px,#186936 0 92.6px,#1a773d 0 94.0px,#1f6c36 0 95.4px,#1c823f 0 96.8px,#1a6535 0 98.2px,#1a4624 0 99.6px,#1b4f2a 0 101.0px,#194a28 0 102.4px,#1c1e28 0 103.8px,#17522d 0 105.2px,#16361e 0 106.6px,#1e2927 0 108.0px,#297b44 0 109.4px,#1a4424 0 110.8px,#1d302b 0 112.2px,#17542c 0 113.6px,#1a401f 0 115.0px,#164f2b 0 116.4px,#212e34 0 117.8px,#154426 0 119.2px,#16522d 0 120.6px,#174f2c 0 122.0px,#275c45 0 123.4px,#1d4333 0 124.8px,#164321 0 126.2px,#1e4026 0 127.6px,#17351d 0 129.0px,#1a231d 0 130.4px,#2a9041 0 131.8px,#207338 0 133.2px,#19522c 0 134.6px,#1c863e 0 136.0px,#186031 0 137.4px,#164e2b 0 138.8px,#194526 0 140.2px,#19502b 0 141.6px,#234b2e 0 143.0px,#124425 0 144.4px,#2a5f2d 0 145.8px,#30634c 0 147.2px,#183e22 0 148.6px,#183d24 0 150.1px,#293535 0 151.5px,#1d2227 0 152.9px,#21272e 0 154.3px,#162d1f 0 155.7px,#1d1f24 0 157.1px,#131f16 0 158.5px,#273640 0 159.9px,#303851 0 161.3px,#211f2f 0 162.7px,#1c1226 0 164.1px,#1d1827 0 165.5px,#2d1442 0 166.9px,#38284f 0 168.3px,#1a6d33 0 169.7px,#1c4824 0 171.1px,#154927 0 172.5px,#184929 0 173.9px,#20743e 0 175.3px,#296944 0 176.7px,#1c6832 0 178.1px,#183527 0 179.5px,#3e1c5e 0 180.9px,#3c205e 0 182.3px,#592b86 0 183.7px,#190e21 0 185.1px,#2d2041 0 186.5px,#261739 0 187.9px,#203938 0 189.3px,#4c2273 0 190.7px,#572c85 0 192.1px,#522a76 0 193.5px,#3e1e61 0 194.9px,#48256c 0 196.3px,#512a7a 0 197.7px,#472369 0 199.1px,#232c3a 0 200.5px,#1f0d2b 0 201.9px,#23192f 0 203.3px,#422a63 0 204.7px,#0f0810 0 206.1px,#49296b 0 207.5px,#292937 0 209.0px,#2d4843 0 210.4px,#2a123b 0 211.8px,#220d2f 0 213.2px,#2a173d 0 214.6px,#2a243f 0 216.0px,#210f2f 0 217.4px,#3b1b58 0 218.8px,#256831 0 220.2px,#163122 0 221.6px,#176637 0 223.0px,#173728 0 224.4px,#1d8140 0 225.8px,#162816 0 227.2px,#162525 0 228.6px,#552d7e 0 230.0px,#633d8f 0 231.4px,#3e1d59 0 232.8px,#34164d 0 234.2px,#4d2a73 0 235.6px,#512a76 0 237.0px,#4e2b70 0 238.4px)"></div><div style="left:412.92px;width:10.56px;background:linear-gradient(#3d873c 0 1.4px,#1f6a3b 0 2.8px,#277a38 0 4.2px,#22803e 0 5.6px,#40b24a 0 7.0px,#1b7b3d 0 8.4px,#18723d 0 9.8px,#28654a 0 11.2px,#1e452b 0 12.6px,#124725 0 14.0px,#173f26 0 15.4px,#34513c 0 16.8px,#2b7a38 0 18.2px,#1a381e 0 19.6px,#25813f 0 21.0px,#2f9b46 0 22.4px,#45a448 0 23.8px,#1b783b 0 25.2px,#1e803e 0 26.6px,#29813b 0 28.0px,#1d6c36 0 29.4px,#236d34 0 30.9px,#33893c 0 32.3px,#227638 0 33.7px,#2ca049 0 35.1px,#287435 0 36.5px,#1b542d 0 37.9px,#2c843c 0 39.3px,#28a24a 0 40.7px,#28843d 0 42.1px,#1f9948 0 43.5px,#16552c 0 44.9px,#2e6a32 0 46.3px,#131313 0 47.7px,#1da44c 0 49.1px,#3a7534 0 50.5px,#4c9c41 0 51.9px,#41a849 0 53.3px,#237437 0 54.7px,#208f45 0 56.1px,#48b34b 0 57.5px,#5ebb4b 0 58.9px,#43b14b 0 60.3px,#55ab47 0 61.7px,#279e48 0 63.1px,#45a647 0 64.5px,#5ba242 0 65.9px,#368d3e 0 67.3px,#459d42 0 68.7px,#65bc4a 0 70.1px,#53b149 0 71.5px,#319a43 0 72.9px,#35a749 0 74.3px,#50b94b 0 75.7px,#51b64b 0 77.1px,#29a149 0 78.5px,#358a3f 0 79.9px,#4fb84c 0 81.3px,#5ea845 0 82.7px,#3fb44c 0 84.1px,#5dbb4b 0 85.5px,#3aad4a 0 86.9px,#41933f 0 88.3px,#155a31 0 89.8px,#218e41 0 91.2px,#167439 0 92.6px,#35af4b 0 94.0px,#25873f 0 95.4px,#3e9844 0 96.8px,#208f45 0 98.2px,#1b8742 0 99.6px,#34853b 0 101.0px,#217239 0 102.4px,#197b40 0 103.8px,#1a7e40 0 105.2px,#1a7a3c 0 106.6px,#348a3d 0 108.0px,#277034 0 109.4px,#163b20 0 110.8px,#1b2929 0 112.2px,#3b9e44 0 113.6px,#2d7547 0 115.0px,#287236 0 116.4px,#19572f 0 117.8px,#1a743b 0 119.2px,#2aa34a 0 120.6px,#34a148 0 122.0px,#298f41 0 123.4px,#3e7431 0 124.8px,#1d5c3a 0 126.2px,#286833 0 127.6px,#226632 0 129.0px,#1d7638 0 130.4px,#4dad49 0 131.8px,#277d3b 0 133.2px,#318d43 0 134.6px,#56aa47 0 136.0px,#3ea749 0 137.4px,#42b64c 0 138.8px,#47ad49 0 140.2px,#46b74c 0 141.6px,#448d3e 0 143.0px,#3cb44c 0 144.4px,#449840 0 145.8px,#2e8039 0 147.2px,#1d8d42 0 148.6px,#5d308a 0 150.1px,#5a3284 0 151.5px,#57317e 0 152.9px,#653b91 0 154.3px,#6f449c 0 155.7px,#5d3788 0 157.1px,#54297c 0 158.5px,#267b3c 0 159.9px,#2d553a 0 161.3px,#17512d 0 162.7px,#166032 0 164.1px,#348b3c 0 165.5px,#252035 0 166.9px,#2d3644 0 168.3px,#30853c 0 169.7px,#2b7333 0 171.1px,#3ca046 0 172.5px,#19773e 0 173.9px,#36873b 0 175.3px,#329746 0 176.7px,#19743c 0 178.1px,#1f8a43 0 179.5px,#122319 0 180.9px,#175e37 0 182.3px,#20573e 0 183.7px,#307652 0 185.1px,#184826 0 186.5px,#265025 0 187.9px,#153921 0 189.3px,#212936 0 190.7px,#164b2b 0 192.1px,#295d35 0 193.5px,#1b362d 0 194.9px,#215339 0 196.3px,#183f1f 0 197.7px,#207739 0 199.1px,#1b462b 0 200.5px,#1c6633 0 201.9px,#19743d 0 203.3px,#1b3a27 0 204.7px,#154424 0 206.1px,#224134 0 207.5px,#304e42 0 209.0px,#248541 0 210.4px,#173f23 0 211.8px,#1a7d3d 0 213.2px,#133d21 0 214.6px,#259446 0 216.0px,#2c7e3b 0 217.4px,#219344 0 218.8px,#27a049 0 220.2px,#3cac4b 0 221.6px,#259144 0 223.0px,#347a36 0 224.4px,#237134 0 225.8px,#1a763c 0 227.2px,#217237 0 228.6px,#195f31 0 230.0px,#187039 0 231.4px,#2bac4d 0 232.8px,#2a9647 0 234.2px,#1a7b3b 0 235.6px,#2b562d 0 237.0px,#25793a 0 238.4px)"></div><div style="left:423.48px;width:10.56px;background:linear-gradient(#3b3458 0 1.4px,#2c2f3c 0 2.8px,#301947 0 4.2px,#534d7e 0 5.6px,#1c1126 0 7.0px,#1f162a 0 8.4px,#3d375a 0 9.8px,#241a32 0 11.2px,#192b27 0 12.6px,#233a34 0 14.0px,#204b34 0 15.4px,#265542 0 16.8px,#1b6033 0 18.2px,#26263c 0 19.6px,#653693 0 21.0px,#4a2575 0 22.4px,#5a3584 0 23.8px,#5d2f8b 0 25.2px,#4d2b6f 0 26.6px,#4b2671 0 28.0px,#371852 0 29.4px,#4c2473 0 30.9px,#421d63 0 32.3px,#4d2673 0 33.7px,#442067 0 35.1px,#482472 0 36.5px,#381e51 0 37.9px,#4f2875 0 39.3px,#2f2441 0 40.7px,#401f62 0 42.1px,#180f1f 0 43.5px,#192126 0 44.9px,#271237 0 46.3px,#2c2541 0 47.7px,#1e1f2b 0 49.1px,#40335f 0 50.5px,#303d4e 0 51.9px,#140b19 0 53.3px,#47216a 0 54.7px,#3d1d5f 0 56.1px,#3d414c 0 57.5px,#3b2b5b 0 58.9px,#401e61 0 60.3px,#5a3386 0 61.7px,#3c1e58 0 63.1px,#34164a 0 64.5px,#5f2d8d 0 65.9px,#321c4c 0 67.3px,#4b2575 0 68.7px,#2d1443 0 70.1px,#2c2240 0 71.5px,#361852 0 72.9px,#4e2679 0 74.3px,#2c3a4b 0 75.7px,#28253e 0 77.1px,#210e2d 0 78.5px,#243634 0 79.9px,#562b84 0 81.3px,#522981 0 82.7px,#572c81 0 84.1px,#5f2d8e 0 85.5px,#3f1f64 0 86.9px,#6d409a 0 88.3px,#5d2e8b 0 89.8px,#542b7e 0 91.2px,#5b2c8a 0 92.6px,#562983 0 94.0px,#5a3086 0 95.4px,#431d65 0 96.8px,#50277c 0 98.2px,#5f318d 0 99.6px,#2e193f 0 101.0px,#17101c 0 102.4px,#2e1741 0 103.8px,#22112f 0 105.2px,#22192c 0 106.6px,#2e1345 0 108.0px,#2b253e 0 109.4px,#2b1541 0 110.8px,#401e63 0 112.2px,#173525 0 113.6px,#44216b 0 115.0px,#35204d 0 116.4px,#1a1a22 0 117.8px,#30184a 0 119.2px,#361a51 0 120.6px,#1c1125 0 122.0px,#43255f 0 123.4px,#2e1444 0 124.8px,#3b1b5b 0 126.2px,#271437 0 127.6px,#231031 0 129.0px,#0e120e 0 130.4px,#1c322d 0 131.8px,#2e1442 0 133.2px,#2f2743 0 134.6px,#3c3664 0 136.0px,#382751 0 137.4px,#381b51 0 138.8px,#2d4343 0 140.2px,#301e47 0 141.6px,#27143a 0 143.0px,#214238 0 144.4px,#37495a 0 145.8px,#3c2057 0 147.2px,#29193b 0 148.6px,#245546 0 150.1px,#1b1b24 0 151.5px,#2e1647 0 152.9px,#251435 0 154.3px,#20142c 0 155.7px,#371a52 0 157.1px,#2a5a4a 0 158.5px,#182d19 0 159.9px,#17562e 0 161.3px,#16502b 0 162.7px,#121e15 0 164.1px,#1b512c 0 165.5px,#1a5a2d 0 166.9px,#17221c 0 168.3px,#134526 0 169.7px,#194421 0 171.1px,#163c21 0 172.5px,#16572d 0 173.9px,#18572d 0 175.3px,#2d8252 0 176.7px,#124727 0 178.1px,#1d492b 0 179.5px,#19613a 0 180.9px,#133820 0 182.3px,#1c3b2e 0 183.7px,#1b4524 0 185.1px,#213a35 0 186.5px,#1b4b28 0 187.9px,#1a6131 0 189.3px,#141c1b 0 190.7px,#153820 0 192.1px,#1b0c25 0 193.5px,#361a4f 0 194.9px,#282740 0 196.3px,#282c3e 0 197.7px,#4a5560 0 199.1px,#2f2144 0 200.5px,#27313b 0 201.9px,#153322 0 203.3px,#252136 0 204.7px,#28383b 0 206.1px,#160e1c 0 207.5px,#1a0d23 0 209.0px,#1b5c31 0 210.4px,#132114 0 211.8px,#16161a 0 213.2px,#391c51 0 214.6px,#2f593e 0 216.0px,#164024 0 217.4px,#1b3024 0 218.8px,#16462a 0 220.2px,#223e37 0 221.6px,#2b644a 0 223.0px,#22433a 0 224.4px,#1d2427 0 225.8px,#1b1224 0 227.2px,#1f4827 0 228.6px,#25483f 0 230.0px,#101e14 0 231.4px,#15572f 0 232.8px,#17361e 0 234.2px,#264943 0 235.6px,#233033 0 237.0px,#121414 0 238.4px)"></div><div style="left:434.04px;width:10.56px;background:linear-gradient(#317842 0 1.4px,#2a664e 0 2.8px,#202a29 0 4.2px,#1c5b2d 0 5.6px,#1a5f31 0 7.0px,#164120 0 8.4px,#184024 0 9.8px,#193e21 0 11.2px,#25592a 0 12.6px,#175b2f 0 14.0px,#182827 0 15.4px,#233638 0 16.8px,#185c2e 0 18.2px,#193821 0 19.6px,#152120 0 21.0px,#2f2b43 0 22.4px,#1e0c29 0 23.8px,#24323c 0 25.2px,#214930 0 26.6px,#2c3442 0 28.0px,#2a564d 0 29.4px,#283942 0 30.9px,#1f2531 0 32.3px,#391c57 0 33.7px,#20202c 0 35.1px,#342549 0 36.5px,#133521 0 37.9px,#154322 0 39.3px,#193620 0 40.7px,#152722 0 42.1px,#173326 0 43.5px,#143e21 0 44.9px,#172a26 0 46.3px,#251c34 0 47.7px,#25263a 0 49.1px,#323d4f 0 50.5px,#292f45 0 51.9px,#101510 0 53.3px,#263240 0 54.7px,#173624 0 56.1px,#1b3320 0 57.5px,#18552d 0 58.9px,#15502a 0 60.3px,#181a1c 0 61.7px,#241f34 0 63.1px,#214339 0 64.5px,#3a1b59 0 65.9px,#204639 0 67.3px,#2c3847 0 68.7px,#12331d 0 70.1px,#2a5d4c 0 71.5px,#242934 0 72.9px,#1b3e2a 0 74.3px,#1a3826 0 75.7px,#0f140f 0 77.1px,#1d262b 0 78.5px,#2a3835 0 79.9px,#392957 0 81.3px,#2d3c4b 0 82.7px,#1c2724 0 84.1px,#152b24 0 85.5px,#204c39 0 86.9px,#281b36 0 88.3px,#1b2c22 0 89.8px,#15542e 0 91.2px,#112117 0 92.6px,#2f2242 0 94.0px,#152116 0 95.4px,#202431 0 96.8px,#265747 0 98.2px,#31354e 0 99.6px,#153d22 0 101.0px,#346550 0 102.4px,#1e813f 0 103.8px,#165530 0 105.2px,#1c4c34 0 106.6px,#298e40 0 108.0px,#0e2b19 0 109.4px,#183a21 0 110.8px,#204139 0 112.2px,#207348 0 113.6px,#1c2f22 0 115.0px,#181f1d 0 116.4px,#122214 0 117.8px,#196332 0 119.2px,#342449 0 120.6px,#2e2d43 0 122.0px,#4f3472 0 123.4px,#341e4f 0 124.8px,#262331 0 126.2px,#232235 0 127.6px,#21182c 0 129.0px,#4b2771 0 130.4px,#2a3a45 0 131.8px,#3b2451 0 133.2px,#1f1828 0 134.6px,#431f66 0 136.0px,#391c55 0 137.4px,#2a1b3b 0 138.8px,#251136 0 140.2px,#12281c 0 141.6px,#190d21 0 143.0px,#271836 0 144.4px,#0f2219 0 145.8px,#30384a 0 147.2px,#342b4a 0 148.6px,#33254a 0 150.1px,#273f3c 0 151.5px,#361850 0 152.9px,#251c31 0 154.3px,#372551 0 155.7px,#2d1443 0 157.1px,#2e1b3e 0 158.5px,#1a2026 0 159.9px,#292a39 0 161.3px,#3f1d61 0 162.7px,#120c16 0 164.1px,#2f2344 0 165.5px,#241635 0 166.9px,#3d1e58 0 168.3px,#131b19 0 169.7px,#1c6a34 0 171.1px,#194023 0 172.5px,#184b29 0 173.9px,#1a5732 0 175.3px,#2f5e2c 0 176.7px,#143622 0 178.1px,#1b4926 0 179.5px,#21112f 0 180.9px,#35214c 0 182.3px,#321749 0 183.7px,#29223b 0 185.1px,#1c0b25 0 186.5px,#261735 0 187.9px,#153623 0 189.3px,#110e13 0 190.7px,#401f64 0 192.1px,#1b1022 0 193.5px,#312e4e 0 194.9px,#352f55 0 196.3px,#3b2e57 0 197.7px,#3a1f59 0 199.1px,#461f69 0 200.5px,#603689 0 201.9px,#582c84 0 203.3px,#4d2972 0 204.7px,#4b2373 0 206.1px,#593386 0 207.5px,#2f1545 0 209.0px,#29143e 0 210.4px,#592b88 0 211.8px,#1e0f2a 0 213.2px,#523472 0 214.6px,#204433 0 216.0px,#261435 0 217.4px,#281939 0 218.8px,#305c55 0 220.2px,#3a1a55 0 221.6px,#1b1822 0 223.0px,#2a133f 0 224.4px,#24343c 0 225.8px,#29123a 0 227.2px,#45236e 0 228.6px,#321949 0 230.0px,#482472 0 231.4px,#27243b 0 232.8px,#1a1023 0 234.2px,#2e1c41 0 235.6px,#292840 0 237.0px,#3a1c5a 0 238.4px)"></div><div style="left:444.60px;width:10.56px;background:linear-gradient(#37405d 0 1.4px,#2e1a41 0 2.8px,#33374a 0 4.2px,#27413b 0 5.6px,#13371f 0 7.0px,#32194b 0 8.4px,#261136 0 9.8px,#1f2230 0 11.2px,#3c4164 0 12.6px,#2e2444 0 14.0px,#381851 0 15.4px,#332849 0 16.8px,#241435 0 18.2px,#2e1c41 0 19.6px,#5f358a 0 21.0px,#633a8d 0 22.4px,#592b88 0 23.8px,#5d348a 0 25.2px,#5e3a89 0 26.6px,#5a3188 0 28.0px,#4f2676 0 29.4px,#28113b 0 30.9px,#341b4b 0 32.3px,#371953 0 33.7px,#180e1e 0 35.1px,#32154b 0 36.5px,#0d090d 0 37.9px,#27283a 0 39.3px,#5f368c 0 40.7px,#673a94 0 42.1px,#441f68 0 43.5px,#52277f 0 44.9px,#522a7c 0 46.3px,#663f8f 0 47.7px,#30184a 0 49.1px,#5e3687 0 50.5px,#4c286f 0 51.9px,#4b2575 0 53.3px,#512f7a 0 54.7px,#623390 0 56.1px,#402f64 0 57.5px,#4c2773 0 58.9px,#452361 0 60.3px,#1a4129 0 61.7px,#1c252c 0 63.1px,#16381c 0 64.5px,#163826 0 65.9px,#2b1841 0 67.3px,#1d5529 0 68.7px,#173f23 0 70.1px,#193e22 0 71.5px,#29803e 0 72.9px,#141a19 0 74.3px,#143e22 0 75.7px,#166536 0 77.1px,#143c20 0 78.5px,#276732 0 79.9px,#1d592c 0 81.3px,#1b6432 0 82.7px,#13301b 0 84.1px,#20563f 0 85.5px,#1a6836 0 86.9px,#101910 0 88.3px,#196938 0 89.8px,#265c2e 0 91.2px,#1b633b 0 92.6px,#467650 0 94.0px,#11331d 0 95.4px,#1e833f 0 96.8px,#174c2d 0 98.2px,#184b27 0 99.6px,#4e2772 0 101.0px,#5a2d88 0 102.4px,#391d59 0 103.8px,#4e2572 0 105.2px,#442069 0 106.6px,#602f8e 0 108.0px,#3c1a5b 0 109.4px,#144928 0 110.8px,#202a2e 0 112.2px,#20482f 0 113.6px,#233b3b 0 115.0px,#193821 0 116.4px,#1b6233 0 117.8px,#192a28 0 119.2px,#4a236d 0 120.6px,#41275f 0 122.0px,#532d7b 0 123.4px,#4b2574 0 124.8px,#593285 0 126.2px,#47216d 0 127.6px,#251734 0 129.0px,#4e2573 0 130.4px,#3d1e5d 0 131.8px,#3c2354 0 133.2px,#492574 0 134.6px,#54297f 0 136.0px,#5b3286 0 137.4px,#54287a 0 138.8px,#492573 0 140.2px,#312945 0 141.6px,#34174b 0 143.0px,#29133c 0 144.4px,#1e1429 0 145.8px,#492a6b 0 147.2px,#171020 0 148.6px,#2a153d 0 150.1px,#24313d 0 151.5px,#34194c 0 152.9px,#4e366f 0 154.3px,#28253c 0 155.7px,#392a56 0 157.1px,#240f34 0 158.5px,#3a1b5a 0 159.9px,#5c2e8a 0 161.3px,#3a1a56 0 162.7px,#3f2062 0 164.1px,#4c2470 0 165.5px,#442069 0 166.9px,#683a96 0 168.3px,#1b713a 0 169.7px,#1b542a 0 171.1px,#1c6d37 0 172.5px,#289c48 0 173.9px,#228c42 0 175.3px,#29713c 0 176.7px,#176334 0 178.1px,#1a542c 0 179.5px,#240d32 0 180.9px,#180d20 0 182.3px,#301647 0 183.7px,#2e3e4f 0 185.1px,#2f1445 0 186.5px,#2c133d 0 187.9px,#33404e 0 189.3px,#29133c 0 190.7px,#301646 0 192.1px,#3a1b58 0 193.5px,#27153c 0 194.9px,#2b113e 0 196.3px,#27153a 0 197.7px,#20192a 0 199.1px,#282c40 0 200.5px,#261036 0 201.9px,#412864 0 203.3px,#231731 0 204.7px,#381b54 0 206.1px,#251534 0 207.5px,#28263e 0 209.0px,#1d4a24 0 210.4px,#1f1029 0 211.8px,#1e4420 0 213.2px,#2a203d 0 214.6px,#177139 0 216.0px,#183a1f 0 217.4px,#153b22 0 218.8px,#265347 0 220.2px,#163d24 0 221.6px,#1c5330 0 223.0px,#1b562e 0 224.4px,#225038 0 225.8px,#121b18 0 227.2px,#15301b 0 228.6px,#301c49 0 230.0px,#452466 0 231.4px,#321548 0 232.8px,#34204c 0 234.2px,#301548 0 235.6px,#432161 0 237.0px,#271238 0 238.4px)"></div><div style="left:455.16px;width:10.56px;background:linear-gradient(#19542d 0 1.4px,#27443f 0 2.8px,#284130 0 4.2px,#204638 0 5.6px,#1a552b 0 7.0px,#223c38 0 8.4px,#277538 0 9.8px,#412061 0 11.2px,#2b213e 0 12.6px,#371a54 0 14.0px,#1f0f2c 0 15.4px,#2e2b41 0 16.8px,#152418 0 18.2px,#3d1c5e 0 19.6px,#52287a 0 21.0px,#492573 0 22.4px,#5b2d8a 0 23.8px,#462368 0 25.2px,#573083 0 26.6px,#47226e 0 28.0px,#512977 0 29.4px,#3a1e59 0 30.9px,#241c32 0 32.3px,#18151f 0 33.7px,#29173d 0 35.1px,#22112f 0 36.5px,#2d1745 0 37.9px,#351a4e 0 39.3px,#2f454a 0 40.7px,#2d1c42 0 42.1px,#1a2a24 0 43.5px,#19121f 0 44.9px,#311949 0 46.3px,#3a1b58 0 47.7px,#1a2320 0 49.1px,#2a2340 0 50.5px,#2a143f 0 51.9px,#2b1540 0 53.3px,#2e2747 0 54.7px,#200f2e 0 56.1px,#263738 0 57.5px,#160a1c 0 58.9px,#293546 0 60.3px,#2d1e42 0 61.7px,#272339 0 63.1px,#0e100e 0 64.5px,#240e33 0 65.9px,#220d2f 0 67.3px,#260e36 0 68.7px,#2e1b44 0 70.1px,#51297c 0 71.5px,#472766 0 72.9px,#4f2779 0 74.3px,#3b2657 0 75.7px,#52287f 0 77.1px,#5b3486 0 78.5px,#431e62 0 79.9px,#232c31 0 81.3px,#2e1c43 0 82.7px,#343659 0 84.1px,#302746 0 85.5px,#271839 0 86.9px,#200f2c 0 88.3px,#2a2843 0 89.8px,#2b2442 0 91.2px,#292439 0 92.6px,#29163a 0 94.0px,#28123b 0 95.4px,#34264d 0 96.8px,#252a33 0 98.2px,#3e205f 0 99.6px,#321e46 0 101.0px,#382051 0 102.4px,#172324 0 103.8px,#2e1845 0 105.2px,#403468 0 106.6px,#3b1e53 0 108.0px,#180b20 0 109.4px,#174626 0 110.8px,#161f20 0 112.2px,#277b3d 0 113.6px,#2d7841 0 115.0px,#174c28 0 116.4px,#2b7551 0 117.8px,#17542d 0 119.2px,#34194f 0 120.6px,#32424e 0 122.0px,#3b375f 0 123.4px,#201a2a 0 124.8px,#3b315f 0 126.2px,#131415 0 127.6px,#2b2642 0 129.0px,#20182d 0 130.4px,#281b3a 0 131.8px,#49296c 0 133.2px,#1d202b 0 134.6px,#1f3035 0 136.0px,#2d1d3c 0 137.4px,#2c1742 0 138.8px,#2a2440 0 140.2px,#32184d 0 141.6px,#552c7d 0 143.0px,#492675 0 144.4px,#401c5f 0 145.8px,#562e80 0 147.2px,#562a85 0 148.6px,#381d57 0 150.1px,#2b1540 0 151.5px,#161319 0 152.9px,#2a203a 0 154.3px,#341e4b 0 155.7px,#3a265a 0 157.1px,#24273a 0 158.5px,#15111a 0 159.9px,#241931 0 161.3px,#46226b 0 162.7px,#311a4c 0 164.1px,#2c3242 0 165.5px,#372b56 0 166.9px,#412562 0 168.3px,#2f1547 0 169.7px,#241133 0 171.1px,#2c1f3d 0 172.5px,#1b2d2c 0 173.9px,#274140 0 175.3px,#444e6b 0 176.7px,#271039 0 178.1px,#452166 0 179.5px,#46236f 0 180.9px,#3d1f5b 0 182.3px,#582f85 0 183.7px,#3d1f5b 0 185.1px,#462168 0 186.5px,#552e83 0 187.9px,#382050 0 189.3px,#361e4d 0 190.7px,#51267c 0 192.1px,#46216a 0 193.5px,#471f6b 0 194.9px,#4c2475 0 196.3px,#50297c 0 197.7px,#3e1e5e 0 199.1px,#190f22 0 200.5px,#221f2f 0 201.9px,#3a2454 0 203.3px,#2f3544 0 204.7px,#101b14 0 206.1px,#2d1543 0 207.5px,#1f222f 0 209.0px,#202130 0 210.4px,#301a44 0 211.8px,#341b4f 0 213.2px,#452368 0 214.6px,#162519 0 216.0px,#21162e 0 217.4px,#2b1d3c 0 218.8px,#213c35 0 220.2px,#261338 0 221.6px,#2d1544 0 223.0px,#241e33 0 224.4px,#182a28 0 225.8px,#2c2442 0 227.2px,#2b133e 0 228.6px,#433068 0 230.0px,#401d60 0 231.4px,#213639 0 232.8px,#29133d 0 234.2px,#251335 0 235.6px,#193b2a 0 237.0px,#160c1c 0 238.4px)"></div><div style="left:465.72px;width:10.56px;background:linear-gradient(#165832 0 1.4px,#283e3f 0 2.8px,#1d2f2f 0 4.2px,#213e31 0 5.6px,#122d1c 0 7.0px,#264042 0 8.4px,#1c6a34 0 9.8px,#242834 0 11.2px,#183c21 0 12.6px,#1d582b 0 14.0px,#113a20 0 15.4px,#296e3e 0 16.8px,#1a6736 0 18.2px,#153f29 0 19.6px,#261338 0 21.0px,#1b6333 0 22.4px,#2c2946 0 23.8px,#242232 0 25.2px,#302643 0 26.6px,#29253e 0 28.0px,#1b0e26 0 29.4px,#152318 0 30.9px,#264442 0 32.3px,#16311e 0 33.7px,#1a793e 0 35.1px,#236349 0 36.5px,#18532c 0 37.9px,#233d1f 0 39.3px,#283c39 0 40.7px,#28343e 0 42.1px,#1e3c30 0 43.5px,#1e332f 0 44.9px,#2f2145 0 46.3px,#261237 0 47.7px,#213638 0 49.1px,#244b43 0 50.5px,#17552d 0 51.9px,#174423 0 53.3px,#203f27 0 54.7px,#111b13 0 56.1px,#289845 0 57.5px,#1b3327 0 58.9px,#162b19 0 60.3px,#1a6433 0 61.7px,#2c2843 0 63.1px,#174227 0 64.5px,#263b3c 0 65.9px,#142817 0 67.3px,#193f1f 0 68.7px,#184e29 0 70.1px,#185d32 0 71.5px,#206734 0 72.9px,#1c4424 0 74.3px,#195233 0 75.7px,#196637 0 77.1px,#187b3c 0 78.5px,#175a2e 0 79.9px,#259d49 0 81.3px,#227136 0 82.7px,#141b14 0 84.1px,#1b8441 0 85.5px,#183e2f 0 86.9px,#1c342c 0 88.3px,#18592e 0 89.8px,#19411f 0 91.2px,#1b3a1f 0 92.6px,#133621 0 94.0px,#16141c 0 95.4px,#174929 0 96.8px,#315943 0 98.2px,#1c0e26 0 99.6px,#2d3831 0 101.0px,#121b12 0 102.4px,#16341d 0 103.8px,#15351d 0 105.2px,#20182a 0 106.6px,#17321d 0 108.0px,#285026 0 109.4px,#1b522f 0 110.8px,#186f38 0 112.2px,#29883f 0 113.6px,#176535 0 115.0px,#243822 0 116.4px,#154021 0 117.8px,#183b23 0 119.2px,#194a28 0 120.6px,#194725 0 122.0px,#233036 0 123.4px,#1d322e 0 124.8px,#15532d 0 126.2px,#141f1d 0 127.6px,#1c572c 0 129.0px,#1f4132 0 130.4px,#255747 0 131.8px,#1b1c21 0 133.2px,#1b3029 0 134.6px,#1a3025 0 136.0px,#375c5a 0 137.4px,#1d2323 0 138.8px,#204d3a 0 140.2px,#1f3835 0 141.6px,#143720 0 143.0px,#104125 0 144.4px,#113921 0 145.8px,#245a3f 0 147.2px,#25592a 0 148.6px,#196b39 0 150.1px,#2b2340 0 151.5px,#160b1b 0 152.9px,#28153b 0 154.3px,#0d100d 0 155.7px,#1a4d35 0 157.1px,#162f1e 0 158.5px,#3c2a5a 0 159.9px,#29143c 0 161.3px,#2a143e 0 162.7px,#13211e 0 164.1px,#2e1441 0 165.5px,#321b49 0 166.9px,#2e1847 0 168.3px,#1b6532 0 169.7px,#155d33 0 171.1px,#2c5031 0 172.5px,#1b5c30 0 173.9px,#21582e 0 175.3px,#124626 0 176.7px,#152817 0 178.1px,#1c7d3c 0 179.5px,#1a7137 0 180.9px,#218e44 0 182.3px,#174024 0 183.7px,#2a8941 0 185.1px,#204029 0 186.5px,#265f2e 0 187.9px,#2a8f43 0 189.3px,#271838 0 190.7px,#260f35 0 192.1px,#192720 0 193.5px,#2a173e 0 194.9px,#2c1943 0 196.3px,#302c48 0 197.7px,#28323b 0 199.1px,#1b371d 0 200.5px,#1a512c 0 201.9px,#11301d 0 203.3px,#193829 0 204.7px,#20523c 0 206.1px,#2c3245 0 207.5px,#185a2d 0 209.0px,#184525 0 210.4px,#222b2f 0 211.8px,#124c28 0 213.2px,#16151b 0 214.6px,#101710 0 216.0px,#15502d 0 217.4px,#173a23 0 218.8px,#2b203f 0 220.2px,#282e37 0 221.6px,#215339 0 223.0px,#2c1742 0 224.4px,#1c252b 0 225.8px,#301847 0 227.2px,#3b1b5c 0 228.6px,#131814 0 230.0px,#15381f 0 231.4px,#2a5645 0 232.8px,#18391f 0 234.2px,#29543f 0 235.6px,#228b43 0 237.0px,#164424 0 238.4px)"></div><div style="left:476.28px;width:10.56px;background:linear-gradient(#303047 0 1.4px,#3e235e 0 2.8px,#251a32 0 4.2px,#41386b 0 5.6px,#302246 0 7.0px,#2f364d 0 8.4px,#2d2f4c 0 9.8px,#1c4726 0 11.2px,#307d4e 0 12.6px,#202e34 0 14.0px,#142e1a 0 15.4px,#223637 0 16.8px,#265533 0 18.2px,#174928 0 19.6px,#3c1f5d 0 21.0px,#1e2b2b 0 22.4px,#3b2457 0 23.8px,#2f1e45 0 25.2px,#29203b 0 26.6px,#332c52 0 28.0px,#1c2626 0 29.4px,#381954 0 30.9px,#203a38 0 32.3px,#242f3c 0 33.7px,#193128 0 35.1px,#434c5b 0 36.5px,#251e34 0 37.9px,#2e414b 0 39.3px,#401f65 0 40.7px,#241430 0 42.1px,#250e34 0 43.5px,#371c54 0 44.9px,#241930 0 46.3px,#29133b 0 47.7px,#341a4b 0 49.1px,#271b34 0 50.5px,#101812 0 51.9px,#1c3b24 0 53.3px,#235f2e 0 54.7px,#221131 0 56.1px,#132219 0 57.5px,#203936 0 58.9px,#2d4442 0 60.3px,#143620 0 61.7px,#1d322a 0 63.1px,#1e5a39 0 64.5px,#142a19 0 65.9px,#132716 0 67.3px,#17141c 0 68.7px,#143621 0 70.1px,#2a1a38 0 71.5px,#33154a 0 72.9px,#1d0c26 0 74.3px,#1e3f2c 0 75.7px,#371953 0 77.1px,#3f1e5f 0 78.5px,#2f2645 0 79.9px,#233b36 0 81.3px,#1a2e26 0 82.7px,#1c1225 0 84.1px,#0f2f1b 0 85.5px,#233b3a 0 86.9px,#231032 0 88.3px,#142f1b 0 89.8px,#1c4022 0 91.2px,#1c3d2e 0 92.6px,#174029 0 94.0px,#175d30 0 95.4px,#1a5b31 0 96.8px,#1d412e 0 98.2px,#220f31 0 99.6px,#1b5a39 0 101.0px,#1a332d 0 102.4px,#2a303d 0 103.8px,#142817 0 105.2px,#17572e 0 106.6px,#17572c 0 108.0px,#1b8541 0 109.4px,#191521 0 110.8px,#414360 0 112.2px,#192929 0 113.6px,#372451 0 115.0px,#372653 0 116.4px,#2d1b41 0 117.8px,#29133c 0 119.2px,#154427 0 120.6px,#1a4927 0 122.0px,#285d44 0 123.4px,#286d4d 0 124.8px,#275845 0 126.2px,#1c6833 0 127.6px,#166032 0 129.0px,#174e2a 0 130.4px,#164728 0 131.8px,#142014 0 133.2px,#110d13 0 134.6px,#214335 0 136.0px,#264340 0 137.4px,#235e2e 0 138.8px,#1a6334 0 140.2px,#1b2f23 0 141.6px,#252238 0 143.0px,#2c203e 0 144.4px,#183b27 0 145.8px,#262d3f 0 147.2px,#222531 0 148.6px,#432462 0 150.1px,#33194e 0 151.5px,#432465 0 152.9px,#4b2779 0 154.3px,#4e2577 0 155.7px,#4d2578 0 157.1px,#4e2576 0 158.5px,#150d1a 0 159.9px,#4a276c 0 161.3px,#323a55 0 162.7px,#2b133d 0 164.1px,#223134 0 165.5px,#3a1d59 0 166.9px,#2e1f3f 0 168.3px,#315645 0 169.7px,#152220 0 171.1px,#1c7539 0 172.5px,#164e2b 0 173.9px,#237136 0 175.3px,#194423 0 176.7px,#397a35 0 178.1px,#1a552e 0 179.5px,#47236d 0 180.9px,#50277b 0 182.3px,#432166 0 183.7px,#4b2677 0 185.1px,#472569 0 186.5px,#5f348d 0 187.9px,#28123b 0 189.3px,#191e21 0 190.7px,#411e65 0 192.1px,#2f3647 0 193.5px,#2e1644 0 194.9px,#24182f 0 196.3px,#302347 0 197.7px,#32184a 0 199.1px,#431f64 0 200.5px,#29143d 0 201.9px,#21112e 0 203.3px,#35344e 0 204.7px,#361e56 0 206.1px,#1e1b29 0 207.5px,#322f4e 0 209.0px,#261037 0 210.4px,#374058 0 211.8px,#251f35 0 213.2px,#582e7e 0 214.6px,#2c243d 0 216.0px,#0c0d0c 0 217.4px,#2c1d3e 0 218.8px,#1b1525 0 220.2px,#261138 0 221.6px,#224d42 0 223.0px,#2b1b3e 0 224.4px,#122d1c 0 225.8px,#241235 0 227.2px,#221a30 0 228.6px,#31334f 0 230.0px,#361951 0 231.4px,#281039 0 232.8px,#1d0e29 0 234.2px,#371955 0 235.6px,#3b1b5c 0 237.0px,#312e47 0 238.4px)"></div><div style="left:486.84px;width:10.56px;background:linear-gradient(#134226 0 1.4px,#282f37 0 2.8px,#0f140f 0 4.2px,#26622d 0 5.6px,#164022 0 7.0px,#132b19 0 8.4px,#205f2e 0 9.8px,#142214 0 11.2px,#216e35 0 12.6px,#152623 0 14.0px,#1e4236 0 15.4px,#315f2c 0 16.8px,#1a6632 0 18.2px,#141715 0 19.6px,#2e2045 0 21.0px,#1f102b 0 22.4px,#2f2844 0 23.8px,#2f1542 0 25.2px,#2a143f 0 26.6px,#312848 0 28.0px,#283c43 0 29.4px,#443068 0 30.9px,#242535 0 32.3px,#2c1241 0 33.7px,#322647 0 35.1px,#411d62 0 36.5px,#391a55 0 37.9px,#33244b 0 39.3px,#164a2b 0 40.7px,#19552d 0 42.1px,#176534 0 43.5px,#143523 0 44.9px,#1e5f31 0 46.3px,#1d2127 0 47.7px,#19522b 0 49.1px,#194425 0 50.5px,#194221 0 51.9px,#12341e 0 53.3px,#162b1d 0 54.7px,#252835 0 56.1px,#2e7c3a 0 57.5px,#1a492f 0 58.9px,#142c20 0 60.3px,#114726 0 61.7px,#193029 0 63.1px,#193d24 0 64.5px,#252439 0 65.9px,#174e2a 0 67.3px,#18181c 0 68.7px,#154d2b 0 70.1px,#15351f 0 71.5px,#1c322a 0 72.9px,#142218 0 74.3px,#16482a 0 75.7px,#164a29 0 77.1px,#13221e 0 78.5px,#283e26 0 79.9px,#239246 0 81.3px,#197739 0 82.7px,#1a8844 0 84.1px,#1b6133 0 85.5px,#1a592c 0 86.9px,#207c3c 0 88.3px,#1a6634 0 89.8px,#16582f 0 91.2px,#197e42 0 92.6px,#1f8b45 0 94.0px,#1a6e39 0 96.8px,#1d5328 0 98.2px,#205f2e 0 99.6px,#335e4d 0 101.0px,#1f3d33 0 102.4px,#184425 0 103.8px,#1b743a 0 105.2px,#175e33 0 106.6px,#1b6f39 0 108.0px,#245746 0 109.4px,#1e6d36 0 110.8px,#19572c 0 112.2px,#186c38 0 113.6px,#164a27 0 115.0px,#2e8c3e 0 116.4px,#1a6234 0 117.8px,#215e2f 0 119.2px,#144225 0 120.6px,#1c4529 0 122.0px,#173322 0 123.4px,#193d24 0 124.8px,#223c2c 0 126.2px,#184423 0 127.6px,#18773b 0 129.0px,#142416 0 130.4px,#165d2e 0 131.8px,#26413c 0 133.2px,#19271b 0 134.6px,#173f25 0 136.0px,#2f514a 0 137.4px,#194831 0 138.8px,#1a482c 0 140.2px,#124b28 0 141.6px,#1a4d29 0 143.0px,#133a21 0 144.4px,#224138 0 145.8px,#1d3832 0 147.2px,#1c1e27 0 148.6px,#3d1e5e 0 150.1px,#2b113e 0 151.5px,#4c2375 0 152.9px,#5a2c88 0 154.3px,#522d77 0 155.7px,#562a84 0 157.1px,#47216e 0 158.5px,#391c57 0 159.9px,#32174c 0 161.3px,#21252a 0 162.7px,#1f0c2a 0 164.1px,#2a2540 0 165.5px,#472d6a 0 166.9px,#572c84 0 168.3px,#215b30 0 169.7px,#164b28 0 171.1px,#2b783a 0 172.5px,#1e793b 0 173.9px,#1f5d2d 0 175.3px,#379c46 0 176.7px,#16572d 0 178.1px,#1b6232 0 179.5px,#3a1c5a 0 180.9px,#332b4b 0 182.3px,#33224c 0 183.7px,#2e3a3f 0 185.1px,#242034 0 186.5px,#17171b 0 187.9px,#204039 0 189.3px,#1f3331 0 190.7px,#1a352d 0 192.1px,#1c2322 0 193.5px,#215328 0 194.9px,#2d2341 0 196.3px,#19793b 0 197.7px,#16351f 0 199.1px,#482573 0 200.5px,#51287f 0 201.9px,#552b81 0 203.3px,#4f2974 0 204.7px,#4f287c 0 206.1px,#5e328c 0 207.5px,#3d1d56 0 209.0px,#431f68 0 210.4px,#5b2a89 0 211.8px,#582f81 0 213.2px,#4e2775 0 214.6px,#251235 0 216.0px,#47226e 0 217.4px,#522579 0 218.8px,#302145 0 220.2px,#412165 0 221.6px,#272934 0 223.0px,#34174a 0 224.4px,#2f1c45 0 225.8px,#32174c 0 227.2px,#2c1f3d 0 228.6px,#345750 0 230.0px,#2b1f3e 0 231.4px,#186636 0 232.8px,#18392a 0 234.2px,#1a4633 0 235.6px,#0c0e0c 0 237.0px,#164425 0 238.4px)"></div><div style="left:497.40px;width:10.56px;background:linear-gradient(#1e2127 0 1.4px,#341749 0 2.8px,#1e1c28 0 4.2px,#2b3f49 0 5.6px,#141d15 0 7.0px,#29123b 0 8.4px,#2c2140 0 9.8px,#20252b 0 11.2px,#215234 0 12.6px,#184e29 0 14.0px,#183f28 0 15.4px,#1e4d25 0 16.8px,#1a6435 0 18.2px,#183f24 0 19.6px,#4d287b 0 21.0px,#422169 0 22.4px,#4a246d 0 23.8px,#58337e 0 25.2px,#442562 0 26.6px,#46206c 0 28.0px,#422a61 0 29.4px,#53297d 0 30.9px,#4e2971 0 32.3px,#592a86 0 33.7px,#46216a 0 35.1px,#4b2671 0 36.5px,#4f267a 0 37.9px,#4a256f 0 39.3px,#2d2743 0 40.7px,#27113a 0 42.1px,#182828 0 43.5px,#1d0e28 0 44.9px,#2c223e 0 46.3px,#2c273d 0 47.7px,#281f3a 0 49.1px,#381b55 0 50.5px,#213839 0 51.9px,#341c51 0 53.3px,#452667 0 54.7px,#361a4d 0 56.1px,#3c2358 0 57.5px,#21112f 0 58.9px,#2f1445 0 60.3px,#392d56 0 61.7px,#170a1c 0 63.1px,#271539 0 64.5px,#31184b 0 65.9px,#381f52 0 67.3px,#3d1d60 0 68.7px,#140f17 0 70.1px,#2e1244 0 71.5px,#232032 0 72.9px,#3f1f64 0 74.3px,#2b2b45 0 75.7px,#2f2a44 0 77.1px,#361951 0 78.5px,#3c1c5e 0 79.9px,#23873f 0 81.3px,#228640 0 82.7px,#1f7336 0 84.1px,#1a4022 0 85.5px,#134225 0 86.9px,#1e5429 0 88.3px,#185a2f 0 89.8px,#162f1c 0 91.2px,#217536 0 92.6px,#16562d 0 94.0px,#1d7639 0 95.4px,#1a6f39 0 96.8px,#194123 0 98.2px,#134827 0 99.6px,#1a282c 0 101.0px,#1a2d25 0 102.4px,#14281e 0 103.8px,#224d31 0 105.2px,#1d3627 0 106.6px,#254037 0 108.0px,#1c6734 0 109.4px,#1a6032 0 110.8px,#163e23 0 112.2px,#359040 0 113.6px,#1e5331 0 115.0px,#238840 0 116.4px,#1a4725 0 117.8px,#17331c 0 119.2px,#183d21 0 120.6px,#1c3b32 0 122.0px,#203833 0 123.4px,#1d2925 0 124.8px,#273943 0 126.2px,#16251b 0 127.6px,#141a15 0 129.0px,#132b1d 0 130.4px,#17502d 0 131.8px,#174624 0 133.2px,#1b322c 0 134.6px,#134627 0 136.0px,#16562c 0 137.4px,#2c2d3f 0 138.8px,#205840 0 140.2px,#1f0e2c 0 141.6px,#4b2573 0 143.0px,#1e1d2b 0 144.4px,#2d1f40 0 145.8px,#2f1848 0 147.2px,#220d30 0 148.6px,#282b3b 0 150.1px,#361951 0 151.5px,#28153d 0 152.9px,#492570 0 154.3px,#152816 0 155.7px,#20192c 0 157.1px,#272534 0 158.5px,#1b7039 0 159.9px,#163826 0 161.3px,#285c49 0 162.7px,#19552e 0 164.1px,#1b552b 0 165.5px,#111612 0 166.9px,#204d39 0 168.3px,#123a23 0 169.7px,#208a42 0 171.1px,#1a743b 0 172.5px,#24803d 0 173.9px,#286f35 0 175.3px,#297a3b 0 176.7px,#164826 0 178.1px,#24813a 0 179.5px,#216143 0 180.9px,#1d372d 0 182.3px,#1f402d 0 183.7px,#2e8444 0 185.1px,#152b1e 0 186.5px,#226a32 0 187.9px,#13391e 0 189.3px,#3b1d59 0 190.7px,#34184d 0 192.1px,#1f2729 0 193.5px,#271038 0 194.9px,#251236 0 196.3px,#27243c 0 197.7px,#342750 0 199.1px,#1e2325 0 200.5px,#251237 0 201.9px,#2a2b43 0 203.3px,#2e334c 0 204.7px,#323556 0 206.1px,#47246a 0 207.5px,#242336 0 209.0px,#33204c 0 210.4px,#34204d 0 211.8px,#3d1e5d 0 213.2px,#37234f 0 214.6px,#221131 0 216.0px,#2a133f 0 217.4px,#301749 0 218.8px,#37794a 0 220.2px,#133721 0 221.6px,#307b50 0 223.0px,#1a5b31 0 224.4px,#295b2c 0 225.8px,#1a371d 0 227.2px,#141118 0 228.6px,#2e1544 0 230.0px,#240e34 0 231.4px,#211b2d 0 232.8px,#272235 0 234.2px,#261833 0 235.6px,#2a1d3e 0 237.0px,#321549 0 238.4px)"></div><div style="left:507.96px;width:10.56px;background:linear-gradient(#1d2b30 0 1.4px,#2a2935 0 2.8px,#271639 0 4.2px,#1d252b 0 5.6px,#3f4d62 0 7.0px,#3b2a5b 0 8.4px,#34254b 0 9.8px,#184626 0 11.2px,#2b3b33 0 12.6px,#1f4132 0 14.0px,#1d4923 0 15.4px,#1f3a30 0 16.8px,#227339 0 18.2px,#22282e 0 19.6px,#5f2c8e 0 21.0px,#3b1b59 0 22.4px,#552983 0 23.8px,#5c338a 0 25.2px,#512b7a 0 26.6px,#43226b 0 28.0px,#48246e 0 29.4px,#391a57 0 30.9px,#321648 0 32.3px,#2a1440 0 33.7px,#261236 0 35.1px,#231131 0 36.5px,#211e2c 0 37.9px,#392d53 0 39.3px,#48216d 0 40.7px,#572d81 0 42.1px,#32164c 0 43.5px,#381b56 0 44.9px,#47226c 0 46.3px,#522e76 0 47.7px,#331c48 0 49.1px,#582d82 0 50.5px,#142220 0 51.9px,#36224d 0 53.3px,#49226f 0 54.7px,#422660 0 56.1px,#32324d 0 57.5px,#232636 0 58.9px,#2e2948 0 60.3px,#1b6a36 0 61.7px,#1a6e38 0 63.1px,#248a42 0 64.5px,#177e3c 0 65.9px,#239443 0 67.3px,#124225 0 68.7px,#1e6434 0 70.1px,#194a28 0 71.5px,#1a2826 0 72.9px,#1e2a23 0 74.3px,#1f5e2f 0 75.7px,#13331d 0 77.1px,#1c3628 0 78.5px,#18292a 0 79.9px,#278a40 0 81.3px,#1a562f 0 82.7px,#1a552c 0 84.1px,#196837 0 85.5px,#307d3b 0 86.9px,#1a582d 0 88.3px,#14502a 0 89.8px,#1a3122 0 91.2px,#1a302b 0 92.6px,#2b6647 0 94.0px,#194928 0 95.4px,#1c4233 0 96.8px,#172120 0 98.2px,#1d1327 0 99.6px,#34214d 0 101.0px,#38204f 0 102.4px,#241633 0 103.8px,#3d295b 0 105.2px,#2c1642 0 106.6px,#361a52 0 108.0px,#24453f 0 109.4px,#206833 0 110.8px,#1d2825 0 112.2px,#154728 0 113.6px,#2c3c3e 0 115.0px,#207437 0 116.4px,#254839 0 117.8px,#1a572f 0 119.2px,#1d632f 0 120.6px,#276933 0 122.0px,#22503e 0 123.4px,#195329 0 124.8px,#1b302a 0 126.2px,#1e3723 0 127.6px,#143822 0 129.0px,#1b312c 0 130.4px,#14542c 0 131.8px,#185730 0 133.2px,#205a2b 0 134.6px,#1e412e 0 136.0px,#305658 0 137.4px,#174727 0 138.8px,#233538 0 140.2px,#191220 0 141.6px,#351b52 0 143.0px,#32174c 0 144.4px,#364157 0 145.8px,#30354d 0 147.2px,#1e0f2a 0 148.6px,#322d50 0 150.1px,#401f65 0 151.5px,#49256c 0 152.9px,#43216a 0 154.3px,#401e62 0 155.7px,#663893 0 157.1px,#411e64 0 158.5px,#382854 0 159.9px,#311446 0 161.3px,#2c1e41 0 162.7px,#32454f 0 164.1px,#2d1f43 0 165.5px,#231031 0 166.9px,#37204e 0 168.3px,#174423 0 169.7px,#142f1e 0 171.1px,#2a7f3a 0 172.5px,#1c4a2d 0 173.9px,#2d7232 0 175.3px,#345846 0 176.7px,#173223 0 178.1px,#214537 0 179.5px,#21192e 0 180.9px,#281a34 0 182.3px,#1f0d2a 0 183.7px,#382151 0 185.1px,#252236 0 186.5px,#28193b 0 187.9px,#2d3a32 0 189.3px,#381a55 0 190.7px,#272235 0 192.1px,#311548 0 193.5px,#201b29 0 194.9px,#4a2271 0 196.3px,#312344 0 197.7px,#302147 0 199.1px,#3f1c60 0 200.5px,#462168 0 201.9px,#2a163d 0 203.3px,#24172f 0 204.7px,#381a52 0 206.1px,#2a123d 0 207.5px,#1e0d29 0 209.0px,#421d64 0 210.4px,#5a2b89 0 211.8px,#4a2672 0 213.2px,#60318f 0 214.6px,#3d1c5c 0 216.0px,#471e6a 0 217.4px,#46216b 0 218.8px,#121514 0 220.2px,#1f112b 0 221.6px,#192b28 0 223.0px,#162b18 0 224.4px,#233a3d 0 225.8px,#2a133d 0 227.2px,#251337 0 228.6px,#3f1d62 0 230.0px,#3f3a65 0 231.4px,#302e4d 0 232.8px,#160e1c 0 234.2px,#431e66 0 235.6px,#20172b 0 237.0px,#34194f 0 238.4px)"></div><div style="left:518.52px;width:10.56px;background:linear-gradient(#26371e 0 1.4px,#263f3c 0 2.8px,#1c3223 0 4.2px,#1c5339 0 5.6px,#1c6b36 0 7.0px,#122619 0 8.4px,#18582f 0 9.8px,#123d24 0 11.2px,#194e33 0 12.6px,#184626 0 14.0px,#144128 0 15.4px,#243f28 0 16.8px,#196232 0 18.2px,#1d5128 0 19.6px,#2d1d3e 0 21.0px,#141717 0 22.4px,#29103c 0 23.8px,#3a3257 0 25.2px,#36234c 0 26.6px,#1f0c2a 0 28.0px,#283438 0 29.4px,#2e3931 0 30.9px,#382150 0 32.3px,#241a33 0 33.7px,#18161e 0 35.1px,#2f1445 0 36.5px,#3e2c58 0 37.9px,#21142d 0 39.3px,#273f42 0 40.7px,#121113 0 42.1px,#174224 0 43.5px,#171c1f 0 44.9px,#1e2d28 0 46.3px,#273d3e 0 47.7px,#174427 0 49.1px,#2d4149 0 50.5px,#1a1820 0 51.9px,#1b371d 0 53.3px,#17141c 0 54.7px,#2d1c41 0 56.1px,#2b7032 0 57.5px,#243d36 0 58.9px,#154422 0 60.3px,#18361d 0 61.7px,#223b39 0 63.1px,#16462b 0 64.5px,#112415 0 65.9px,#1f6532 0 67.3px,#191f1d 0 68.7px,#205c2d 0 70.1px,#1b6530 0 71.5px,#252333 0 72.9px,#1a4324 0 74.3px,#213e1e 0 75.7px,#183d24 0 77.1px,#1e5e2d 0 78.5px,#1e5232 0 79.9px,#166d38 0 81.3px,#1e7b3a 0 82.7px,#192624 0 84.1px,#184c30 0 85.5px,#176634 0 86.9px,#1e2e2c 0 88.3px,#255048 0 89.8px,#155c34 0 91.2px,#196a39 0 92.6px,#20572c 0 94.0px,#217038 0 95.4px,#1a6a38 0 96.8px,#186234 0 98.2px,#122f1b 0 99.6px,#17532c 0 101.0px,#164124 0 102.4px,#16552c 0 103.8px,#26612e 0 105.2px,#13311d 0 106.6px,#2b5d2b 0 108.0px,#2f572c 0 109.4px,#202e36 0 110.8px,#173d23 0 112.2px,#377f46 0 113.6px,#171b1f 0 115.0px,#27844c 0 116.4px,#164423 0 117.8px,#17502a 0 119.2px,#1b542d 0 120.6px,#2a492b 0 122.0px,#1e5e33 0 123.4px,#236844 0 124.8px,#174f2b 0 126.2px,#184727 0 127.6px,#143f22 0 129.0px,#164e2a 0 130.4px,#1e6934 0 131.8px,#18512f 0 133.2px,#277d39 0 134.6px,#2a7e4c 0 136.0px,#1b7b40 0 137.4px,#176836 0 138.8px,#197d40 0 140.2px,#163920 0 141.6px,#1d552a 0 143.0px,#16361e 0 144.4px,#18743e 0 145.8px,#282c3c 0 147.2px,#1b3d2b 0 148.6px,#2b203e 0 150.1px,#241434 0 151.5px,#2c1341 0 152.9px,#2f1543 0 154.3px,#194931 0 155.7px,#331a4f 0 157.1px,#132317 0 158.5px,#21803d 0 159.9px,#2e6f34 0 161.3px,#1e7538 0 162.7px,#143f23 0 164.1px,#19592f 0 165.5px,#19592d 0 166.9px,#21553c 0 168.3px,#20793a 0 169.7px,#13341d 0 171.1px,#112c1b 0 172.5px,#153d21 0 173.9px,#2f5337 0 175.3px,#277837 0 176.7px,#11271b 0 178.1px,#1b5431 0 179.5px,#196939 0 180.9px,#1c3d2c 0 182.3px,#17311b 0 183.7px,#264926 0 185.1px,#18351e 0 186.5px,#154d29 0 187.9px,#207d3d 0 189.3px,#301a47 0 190.7px,#2e1543 0 192.1px,#352651 0 193.5px,#301646 0 194.9px,#3e1b5f 0 196.3px,#302c45 0 197.7px,#2d2542 0 199.1px,#2a143e 0 200.5px,#231c31 0 201.9px,#2b163f 0 203.3px,#3a1b58 0 204.7px,#29123a 0 206.1px,#482568 0 207.5px,#3d3f59 0 209.0px,#51257a 0 210.4px,#6b3d98 0 211.8px,#49216c 0 213.2px,#603c8c 0 214.6px,#522d7e 0 216.0px,#552d7a 0 217.4px,#542b7d 0 218.8px,#24162f 0 220.2px,#28113a 0 221.6px,#241831 0 223.0px,#352349 0 224.4px,#241334 0 225.8px,#3e3562 0 227.2px,#3e3463 0 228.6px,#1c1b24 0 230.0px,#462067 0 231.4px,#1d1d27 0 232.8px,#203f34 0 234.2px,#33194b 0 235.6px,#33194d 0 237.0px,#3a1c57 0 238.4px)"></div><div style="left:529.08px;width:10.56px;background:linear-gradient(#164124 0 1.4px,#244f44 0 2.8px,#1f9948 0 4.2px,#11321e 0 5.6px,#266036 0 7.0px,#1f4b32 0 8.4px,#173e22 0 9.8px,#141216 0 11.2px,#18562b 0 12.6px,#1c2720 0 14.0px,#19371e 0 15.4px,#1c282e 0 16.8px,#225f2e 0 18.2px,#143c22 0 19.6px,#1f122c 0 21.0px,#27123a 0 22.4px,#41225e 0 23.8px,#3a1c53 0 25.2px,#40255a 0 26.6px,#242530 0 28.0px,#2b1340 0 29.4px,#1c2221 0 30.9px,#214524 0 32.3px,#213938 0 33.7px,#273a39 0 35.1px,#1d3428 0 36.5px,#1e2e2c 0 37.9px,#1a2c2b 0 39.3px,#101211 0 40.7px,#153f25 0 42.1px,#2b6342 0 43.5px,#1c3e20 0 44.9px,#144727 0 46.3px,#2e1a41 0 47.7px,#19522c 0 49.1px,#1d1d26 0 50.5px,#2a3e2a 0 51.9px,#143a22 0 53.3px,#27393d 0 54.7px,#160f1a 0 56.1px,#1b7d3e 0 57.5px,#196c34 0 58.9px,#163d21 0 60.3px,#15522e 0 61.7px,#1f3a32 0 63.1px,#123921 0 64.5px,#194d30 0 65.9px,#182f24 0 67.3px,#1a4325 0 68.7px,#166033 0 70.1px,#16502a 0 71.5px,#174425 0 72.9px,#1b6e38 0 74.3px,#30883e 0 75.7px,#247c3e 0 77.1px,#27813f 0 78.5px,#327b3b 0 79.9px,#164f2a 0 81.3px,#22833e 0 82.7px,#132a18 0 84.1px,#12331f 0 85.5px,#1b6835 0 86.9px,#1f6834 0 88.3px,#1d6f38 0 89.8px,#1a5f30 0 91.2px,#20562a 0 92.6px,#246a33 0 94.0px,#277d3b 0 95.4px,#24763a 0 96.8px,#21803d 0 98.2px,#1f7137 0 99.6px,#2c614b 0 101.0px,#222a35 0 102.4px,#164928 0 103.8px,#1c582d 0 105.2px,#235938 0 106.6px,#245c48 0 108.0px,#1c6935 0 109.4px,#3e555a 0 110.8px,#1a5a2f 0 112.2px,#266b32 0 113.6px,#325647 0 115.0px,#132e1c 0 116.4px,#223a36 0 117.8px,#1d4638 0 119.2px,#164f2c 0 120.6px,#144928 0 122.0px,#23473f 0 123.4px,#1d4232 0 124.8px,#19361d 0 126.2px,#1e5b2e 0 127.6px,#196e3a 0 129.0px,#174527 0 130.4px,#173126 0 131.8px,#253f3f 0 133.2px,#16341d 0 134.6px,#214032 0 136.0px,#1a4029 0 137.4px,#191c1d 0 138.8px,#1c5b2f 0 140.2px,#183a22 0 141.6px,#2b1440 0 143.0px,#1c3f1f 0 144.4px,#1b3529 0 145.8px,#362150 0 147.2px,#232234 0 148.6px,#472370 0 150.1px,#402963 0 151.5px,#52277b 0 152.9px,#502a73 0 154.3px,#582a87 0 155.7px,#47256b 0 157.1px,#381f4f 0 158.5px,#40265e 0 159.9px,#432966 0 161.3px,#4c2a6e 0 162.7px,#384159 0 164.1px,#150a1b 0 165.5px,#231730 0 166.9px,#4a3b75 0 168.3px,#1f8843 0 169.7px,#1b7a3d 0 171.1px,#1d7c3b 0 172.5px,#22893f 0 173.9px,#2a441f 0 175.3px,#2e8f42 0 176.7px,#176b37 0 178.1px,#163a20 0 179.5px,#4b2272 0 180.9px,#31164a 0 182.3px,#313854 0 183.7px,#2b193e 0 185.1px,#32174b 0 186.5px,#2a193e 0 187.9px,#35184f 0 189.3px,#211c2d 0 190.7px,#2e1545 0 192.1px,#2e1845 0 193.5px,#3b1b5b 0 194.9px,#35204b 0 196.3px,#1f0c2b 0 197.7px,#4e2a71 0 199.1px,#166936 0 200.5px,#1a4222 0 201.9px,#163d22 0 203.3px,#277954 0 204.7px,#223f23 0 206.1px,#2a183f 0 207.5px,#22662e 0 209.0px,#502974 0 210.4px,#55307f 0 211.8px,#5c2e8b 0 213.2px,#532a7c 0 214.6px,#3c1b59 0 216.0px,#502975 0 217.4px,#44226b 0 218.8px,#3d1b5a 0 220.2px,#5b3088 0 221.6px,#33184c 0 223.0px,#532b7d 0 224.4px,#4b2471 0 225.8px,#4e2c73 0 227.2px,#6a3b97 0 228.6px,#344258 0 230.0px,#280f39 0 231.4px,#3a1c59 0 232.8px,#21132d 0 234.2px,#342349 0 235.6px,#301545 0 237.0px,#214435 0 238.4px)"></div></div><svg width="685" height="535" viewBox="0 0 685 535" font-family="Liberation Sans, sans-serif" fill="#231f20" text-rendering="geometricPrecision">
<text x="-0.70" y="6.10" font-size="11.2" font-weight="bold">a</text>
<text x="145.00" y="6.20" font-size="7.8" text-anchor="middle" fill="#ea62a5">Cluster 1</text>
<text x="307.20" y="6.20" font-size="7.8" text-anchor="middle" fill="#f27a2c">Cluster 2</text>
<text x="464.80" y="6.20" font-size="7.8" text-anchor="middle" fill="#a04cb8">Cluster 3</text>
<text x="68.00" y="16.15" font-size="8" text-anchor="end">Mutational status</text>
<text x="68.00" y="23.44" font-size="8" text-anchor="end">Tumour stage</text>
<text x="68.00" y="30.73" font-size="8" text-anchor="end">Sex</text>
<text x="68.00" y="38.02" font-size="8" text-anchor="end">Age at diagnosis</text>
<text x="68.00" y="45.31" font-size="8" text-anchor="end">Ulceration status</text>
<text x="68.00" y="52.60" font-size="8" text-anchor="end">WGD</text>
<text x="68.00" y="59.89" font-size="8" text-anchor="end">TMB</text>
<text x="68.00" y="67.18" font-size="8" text-anchor="end">Tumour purity</text>
<g shape-rendering="crispEdges">
<rect x="70.80" y="10.10" width="10.61" height="6.4" fill="#bdbdbd"/>
<rect x="81.36" y="10.10" width="10.61" height="6.4" fill="#bdbdbd"/>
<rect x="91.92" y="10.10" width="10.61" height="6.4" fill="#80d1de"/>
<rect x="102.48" y="10.10" width="10.61" height="6.4" fill="#80d1de"/>
<rect x="113.04" y="10.10" width="10.61" height="6.4" fill="#f38db2"/>
<rect x="123.60" y="10.10" width="10.61" height="6.4" fill="#bdbdbd"/>
<rect x="134.16" y="10.10" width="10.61" height="6.4" fill="#cf8cc1"/>
<rect x="144.72" y="10.10" width="10.61" height="6.4" fill="#cf8cc1"/>
<rect x="155.28" y="10.10" width="10.61" height="6.4" fill="#bdbdbd"/>
<rect x="165.84" y="10.10" width="10.61" height="6.4" fill="#bdbdbd"/>
<rect x="176.40" y="10.10" width="10.61" height="6.4" fill="#bdbdbd"/>
<rect x="186.96" y="10.10" width="10.61" height="6.4" fill="#bdbdbd"/>
<rect x="197.52" y="10.10" width="10.61" height="6.4" fill="#bdbdbd"/>
<rect x="208.08" y="10.10" width="10.61" height="6.4" fill="#bdbdbd"/>
<rect x="220.60" y="10.10" width="10.61" height="6.4" fill="#80d1de"/>
<rect x="231.16" y="10.10" width="10.61" height="6.4" fill="#cf8cc1"/>
<rect x="241.72" y="10.10" width="10.61" height="6.4" fill="#fcef6b"/>
<rect x="252.28" y="10.10" width="10.61" height="6.4" fill="#f38db2"/>
<rect x="262.84" y="10.10" width="10.61" height="6.4" fill="#f38db2"/>
<rect x="273.40" y="10.10" width="10.61" height="6.4" fill="#bdbdbd"/>
<rect x="283.96" y="10.10" width="10.61" height="6.4" fill="#7ec680"/>
<rect x="294.52" y="10.10" width="10.61" height="6.4" fill="#80d1de"/>
<rect x="305.08" y="10.10" width="10.61" height="6.4" fill="#80d1de"/>
<rect x="315.64" y="10.10" width="10.61" height="6.4" fill="#bdbdbd"/>
<rect x="326.20" y="10.10" width="10.61" height="6.4" fill="#7ec680"/>
<rect x="336.76" y="10.10" width="10.61" height="6.4" fill="#bdbdbd"/>
<rect x="347.32" y="10.10" width="10.61" height="6.4" fill="#7ec680"/>
<rect x="357.88" y="10.10" width="10.61" height="6.4" fill="#f38db2"/>
<rect x="368.44" y="10.10" width="10.61" height="6.4" fill="#bdbdbd"/>
<rect x="379.00" y="10.10" width="10.61" height="6.4" fill="#bdbdbd"/>
<rect x="391.80" y="10.10" width="10.61" height="6.4" fill="#bdbdbd"/>
<rect x="402.36" y="10.10" width="10.61" height="6.4" fill="#7ec680"/>
<rect x="412.92" y="10.10" width="10.61" height="6.4" fill="#cf8cc1"/>
<rect x="423.48" y="10.10" width="10.61" height="6.4" fill="#f38db2"/>
<rect x="434.04" y="10.10" width="10.61" height="6.4" fill="#bdbdbd"/>
<rect x="444.60" y="10.10" width="10.61" height="6.4" fill="#bdbdbd"/>
<rect x="455.16" y="10.10" width="10.61" height="6.4" fill="#cf8cc1"/>
<rect x="465.72" y="10.10" width="10.61" height="6.4" fill="#cf8cc1"/>
<rect x="476.28" y="10.10" width="10.61" height="6.4" fill="#bdbdbd"/>
<rect x="486.84" y="10.10" width="10.61" height="6.4" fill="#cf8cc1"/>
<rect x="497.40" y="10.10" width="10.61" height="6.4" fill="#bdbdbd"/>
<rect x="507.96" y="10.10" width="10.61" height="6.4" fill="#bdbdbd"/>
<rect x="518.52" y="10.10" width="10.61" height="6.4" fill="#bdbdbd"/>
<rect x="529.08" y="10.10" width="10.61" height="6.4" fill="#bdbdbd"/>
<rect x="70.80" y="17.39" width="10.61" height="6.4" fill="#5c6bb5"/>
<rect x="81.36" y="17.39" width="10.61" height="6.4" fill="#92c5ed"/>
<rect x="91.92" y="17.39" width="10.61" height="6.4" fill="#c3dff5"/>
<rect x="102.48" y="17.39" width="10.61" height="6.4" fill="#5c6bb5"/>
<rect x="113.04" y="17.39" width="10.61" height="6.4" fill="#c3dff5"/>
<rect x="123.60" y="17.39" width="10.61" height="6.4" fill="#92c5ed"/>
<rect x="134.16" y="17.39" width="10.61" height="6.4" fill="#dcdcdc"/>
<rect x="144.72" y="17.39" width="10.61" height="6.4" fill="#c3dff5"/>
<rect x="155.28" y="17.39" width="10.61" height="6.4" fill="#5c6bb5"/>
<rect x="165.84" y="17.39" width="10.61" height="6.4" fill="#5c6bb5"/>
<rect x="176.40" y="17.39" width="10.61" height="6.4" fill="#5c6bb5"/>
<rect x="186.96" y="17.39" width="10.61" height="6.4" fill="#92c5ed"/>
<rect x="197.52" y="17.39" width="10.61" height="6.4" fill="#5c6bb5"/>
<rect x="208.08" y="17.39" width="10.61" height="6.4" fill="#5c6bb5"/>
<rect x="220.60" y="17.39" width="10.61" height="6.4" fill="#92c5ed"/>
<rect x="231.16" y="17.39" width="10.61" height="6.4" fill="#5c6bb5"/>
<rect x="241.72" y="17.39" width="10.61" height="6.4" fill="#5c6bb5"/>
<rect x="252.28" y="17.39" width="10.61" height="6.4" fill="#92c5ed"/>
<rect x="262.84" y="17.39" width="10.61" height="6.4" fill="#c3dff5"/>
<rect x="273.40" y="17.39" width="10.61" height="6.4" fill="#4b3698"/>
<rect x="283.96" y="17.39" width="10.61" height="6.4" fill="#4b3698"/>
<rect x="294.52" y="17.39" width="10.61" height="6.4" fill="#92c5ed"/>
<rect x="305.08" y="17.39" width="10.61" height="6.4" fill="#5c6bb5"/>
<rect x="315.64" y="17.39" width="10.61" height="6.4" fill="#92c5ed"/>
<rect x="326.20" y="17.39" width="10.61" height="6.4" fill="#5c6bb5"/>
<rect x="336.76" y="17.39" width="10.61" height="6.4" fill="#5c6bb5"/>
<rect x="347.32" y="17.39" width="10.61" height="6.4" fill="#5c6bb5"/>
<rect x="357.88" y="17.39" width="10.61" height="6.4" fill="#5c6bb5"/>
<rect x="368.44" y="17.39" width="10.61" height="6.4" fill="#5c6bb5"/>
<rect x="379.00" y="17.39" width="10.61" height="6.4" fill="#5c6bb5"/>
<rect x="391.80" y="17.39" width="10.61" height="6.4" fill="#c3dff5"/>
<rect x="402.36" y="17.39" width="10.61" height="6.4" fill="#5c6bb5"/>
<rect x="412.92" y="17.39" width="10.61" height="6.4" fill="#5c6bb5"/>
<rect x="423.48" y="17.39" width="10.61" height="6.4" fill="#92c5ed"/>
<rect x="434.04" y="17.39" width="10.61" height="6.4" fill="#5c6bb5"/>
<rect x="444.60" y="17.39" width="10.61" height="6.4" fill="#c3dff5"/>
<rect x="455.16" y="17.39" width="10.61" height="6.4" fill="#92c5ed"/>
<rect x="465.72" y="17.39" width="10.61" height="6.4" fill="#92c5ed"/>
<rect x="476.28" y="17.39" width="10.61" height="6.4" fill="#5c6bb5"/>
<rect x="486.84" y="17.39" width="10.61" height="6.4" fill="#5c6bb5"/>
<rect x="497.40" y="17.39" width="10.61" height="6.4" fill="#5c6bb5"/>
<rect x="507.96" y="17.39" width="10.61" height="6.4" fill="#92c5ed"/>
<rect x="518.52" y="17.39" width="10.61" height="6.4" fill="#5c6bb5"/>
<rect x="529.08" y="17.39" width="10.61" height="6.4" fill="#92c5ed"/>
<rect x="70.80" y="24.68" width="10.61" height="6.4" fill="#b91e26"/>
<rect x="81.36" y="24.68" width="10.61" height="6.4" fill="#46b4a6"/>
<rect x="91.92" y="24.68" width="10.61" height="6.4" fill="#46b4a6"/>
<rect x="102.48" y="24.68" width="10.61" height="6.4" fill="#46b4a6"/>
<rect x="113.04" y="24.68" width="10.61" height="6.4" fill="#46b4a6"/>
<rect x="123.60" y="24.68" width="10.61" height="6.4" fill="#46b4a6"/>
<rect x="134.16" y="24.68" width="10.61" height="6.4" fill="#46b4a6"/>
<rect x="144.72" y="24.68" width="10.61" height="6.4" fill="#46b4a6"/>
<rect x="155.28" y="24.68" width="10.61" height="6.4" fill="#46b4a6"/>
<rect x="165.84" y="24.68" width="10.61" height="6.4" fill="#b91e26"/>
<rect x="176.40" y="24.68" width="10.61" height="6.4" fill="#b91e26"/>
<rect x="186.96" y="24.68" width="10.61" height="6.4" fill="#b91e26"/>
<rect x="197.52" y="24.68" width="10.61" height="6.4" fill="#b91e26"/>
<rect x="208.08" y="24.68" width="10.61" height="6.4" fill="#b91e26"/>
<rect x="220.60" y="24.68" width="10.61" height="6.4" fill="#46b4a6"/>
<rect x="231.16" y="24.68" width="10.61" height="6.4" fill="#46b4a6"/>
<rect x="241.72" y="24.68" width="10.61" height="6.4" fill="#46b4a6"/>
<rect x="252.28" y="24.68" width="10.61" height="6.4" fill="#46b4a6"/>
<rect x="262.84" y="24.68" width="10.61" height="6.4" fill="#46b4a6"/>
<rect x="273.40" y="24.68" width="10.61" height="6.4" fill="#46b4a6"/>
<rect x="283.96" y="24.68" width="10.61" height="6.4" fill="#b91e26"/>
<rect x="294.52" y="24.68" width="10.61" height="6.4" fill="#46b4a6"/>
<rect x="305.08" y="24.68" width="10.61" height="6.4" fill="#b91e26"/>
<rect x="315.64" y="24.68" width="10.61" height="6.4" fill="#b91e26"/>
<rect x="326.20" y="24.68" width="10.61" height="6.4" fill="#46b4a6"/>
<rect x="336.76" y="24.68" width="10.61" height="6.4" fill="#46b4a6"/>
<rect x="347.32" y="24.68" width="10.61" height="6.4" fill="#b91e26"/>
<rect x="357.88" y="24.68" width="10.61" height="6.4" fill="#b91e26"/>
<rect x="368.44" y="24.68" width="10.61" height="6.4" fill="#b91e26"/>
<rect x="379.00" y="24.68" width="10.61" height="6.4" fill="#b91e26"/>
<rect x="391.80" y="24.68" width="10.61" height="6.4" fill="#b91e26"/>
<rect x="402.36" y="24.68" width="10.61" height="6.4" fill="#b91e26"/>
<rect x="412.92" y="24.68" width="10.61" height="6.4" fill="#46b4a6"/>
<rect x="423.48" y="24.68" width="10.61" height="6.4" fill="#46b4a6"/>
<rect x="434.04" y="24.68" width="10.61" height="6.4" fill="#b91e26"/>
<rect x="444.60" y="24.68" width="10.61" height="6.4" fill="#46b4a6"/>
<rect x="455.16" y="24.68" width="10.61" height="6.4" fill="#46b4a6"/>
<rect x="465.72" y="24.68" width="10.61" height="6.4" fill="#b91e26"/>
<rect x="476.28" y="24.68" width="10.61" height="6.4" fill="#46b4a6"/>
<rect x="486.84" y="24.68" width="10.61" height="6.4" fill="#46b4a6"/>
<rect x="497.40" y="24.68" width="10.61" height="6.4" fill="#46b4a6"/>
<rect x="507.96" y="24.68" width="10.61" height="6.4" fill="#b91e26"/>
<rect x="518.52" y="24.68" width="10.61" height="6.4" fill="#b91e26"/>
<rect x="529.08" y="24.68" width="10.61" height="6.4" fill="#46b4a6"/>
<rect x="70.80" y="31.97" width="10.61" height="6.4" fill="#fdc92d"/>
<rect x="81.36" y="31.97" width="10.61" height="6.4" fill="#f5841f"/>
<rect x="91.92" y="31.97" width="10.61" height="6.4" fill="#f9e843"/>
<rect x="102.48" y="31.97" width="10.61" height="6.4" fill="#f9ef85"/>
<rect x="113.04" y="31.97" width="10.61" height="6.4" fill="#f9ef85"/>
<rect x="123.60" y="31.97" width="10.61" height="6.4" fill="#fdf7c5"/>
<rect x="134.16" y="31.97" width="10.61" height="6.4" fill="#f9e843"/>
<rect x="144.72" y="31.97" width="10.61" height="6.4" fill="#f9e843"/>
<rect x="155.28" y="31.97" width="10.61" height="6.4" fill="#f9ec6a"/>
<rect x="165.84" y="31.97" width="10.61" height="6.4" fill="#f9ec6a"/>
<rect x="176.40" y="31.97" width="10.61" height="6.4" fill="#f9ec6a"/>
<rect x="186.96" y="31.97" width="10.61" height="6.4" fill="#f9ef85"/>
<rect x="197.52" y="31.97" width="10.61" height="6.4" fill="#f9e843"/>
<rect x="208.08" y="31.97" width="10.61" height="6.4" fill="#fdd02f"/>
<rect x="220.60" y="31.97" width="10.61" height="6.4" fill="#f9e95a"/>
<rect x="231.16" y="31.97" width="10.61" height="6.4" fill="#f9e95a"/>
<rect x="241.72" y="31.97" width="10.61" height="6.4" fill="#f7921e"/>
<rect x="252.28" y="31.97" width="10.61" height="6.4" fill="#ee3a24"/>
<rect x="262.84" y="31.97" width="10.61" height="6.4" fill="#fde02a"/>
<rect x="273.40" y="31.97" width="10.61" height="6.4" fill="#fbb02a"/>
<rect x="283.96" y="31.97" width="10.61" height="6.4" fill="#f26b21"/>
<rect x="294.52" y="31.97" width="10.61" height="6.4" fill="#f7921e"/>
<rect x="305.08" y="31.97" width="10.61" height="6.4" fill="#fde02a"/>
<rect x="315.64" y="31.97" width="10.61" height="6.4" fill="#fdc92d"/>
<rect x="326.20" y="31.97" width="10.61" height="6.4" fill="#f9e95a"/>
<rect x="336.76" y="31.97" width="10.61" height="6.4" fill="#f9ec7a"/>
<rect x="347.32" y="31.97" width="10.61" height="6.4" fill="#fcf3a0"/>
<rect x="357.88" y="31.97" width="10.61" height="6.4" fill="#f26b21"/>
<rect x="368.44" y="31.97" width="10.61" height="6.4" fill="#fdd22f"/>
<rect x="379.00" y="31.97" width="10.61" height="6.4" fill="#fde830"/>
<rect x="391.80" y="31.97" width="10.61" height="6.4" fill="#f9e95a"/>
<rect x="402.36" y="31.97" width="10.61" height="6.4" fill="#fde02a"/>
<rect x="412.92" y="31.97" width="10.61" height="6.4" fill="#ffffff"/>
<rect x="423.48" y="31.97" width="10.61" height="6.4" fill="#fdd22f"/>
<rect x="434.04" y="31.97" width="10.61" height="6.4" fill="#fbb02a"/>
<rect x="444.60" y="31.97" width="10.61" height="6.4" fill="#fbef8a"/>
<rect x="455.16" y="31.97" width="10.61" height="6.4" fill="#fbef8a"/>
<rect x="465.72" y="31.97" width="10.61" height="6.4" fill="#f9e95a"/>
<rect x="476.28" y="31.97" width="10.61" height="6.4" fill="#f7921e"/>
<rect x="486.84" y="31.97" width="10.61" height="6.4" fill="#fcf6c0"/>
<rect x="497.40" y="31.97" width="10.61" height="6.4" fill="#fbb02a"/>
<rect x="507.96" y="31.97" width="10.61" height="6.4" fill="#f9ec7a"/>
<rect x="518.52" y="31.97" width="10.61" height="6.4" fill="#fdc32d"/>
<rect x="529.08" y="31.97" width="10.61" height="6.4" fill="#ec2027"/>
<rect x="70.80" y="39.26" width="10.61" height="6.4" fill="#231f20"/>
<rect x="81.36" y="39.26" width="10.61" height="6.4" fill="#3f88cb"/>
<rect x="91.92" y="39.26" width="10.61" height="6.4" fill="#3f88cb"/>
<rect x="102.48" y="39.26" width="10.61" height="6.4" fill="#d42b2c"/>
<rect x="113.04" y="39.26" width="10.61" height="6.4" fill="#3f88cb"/>
<rect x="123.60" y="39.26" width="10.61" height="6.4" fill="#d42b2c"/>
<rect x="134.16" y="39.26" width="10.61" height="6.4" fill="#3f88cb"/>
<rect x="144.72" y="39.26" width="10.61" height="6.4" fill="#3f88cb"/>
<rect x="155.28" y="39.26" width="10.61" height="6.4" fill="#d42b2c"/>
<rect x="165.84" y="39.26" width="10.61" height="6.4" fill="#d42b2c"/>
<rect x="176.40" y="39.26" width="10.61" height="6.4" fill="#d42b2c"/>
<rect x="186.96" y="39.26" width="10.61" height="6.4" fill="#3f88cb"/>
<rect x="197.52" y="39.26" width="10.61" height="6.4" fill="#d42b2c"/>
<rect x="208.08" y="39.26" width="10.61" height="6.4" fill="#d42b2c"/>
<rect x="220.60" y="39.26" width="10.61" height="6.4" fill="#d42b2c"/>
<rect x="231.16" y="39.26" width="10.61" height="6.4" fill="#d42b2c"/>
<rect x="241.72" y="39.26" width="10.61" height="6.4" fill="#d42b2c"/>
<rect x="252.28" y="39.26" width="10.61" height="6.4" fill="#d42b2c"/>
<rect x="262.84" y="39.26" width="10.61" height="6.4" fill="#3f88cb"/>
<rect x="273.40" y="39.26" width="10.61" height="6.4" fill="#d42b2c"/>
<rect x="283.96" y="39.26" width="10.61" height="6.4" fill="#d42b2c"/>
<rect x="294.52" y="39.26" width="10.61" height="6.4" fill="#d42b2c"/>
<rect x="305.08" y="39.26" width="10.61" height="6.4" fill="#d42b2c"/>
<rect x="315.64" y="39.26" width="10.61" height="6.4" fill="#d42b2c"/>
<rect x="326.20" y="39.26" width="10.61" height="6.4" fill="#d42b2c"/>
<rect x="336.76" y="39.26" width="10.61" height="6.4" fill="#d42b2c"/>
<rect x="347.32" y="39.26" width="10.61" height="6.4" fill="#d42b2c"/>
<rect x="357.88" y="39.26" width="10.61" height="6.4" fill="#d42b2c"/>
<rect x="368.44" y="39.26" width="10.61" height="6.4" fill="#d42b2c"/>
<rect x="379.00" y="39.26" width="10.61" height="6.4" fill="#d42b2c"/>
<rect x="391.80" y="39.26" width="10.61" height="6.4" fill="#3f88cb"/>
<rect x="402.36" y="39.26" width="10.61" height="6.4" fill="#3f88cb"/>
<rect x="412.92" y="39.26" width="10.61" height="6.4" fill="#3f88cb"/>
<rect x="423.48" y="39.26" width="10.61" height="6.4" fill="#3f88cb"/>
<rect x="434.04" y="39.26" width="10.61" height="6.4" fill="#d42b2c"/>
<rect x="444.60" y="39.26" width="10.61" height="6.4" fill="#3f88cb"/>
<rect x="455.16" y="39.26" width="10.61" height="6.4" fill="#d42b2c"/>
<rect x="465.72" y="39.26" width="10.61" height="6.4" fill="#d42b2c"/>
<rect x="476.28" y="39.26" width="10.61" height="6.4" fill="#d42b2c"/>
<rect x="486.84" y="39.26" width="10.61" height="6.4" fill="#3f88cb"/>
<rect x="497.40" y="39.26" width="10.61" height="6.4" fill="#d42b2c"/>
<rect x="507.96" y="39.26" width="10.61" height="6.4" fill="#d42b2c"/>
<rect x="518.52" y="39.26" width="10.61" height="6.4" fill="#d42b2c"/>
<rect x="529.08" y="39.26" width="10.61" height="6.4" fill="#d42b2c"/>
<rect x="70.80" y="46.55" width="10.61" height="6.4" fill="#4dbcec"/>
<rect x="81.36" y="46.55" width="10.61" height="6.4" fill="#4dbcec"/>
<rect x="91.92" y="46.55" width="10.61" height="6.4" fill="#231f20"/>
<rect x="102.48" y="46.55" width="10.61" height="6.4" fill="#231f20"/>
<rect x="113.04" y="46.55" width="10.61" height="6.4" fill="#231f20"/>
<rect x="123.60" y="46.55" width="10.61" height="6.4" fill="#231f20"/>
<rect x="134.16" y="46.55" width="10.61" height="6.4" fill="#231f20"/>
<rect x="144.72" y="46.55" width="10.61" height="6.4" fill="#231f20"/>
<rect x="155.28" y="46.55" width="10.61" height="6.4" fill="#4dbcec"/>
<rect x="165.84" y="46.55" width="10.61" height="6.4" fill="#4dbcec"/>
<rect x="176.40" y="46.55" width="10.61" height="6.4" fill="#231f20"/>
<rect x="186.96" y="46.55" width="10.61" height="6.4" fill="#231f20"/>
<rect x="197.52" y="46.55" width="10.61" height="6.4" fill="#231f20"/>
<rect x="208.08" y="46.55" width="10.61" height="6.4" fill="#231f20"/>
<rect x="220.60" y="46.55" width="10.61" height="6.4" fill="#231f20"/>
<rect x="231.16" y="46.55" width="10.61" height="6.4" fill="#4dbcec"/>
<rect x="241.72" y="46.55" width="10.61" height="6.4" fill="#231f20"/>
<rect x="252.28" y="46.55" width="10.61" height="6.4" fill="#871a56"/>
<rect x="262.84" y="46.55" width="10.61" height="6.4" fill="#4dbcec"/>
<rect x="273.40" y="46.55" width="10.61" height="6.4" fill="#871a56"/>
<rect x="283.96" y="46.55" width="10.61" height="6.4" fill="#4dbcec"/>
<rect x="294.52" y="46.55" width="10.61" height="6.4" fill="#231f20"/>
<rect x="305.08" y="46.55" width="10.61" height="6.4" fill="#231f20"/>
<rect x="315.64" y="46.55" width="10.61" height="6.4" fill="#231f20"/>
<rect x="326.20" y="46.55" width="10.61" height="6.4" fill="#231f20"/>
<rect x="336.76" y="46.55" width="10.61" height="6.4" fill="#4dbcec"/>
<rect x="347.32" y="46.55" width="10.61" height="6.4" fill="#4dbcec"/>
<rect x="357.88" y="46.55" width="10.61" height="6.4" fill="#4dbcec"/>
<rect x="368.44" y="46.55" width="10.61" height="6.4" fill="#231f20"/>
<rect x="379.00" y="46.55" width="10.61" height="6.4" fill="#4dbcec"/>
<rect x="391.80" y="46.55" width="10.61" height="6.4" fill="#4dbcec"/>
<rect x="402.36" y="46.55" width="10.61" height="6.4" fill="#231f20"/>
<rect x="412.92" y="46.55" width="10.61" height="6.4" fill="#4dbcec"/>
<rect x="423.48" y="46.55" width="10.61" height="6.4" fill="#4dbcec"/>
<rect x="434.04" y="46.55" width="10.61" height="6.4" fill="#231f20"/>
<rect x="444.60" y="46.55" width="10.61" height="6.4" fill="#231f20"/>
<rect x="455.16" y="46.55" width="10.61" height="6.4" fill="#871a56"/>
<rect x="465.72" y="46.55" width="10.61" height="6.4" fill="#4dbcec"/>
<rect x="476.28" y="46.55" width="10.61" height="6.4" fill="#4dbcec"/>
<rect x="486.84" y="46.55" width="10.61" height="6.4" fill="#871a56"/>
<rect x="497.40" y="46.55" width="10.61" height="6.4" fill="#231f20"/>
<rect x="507.96" y="46.55" width="10.61" height="6.4" fill="#4dbcec"/>
<rect x="518.52" y="46.55" width="10.61" height="6.4" fill="#231f20"/>
<rect x="529.08" y="46.55" width="10.61" height="6.4" fill="#4dbcec"/>
<rect x="70.80" y="53.84" width="10.61" height="6.4" fill="#fffdf0"/>
<rect x="81.36" y="53.84" width="10.61" height="6.4" fill="#ffffff"/>
<rect x="91.92" y="53.84" width="10.61" height="6.4" fill="#fcf6c0"/>
<rect x="102.48" y="53.84" width="10.61" height="6.4" fill="#fcf6c0"/>
<rect x="113.04" y="53.84" width="10.61" height="6.4" fill="#fefbe0"/>
<rect x="123.60" y="53.84" width="10.61" height="6.4" fill="#f9e843"/>
<rect x="134.16" y="53.84" width="10.61" height="6.4" fill="#fcf6c8"/>
<rect x="144.72" y="53.84" width="10.61" height="6.4" fill="#f9a21f"/>
<rect x="155.28" y="53.84" width="10.61" height="6.4" fill="#fefbe6"/>
<rect x="165.84" y="53.84" width="10.61" height="6.4" fill="#fcc52f"/>
<rect x="176.40" y="53.84" width="10.61" height="6.4" fill="#fcf3a8"/>
<rect x="186.96" y="53.84" width="10.61" height="6.4" fill="#f9e95a"/>
<rect x="197.52" y="53.84" width="10.61" height="6.4" fill="#fbef9a"/>
<rect x="208.08" y="53.84" width="10.61" height="6.4" fill="#fcf3a8"/>
<rect x="220.60" y="53.84" width="10.61" height="6.4" fill="#fcb32a"/>
<rect x="231.16" y="53.84" width="10.61" height="6.4" fill="#ec2027"/>
<rect x="241.72" y="53.84" width="10.61" height="6.4" fill="#f47b20"/>
<rect x="252.28" y="53.84" width="10.61" height="6.4" fill="#fdd22f"/>
<rect x="262.84" y="53.84" width="10.61" height="6.4" fill="#fbef8a"/>
<rect x="273.40" y="53.84" width="10.61" height="6.4" fill="#fdc32d"/>
<rect x="283.96" y="53.84" width="10.61" height="6.4" fill="#f9e843"/>
<rect x="294.52" y="53.84" width="10.61" height="6.4" fill="#f9e843"/>
<rect x="305.08" y="53.84" width="10.61" height="6.4" fill="#fde03a"/>
<rect x="315.64" y="53.84" width="10.61" height="6.4" fill="#f7921e"/>
<rect x="326.20" y="53.84" width="10.61" height="6.4" fill="#f9e843"/>
<rect x="336.76" y="53.84" width="10.61" height="6.4" fill="#f15a22"/>
<rect x="347.32" y="53.84" width="10.61" height="6.4" fill="#f9ec6a"/>
<rect x="357.88" y="53.84" width="10.61" height="6.4" fill="#f7921e"/>
<rect x="368.44" y="53.84" width="10.61" height="6.4" fill="#fdc92d"/>
<rect x="379.00" y="53.84" width="10.61" height="6.4" fill="#fffdf0"/>
<rect x="391.80" y="53.84" width="10.61" height="6.4" fill="#fdf8dc"/>
<rect x="402.36" y="53.84" width="10.61" height="6.4" fill="#fde02a"/>
<rect x="412.92" y="53.84" width="10.61" height="6.4" fill="#f9e95a"/>
<rect x="423.48" y="53.84" width="10.61" height="6.4" fill="#fcf3a0"/>
<rect x="434.04" y="53.84" width="10.61" height="6.4" fill="#fdc92d"/>
<rect x="444.60" y="53.84" width="10.61" height="6.4" fill="#f47b20"/>
<rect x="455.16" y="53.84" width="10.61" height="6.4" fill="#fbef8a"/>
<rect x="465.72" y="53.84" width="10.61" height="6.4" fill="#f9ec6a"/>
<rect x="476.28" y="53.84" width="10.61" height="6.4" fill="#f15a22"/>
<rect x="486.84" y="53.84" width="10.61" height="6.4" fill="#fbef8a"/>
<rect x="497.40" y="53.84" width="10.61" height="6.4" fill="#f26b21"/>
<rect x="507.96" y="53.84" width="10.61" height="6.4" fill="#fdd22f"/>
<rect x="518.52" y="53.84" width="10.61" height="6.4" fill="#fdc32d"/>
<rect x="529.08" y="53.84" width="10.61" height="6.4" fill="#f9ec6a"/>
<rect x="70.80" y="61.13" width="10.61" height="6.4" fill="#fbe43a"/>
<rect x="81.36" y="61.13" width="10.61" height="6.4" fill="#ea1c24"/>
<rect x="91.92" y="61.13" width="10.61" height="6.4" fill="#231f20"/>
<rect x="102.48" y="61.13" width="10.61" height="6.4" fill="#231f20"/>
<rect x="113.04" y="61.13" width="10.61" height="6.4" fill="#231f20"/>
<rect x="123.60" y="61.13" width="10.61" height="6.4" fill="#231f20"/>
<rect x="134.16" y="61.13" width="10.61" height="6.4" fill="#231f20"/>
<rect x="144.72" y="61.13" width="10.61" height="6.4" fill="#231f20"/>
<rect x="155.28" y="61.13" width="10.61" height="6.4" fill="#fbe96a"/>
<rect x="165.84" y="61.13" width="10.61" height="6.4" fill="#f9a21f"/>
<rect x="176.40" y="61.13" width="10.61" height="6.4" fill="#231f20"/>
<rect x="186.96" y="61.13" width="10.61" height="6.4" fill="#231f20"/>
<rect x="197.52" y="61.13" width="10.61" height="6.4" fill="#231f20"/>
<rect x="208.08" y="61.13" width="10.61" height="6.4" fill="#231f20"/>
<rect x="220.60" y="61.13" width="10.61" height="6.4" fill="#231f20"/>
<rect x="231.16" y="61.13" width="10.61" height="6.4" fill="#f9a21f"/>
<rect x="241.72" y="61.13" width="10.61" height="6.4" fill="#231f20"/>
<rect x="252.28" y="61.13" width="10.61" height="6.4" fill="#fdd22f"/>
<rect x="262.84" y="61.13" width="10.61" height="6.4" fill="#fdd22f"/>
<rect x="273.40" y="61.13" width="10.61" height="6.4" fill="#f47b20"/>
<rect x="283.96" y="61.13" width="10.61" height="6.4" fill="#fde03a"/>
<rect x="294.52" y="61.13" width="10.61" height="6.4" fill="#231f20"/>
<rect x="305.08" y="61.13" width="10.61" height="6.4" fill="#231f20"/>
<rect x="315.64" y="61.13" width="10.61" height="6.4" fill="#231f20"/>
<rect x="326.20" y="61.13" width="10.61" height="6.4" fill="#231f20"/>
<rect x="336.76" y="61.13" width="10.61" height="6.4" fill="#fdc92d"/>
<rect x="347.32" y="61.13" width="10.61" height="6.4" fill="#f7841f"/>
<rect x="357.88" y="61.13" width="10.61" height="6.4" fill="#ee3a24"/>
<rect x="368.44" y="61.13" width="10.61" height="6.4" fill="#231f20"/>
<rect x="379.00" y="61.13" width="10.61" height="6.4" fill="#fbb02a"/>
<rect x="391.80" y="61.13" width="10.61" height="6.4" fill="#ec2027"/>
<rect x="402.36" y="61.13" width="10.61" height="6.4" fill="#231f20"/>
<rect x="412.92" y="61.13" width="10.61" height="6.4" fill="#f7841f"/>
<rect x="423.48" y="61.13" width="10.61" height="6.4" fill="#fdd22f"/>
<rect x="434.04" y="61.13" width="10.61" height="6.4" fill="#231f20"/>
<rect x="444.60" y="61.13" width="10.61" height="6.4" fill="#231f20"/>
<rect x="455.16" y="61.13" width="10.61" height="6.4" fill="#f9e95a"/>
<rect x="465.72" y="61.13" width="10.61" height="6.4" fill="#fde02a"/>
<rect x="476.28" y="61.13" width="10.61" height="6.4" fill="#ee3a24"/>
<rect x="486.84" y="61.13" width="10.61" height="6.4" fill="#fdc32d"/>
<rect x="497.40" y="61.13" width="10.61" height="6.4" fill="#231f20"/>
<rect x="507.96" y="61.13" width="10.61" height="6.4" fill="#f7921e"/>
<rect x="518.52" y="61.13" width="10.61" height="6.4" fill="#231f20"/>
<rect x="529.08" y="61.13" width="10.61" height="6.4" fill="#fde830"/>
</g>
<g fill="none" stroke="#1a1a1a" stroke-width="0.8">
<path d="M539.8 97.30H541.6C543.6 97.30 543.6 91.70 545.6 91.70H548"/>
<path d="M539.8 103.90H541.6C543.6 103.90 543.6 98.70 545.6 98.70H548"/>
<path d="M539.8 106.80H541.6C543.6 106.80 543.6 103.60 545.6 103.60H548"/>
<path d="M539.8 114.90H541.6C543.6 114.90 543.6 110.70 545.6 110.70H548"/>
<path d="M539.8 115.30H541.6C543.6 115.30 543.6 116.80 545.6 116.80H548"/>
<path d="M539.8 115.80H541.6C543.6 115.80 543.6 125.20 545.6 125.20H548"/>
<path d="M539.8 216.10H541.6C543.6 216.10 543.6 210.90 545.6 210.90H548"/>
<path d="M539.8 221.10H541.6C543.6 221.10 543.6 218.00 545.6 218.00H548"/>
<path d="M539.8 233.70H541.6C543.6 233.70 543.6 224.80 545.6 224.80H548"/>
<path d="M539.8 237.20H541.6C543.6 237.20 543.6 233.00 545.6 233.00H548"/>
<path d="M539.8 239.00H541.6C543.6 239.00 543.6 240.20 545.6 240.20H548"/>
<path d="M539.8 255.30H541.6C543.6 255.30 543.6 248.80 545.6 248.80H548"/>
<path d="M539.8 268.50H541.6C543.6 268.50 543.6 266.60 545.6 266.60H548"/>
<path d="M539.8 276.00H541.6C543.6 276.00 543.6 273.80 545.6 273.80H548"/>
<path d="M539.8 282.40H541.6C543.6 282.40 543.6 279.40 545.6 279.40H548"/>
<path d="M539.8 288.80H541.6C543.6 288.80 543.6 286.40 545.6 286.40H548"/>
<path d="M539.8 294.70H541.6C543.6 294.70 543.6 292.90 545.6 292.90H548"/>
<path d="M539.8 295.30H541.6C543.6 295.30 543.6 300.80 545.6 300.80H548"/>
</g>
<text x="549.60" y="94.50" font-size="7.8" fill="#e95b9f" font-style="italic">KRT1</text>
<text x="549.60" y="101.50" font-size="7.8" fill="#e95b9f" font-style="italic">KRT9</text>
<text x="549.60" y="106.40" font-size="7.8" fill="#e95b9f" font-style="italic">PERP</text>
<text x="549.60" y="113.50" font-size="7.8" fill="#e95b9f" font-style="italic">DUOX1</text>
<text x="549.60" y="119.60" font-size="7.8" fill="#e95b9f" font-style="italic">FOXN1</text>
<text x="549.60" y="128.00" font-size="7.8" fill="#e95b9f" font-style="italic">CRB3</text>
<text x="549.60" y="213.70" font-size="7.8" fill="#f47a32" font-style="italic">AURKA</text>
<text x="549.60" y="220.80" font-size="7.8" fill="#f47a32" font-style="italic">PTPRH</text>
<text x="549.60" y="227.60" font-size="7.8" fill="#f47a32" font-style="italic">FABP7</text>
<text x="549.60" y="235.80" font-size="7.8" fill="#f47a32" font-style="italic">GPR3</text>
<text x="549.60" y="243.00" font-size="7.8" fill="#f47a32" font-style="italic">FAM81A</text>
<text x="549.60" y="251.60" font-size="7.8" fill="#f47a32" font-style="italic">IGHV1&#8722;24</text>
<text x="549.60" y="269.40" font-size="7.8" fill="#9b45b6" font-style="italic">CCDC86</text>
<text x="549.60" y="276.60" font-size="7.8" fill="#9b45b6" font-style="italic">FGFBP2</text>
<text x="549.60" y="282.20" font-size="7.8" fill="#9b45b6" font-style="italic">VAX2</text>
<text x="549.60" y="289.20" font-size="7.8" fill="#9b45b6" font-style="italic">RNU4&#8722;1</text>
<text x="549.60" y="295.70" font-size="7.8" fill="#9b45b6" font-style="italic">SEC14L4</text>
<text x="549.60" y="303.60" font-size="7.8" fill="#9b45b6" font-style="italic">GPR50</text>
<defs>
<linearGradient id="zg" x1="0" y1="0" x2="0" y2="1"><stop offset="0" stop-color="#7b56a6"/><stop offset="0.19" stop-color="#5f2a8e"/><stop offset="0.28" stop-color="#4a2878"/><stop offset="0.38" stop-color="#2c0f40"/><stop offset="0.45" stop-color="#100810"/><stop offset="0.5" stop-color="#080808"/><stop offset="0.59" stop-color="#1e3a1e"/><stop offset="0.69" stop-color="#17703e"/><stop offset="0.79" stop-color="#1db050"/><stop offset="0.89" stop-color="#4cb84a"/><stop offset="1" stop-color="#72c045"/></linearGradient>
<linearGradient id="hg" x1="0" y1="0" x2="1" y2="0"><stop offset="0" stop-color="#fffff4"/><stop offset="0.15" stop-color="#fdf6c0"/><stop offset="0.38" stop-color="#fbe83a"/><stop offset="0.55" stop-color="#fbc02a"/><stop offset="0.7" stop-color="#f47b20"/><stop offset="0.85" stop-color="#eb2a26"/><stop offset="1" stop-color="#e61e28"/></linearGradient>
</defs>
<rect x="7.8" y="135.0" width="12.6" height="117.6" fill="url(#zg)" stroke="#9a9a9a" stroke-width="0.4"/>
<text x="4.10" y="128.50" font-size="8" font-style="italic">Z</text>
<text x="9.40" y="128.50" font-size="8">-score</text>
<text x="24.50" y="140.85" font-size="8">2</text>
<text x="24.50" y="168.55" font-size="8">1</text>
<text x="24.50" y="196.55" font-size="8">0</text>
<text x="24.50" y="224.85" font-size="8">&#8722;1</text>
<text x="24.50" y="252.75" font-size="8">&#8722;2</text>
<text x="0" y="0" font-size="8" text-anchor="middle" transform="translate(66.2 179) rotate(-90)"><tspan font-style="italic">Z</tspan>-score gene expression</text>
<text x="0" y="0" font-size="7.8" text-anchor="end" transform="translate(77.98 312.6) rotate(-90)">PR51978a</text>
<text x="0" y="0" font-size="7.8" text-anchor="end" transform="translate(88.54 312.6) rotate(-90)">PR51948a</text>
<text x="0" y="0" font-size="7.8" text-anchor="end" transform="translate(99.10 312.6) rotate(-90)">PR40984a</text>
<text x="0" y="0" font-size="7.8" text-anchor="end" transform="translate(109.66 312.6) rotate(-90)">PR40966a</text>
<text x="0" y="0" font-size="7.8" text-anchor="end" transform="translate(120.22 312.6) rotate(-90)">PR41905a</text>
<text x="0" y="0" font-size="7.8" text-anchor="end" transform="translate(130.78 312.6) rotate(-90)">PR41916a</text>
<text x="0" y="0" font-size="7.8" text-anchor="end" transform="translate(141.34 312.6) rotate(-90)">PR51951a</text>
<text x="0" y="0" font-size="7.8" text-anchor="end" transform="translate(151.90 312.6) rotate(-90)">PR40963a</text>
<text x="0" y="0" font-size="7.8" text-anchor="end" transform="translate(162.46 312.6) rotate(-90)">PR41045a</text>
<text x="0" y="0" font-size="7.8" text-anchor="end" transform="translate(173.02 312.6) rotate(-90)">PR40996a</text>
<text x="0" y="0" font-size="7.8" text-anchor="end" transform="translate(183.58 312.6) rotate(-90)">PR51979a</text>
<text x="0" y="0" font-size="7.8" text-anchor="end" transform="translate(194.14 312.6) rotate(-90)">PR41023f</text>
<text x="0" y="0" font-size="7.8" text-anchor="end" transform="translate(204.70 312.6) rotate(-90)">PR40986a</text>
<text x="0" y="0" font-size="7.8" text-anchor="end" transform="translate(215.26 312.6) rotate(-90)">PR41912a</text>
<text x="0" y="0" font-size="7.8" text-anchor="end" transform="translate(227.78 312.6) rotate(-90)">PR41928d</text>
<text x="0" y="0" font-size="7.8" text-anchor="end" transform="translate(238.34 312.6) rotate(-90)">PR51928a</text>
<text x="0" y="0" font-size="7.8" text-anchor="end" transform="translate(248.90 312.6) rotate(-90)">PR41017a</text>
<text x="0" y="0" font-size="7.8" text-anchor="end" transform="translate(259.46 312.6) rotate(-90)">PR41901a</text>
<text x="0" y="0" font-size="7.8" text-anchor="end" transform="translate(270.02 312.6) rotate(-90)">PR40985a</text>
<text x="0" y="0" font-size="7.8" text-anchor="end" transform="translate(280.58 312.6) rotate(-90)">PR41044a</text>
<text x="0" y="0" font-size="7.8" text-anchor="end" transform="translate(291.14 312.6) rotate(-90)">PR51932a</text>
<text x="0" y="0" font-size="7.8" text-anchor="end" transform="translate(301.70 312.6) rotate(-90)">PR41011a</text>
<text x="0" y="0" font-size="7.8" text-anchor="end" transform="translate(312.26 312.6) rotate(-90)">PR41930d</text>
<text x="0" y="0" font-size="7.8" text-anchor="end" transform="translate(322.82 312.6) rotate(-90)">PR40989a</text>
<text x="0" y="0" font-size="7.8" text-anchor="end" transform="translate(333.38 312.6) rotate(-90)">PR41927d</text>
<text x="0" y="0" font-size="7.8" text-anchor="end" transform="translate(343.94 312.6) rotate(-90)">PR40971a</text>
<text x="0" y="0" font-size="7.8" text-anchor="end" transform="translate(354.50 312.6) rotate(-90)">PR40962a</text>
<text x="0" y="0" font-size="7.8" text-anchor="end" transform="translate(365.06 312.6) rotate(-90)">PR40961a</text>
<text x="0" y="0" font-size="7.8" text-anchor="end" transform="translate(375.62 312.6) rotate(-90)">PR41920a</text>
<text x="0" y="0" font-size="7.8" text-anchor="end" transform="translate(386.18 312.6) rotate(-90)">PR40967a</text>
<text x="0" y="0" font-size="7.8" text-anchor="end" transform="translate(398.98 312.6) rotate(-90)">PR41030a</text>
<text x="0" y="0" font-size="7.8" text-anchor="end" transform="translate(409.54 312.6) rotate(-90)">PR40994a</text>
<text x="0" y="0" font-size="7.8" text-anchor="end" transform="translate(420.10 312.6) rotate(-90)">PR41020a</text>
<text x="0" y="0" font-size="7.8" text-anchor="end" transform="translate(430.66 312.6) rotate(-90)">PR40997a</text>
<text x="0" y="0" font-size="7.8" text-anchor="end" transform="translate(441.22 312.6) rotate(-90)">PR41921a</text>
<text x="0" y="0" font-size="7.8" text-anchor="end" transform="translate(451.78 312.6) rotate(-90)">PR40968a</text>
<text x="0" y="0" font-size="7.8" text-anchor="end" transform="translate(462.34 312.6) rotate(-90)">PR41002a</text>
<text x="0" y="0" font-size="7.8" text-anchor="end" transform="translate(472.90 312.6) rotate(-90)">PR41913a</text>
<text x="0" y="0" font-size="7.8" text-anchor="end" transform="translate(483.46 312.6) rotate(-90)">PR40969a</text>
<text x="0" y="0" font-size="7.8" text-anchor="end" transform="translate(494.02 312.6) rotate(-90)">PR41025a</text>
<text x="0" y="0" font-size="7.8" text-anchor="end" transform="translate(504.58 312.6) rotate(-90)">PR40988a</text>
<text x="0" y="0" font-size="7.8" text-anchor="end" transform="translate(515.14 312.6) rotate(-90)">PR41035a</text>
<text x="0" y="0" font-size="7.8" text-anchor="end" transform="translate(525.70 312.6) rotate(-90)">PR40970a</text>
<text x="0" y="0" font-size="7.8" text-anchor="end" transform="translate(536.26 312.6) rotate(-90)">PR40990a</text>
<text x="307.00" y="363.00" font-size="8" text-anchor="middle">Samples</text>
<text x="589.20" y="14.00" font-size="8">Mutational status</text>
<rect x="589.30" y="17.90" width="7.0" height="7.0" fill="#f38db2" stroke="#6d6d6d" stroke-width="0.45"/>
<text x="600.10" y="24.00" font-size="8" font-style="italic">BRAF</text>
<rect x="589.30" y="27.50" width="7.0" height="7.0" fill="#cf8cc1" stroke="#6d6d6d" stroke-width="0.45"/>
<text x="600.10" y="33.60" font-size="8" font-style="italic">NRAS</text>
<rect x="589.30" y="37.10" width="7.0" height="7.0" fill="#fcef6b" stroke="#6d6d6d" stroke-width="0.45"/>
<text x="600.10" y="43.20" font-size="8">Multihit</text>
<rect x="632.60" y="17.90" width="7.0" height="7.0" fill="#7ec680" stroke="#6d6d6d" stroke-width="0.45"/>
<text x="642.50" y="24.00" font-size="8" font-style="italic">NF1</text>
<rect x="632.60" y="27.50" width="7.0" height="7.0" fill="#80d1de" stroke="#6d6d6d" stroke-width="0.45"/>
<text x="642.50" y="33.60" font-size="8" font-style="italic">KIT</text>
<rect x="632.60" y="37.10" width="7.0" height="7.0" fill="#bdbdbd" stroke="#6d6d6d" stroke-width="0.45"/>
<text x="642.50" y="43.20" font-size="8">QWT</text>
<text x="589.20" y="62.00" font-size="8">Tumour stage</text>
<rect x="589.30" y="65.50" width="7.0" height="7.0" fill="#dcdcdc" stroke="#6d6d6d" stroke-width="0.45"/>
<text x="600.10" y="71.60" font-size="8">In situ</text>
<rect x="589.30" y="75.30" width="7.0" height="7.0" fill="#c3dff5" stroke="#6d6d6d" stroke-width="0.45"/>
<text x="600.10" y="81.40" font-size="8">I</text>
<rect x="589.30" y="85.00" width="7.0" height="7.0" fill="#92c5ed" stroke="#6d6d6d" stroke-width="0.45"/>
<text x="600.10" y="91.10" font-size="8">II</text>
<rect x="632.60" y="65.50" width="7.0" height="7.0" fill="#5c6bb5" stroke="#6d6d6d" stroke-width="0.45"/>
<text x="642.50" y="71.60" font-size="8">III</text>
<rect x="632.60" y="75.30" width="7.0" height="7.0" fill="#4b3698" stroke="#6d6d6d" stroke-width="0.45"/>
<text x="642.50" y="81.40" font-size="8">IV</text>
<text x="589.20" y="109.00" font-size="8">Sex</text>
<rect x="589.30" y="112.60" width="7.0" height="7.0" fill="#46b4a6" stroke="#6d6d6d" stroke-width="0.45"/>
<text x="600.10" y="118.70" font-size="8">Female</text>
<rect x="589.30" y="122.40" width="7.0" height="7.0" fill="#b91e26" stroke="#6d6d6d" stroke-width="0.45"/>
<text x="600.10" y="128.50" font-size="8">Male</text>
<text x="597.80" y="149.10" font-size="8">Age at diagnosis</text>
<rect x="598.2" y="156.0" width="57.4" height="5.7" fill="url(#hg)" stroke="#8a8a8a" stroke-width="0.4"/>
<text x="596.60" y="161.60" font-size="8" text-anchor="end">20</text>
<text x="655.80" y="161.60" font-size="8">100</text>
<text x="589.20" y="183.70" font-size="8">Ulceration status</text>
<rect x="589.30" y="188.40" width="7.0" height="7.0" fill="#d42b2c" stroke="#6d6d6d" stroke-width="0.45"/>
<text x="600.10" y="194.50" font-size="8">Ulcerated</text>
<rect x="589.30" y="197.90" width="7.0" height="7.0" fill="#3f88cb" stroke="#6d6d6d" stroke-width="0.45"/>
<text x="600.10" y="204.00" font-size="8">Non-ulcerated</text>
<rect x="589.30" y="207.30" width="7.0" height="7.0" fill="#231f20" stroke="#6d6d6d" stroke-width="0.45"/>
<text x="600.10" y="213.40" font-size="8">Unknown</text>
<text x="589.20" y="234.30" font-size="8">WGD</text>
<rect x="589.30" y="238.00" width="7.0" height="7.0" fill="#4dbcec" stroke="#6d6d6d" stroke-width="0.45"/>
<text x="600.10" y="244.10" font-size="8">No</text>
<rect x="589.30" y="247.70" width="7.0" height="7.0" fill="#871a56" stroke="#6d6d6d" stroke-width="0.45"/>
<text x="600.10" y="253.80" font-size="8">Yes</text>
<rect x="589.30" y="257.40" width="7.0" height="7.0" fill="#231f20" stroke="#6d6d6d" stroke-width="0.45"/>
<text x="600.10" y="263.50" font-size="8">NA</text>
<text x="625.80" y="292.00" font-size="8" text-anchor="middle">TMB</text>
<rect x="599.3" y="296.6" width="53.5" height="5.4" fill="url(#hg)" stroke="#8a8a8a" stroke-width="0.4"/>
<text x="597.60" y="302.20" font-size="8" text-anchor="end">0</text>
<text x="656.20" y="302.20" font-size="8">150</text>
<text x="625.80" y="326.30" font-size="8" text-anchor="middle">Tumour purity</text>
<rect x="599.3" y="331.1" width="53.5" height="5.6" fill="url(#hg)" stroke="#8a8a8a" stroke-width="0.4"/>
<text x="597.60" y="336.80" font-size="8" text-anchor="end">0</text>
<text x="656.60" y="336.80" font-size="8">1</text>
<rect x="664.90" y="330.40" width="7.2" height="7.0" fill="#231f20" stroke="#6d6d6d" stroke-width="0.45"/>
<text x="674.00" y="336.80" font-size="8">NA</text>
<text x="0.30" y="386.90" font-size="11" font-weight="bold">b</text>
<text x="156.60" y="386.90" font-size="11" font-weight="bold">c</text>
<text x="282.00" y="386.90" font-size="11" font-weight="bold">d</text>
<text x="430.80" y="386.90" font-size="11" font-weight="bold">e</text>
<text x="557.00" y="386.90" font-size="11" font-weight="bold">f</text>
<text x="91.00" y="387.60" font-size="8" text-anchor="middle">Gene expression</text>
<text x="91.00" y="396.90" font-size="8" text-anchor="middle">patterns</text>
<path d="M48.4 426V509.5H133.4" fill="none" stroke="#b0b0b0" stroke-width="0.9"/>
<text x="43.50" y="447.85" font-size="8" text-anchor="end">0.5</text>
<text x="43.50" y="473.05" font-size="8" text-anchor="end">0</text>
<text x="43.50" y="498.35" font-size="8" text-anchor="end">&#8722;0.5</text>
<text x="65.10" y="519.80" font-size="8" text-anchor="middle">1</text>
<text x="97.20" y="519.80" font-size="8" text-anchor="middle">2</text>
<text x="127.20" y="519.80" font-size="8" text-anchor="middle">3</text>
<text x="0" y="0" font-size="8" text-anchor="middle" transform="translate(14.3 468.7) rotate(-90)">Scaled mean</text>
<text x="0" y="0" font-size="8" text-anchor="middle" transform="translate(23.6 468.7) rotate(-90)">expression</text>
<polyline points="66.7,429.5 97.0,500.0 127.4,473.4" fill="none" stroke="#e39fca" stroke-width="1.45"/>
<polyline points="66.7,500.5 97.0,440.3 127.4,470.8" fill="none" stroke="#e5925e" stroke-width="1.45"/>
<polyline points="66.7,505.7 97.0,453.6 127.4,450.5" fill="none" stroke="#ad9fd6" stroke-width="1.45"/>
<circle cx="66.7" cy="429.5" r="2.55" fill="#e39fca"/>
<circle cx="97.0" cy="500.0" r="2.55" fill="#e39fca"/>
<circle cx="127.4" cy="473.4" r="2.55" fill="#e39fca"/>
<circle cx="66.7" cy="500.5" r="2.55" fill="#e5925e"/>
<circle cx="97.0" cy="440.3" r="2.55" fill="#e5925e"/>
<circle cx="127.4" cy="470.8" r="2.55" fill="#e5925e"/>
<circle cx="66.7" cy="505.7" r="2.55" fill="#ad9fd6"/>
<circle cx="97.0" cy="453.6" r="2.55" fill="#ad9fd6"/>
<circle cx="127.4" cy="450.5" r="2.55" fill="#ad9fd6"/>
<text x="48.60" y="421.00" font-size="7.7" fill="#e38fc3">2,423 genes (M2)</text>
<text x="76.40" y="433.80" font-size="7.7" fill="#e5915c">783 genes (M1)</text>
<text x="109.00" y="443.20" font-size="7.7" fill="#a99cd9">664 genes</text>
<text x="131.00" y="452.20" font-size="7.7" fill="#a99cd9">(M3)</text>
<text x="228.60" y="387.60" font-size="8" text-anchor="middle">Mitotic index</text>
<path d="M184.10 424.8V508.2" stroke="#b0b0b0" stroke-width="1.1"/>
<path d="M185.70 509.4H271.30" stroke="#b0b0b0" stroke-width="1.1"/>
<text x="179.80" y="435.45" font-size="8" text-anchor="end">40</text>
<text x="179.80" y="454.55" font-size="8" text-anchor="end">30</text>
<text x="179.80" y="472.15" font-size="8" text-anchor="end">20</text>
<text x="179.80" y="490.35" font-size="8" text-anchor="end">10</text>
<text x="179.80" y="507.85" font-size="8" text-anchor="end">0</text>
<text x="198.00" y="519.80" font-size="8" text-anchor="middle">1</text>
<text x="226.90" y="519.80" font-size="8" text-anchor="middle">2</text>
<text x="255.70" y="519.80" font-size="8" text-anchor="middle">3</text>
<text x="0" y="0" font-size="8" text-anchor="middle" transform="translate(162.70 466.5) rotate(-90)">Mitotic index</text>
<path d="M200.20 499.00V494.20M194.50 494.20H205.90M200.20 503.90V503.90M194.50 503.90H205.90" stroke="#6e6e6e" stroke-width="0.6"/>
<rect x="188.40" y="499.00" width="23.60" height="4.90" fill="#e39fca" stroke="#6e6e6e" stroke-width="0.6"/>
<path d="M188.40 501.40H212.00" stroke="#6e6e6e" stroke-width="0.7"/>
<circle cx="202.80" cy="477.80" r="0.6" fill="#8a8a8a"/>
<circle cx="199.00" cy="501.00" r="0.6" fill="#8a8a8a"/>
<circle cx="204.00" cy="501.50" r="0.6" fill="#8a8a8a"/>
<path d="M228.70 475.30V465.20M222.85 465.20H234.55M228.70 500.80V503.90M222.85 503.90H234.55" stroke="#6e6e6e" stroke-width="0.6"/>
<rect x="217.20" y="475.30" width="23.00" height="25.50" fill="#e5925e" stroke="#6e6e6e" stroke-width="0.6"/>
<path d="M217.20 490.50H240.20" stroke="#6e6e6e" stroke-width="0.7"/>
<circle cx="229.70" cy="428.80" r="0.6" fill="#8a8a8a"/>
<circle cx="225.00" cy="467.00" r="0.6" fill="#8a8a8a"/>
<circle cx="230.00" cy="473.00" r="0.6" fill="#8a8a8a"/>
<circle cx="228.00" cy="488.00" r="0.6" fill="#8a8a8a"/>
<circle cx="231.00" cy="492.00" r="0.6" fill="#8a8a8a"/>
<circle cx="226.00" cy="497.00" r="0.6" fill="#8a8a8a"/>
<circle cx="229.00" cy="499.00" r="0.6" fill="#8a8a8a"/>
<path d="M257.00 490.30V477.80M251.05 477.80H262.95M257.00 501.60V503.50M251.05 503.50H262.95" stroke="#6e6e6e" stroke-width="0.6"/>
<rect x="245.00" y="490.30" width="24.00" height="11.30" fill="#ad9fd6" stroke="#6e6e6e" stroke-width="0.6"/>
<path d="M245.00 492.60H269.00" stroke="#6e6e6e" stroke-width="0.7"/>
<circle cx="259.40" cy="454.10" r="0.6" fill="#8a8a8a"/>
<circle cx="258.00" cy="485.00" r="0.6" fill="#8a8a8a"/>
<circle cx="256.00" cy="496.00" r="0.6" fill="#8a8a8a"/>
<text x="226.60" y="402.00" font-size="8" text-anchor="middle"><tspan font-style="italic">P</tspan> = 0.052</text>
<path d="M199.40 409.20V405.10H253.60V409.20" fill="none" stroke="#7a7a7a" stroke-width="0.75"/>
<text x="214.20" y="417.10" font-size="8" text-anchor="middle"><tspan font-style="italic">P</tspan> = 0.041</text>
<path d="M199.40 423.70V419.60H229.30V423.70" fill="none" stroke="#7a7a7a" stroke-width="0.75"/>
<text x="363.90" y="387.60" font-size="8" text-anchor="middle">B cells</text>
<path d="M318.20 424.8V508.2" stroke="#b0b0b0" stroke-width="1.1"/>
<path d="M320.00 509.4H404.90" stroke="#b0b0b0" stroke-width="1.1"/>
<text x="314.20" y="432.35" font-size="8" text-anchor="end">0.03</text>
<text x="314.20" y="456.15" font-size="8" text-anchor="end">0.02</text>
<text x="314.20" y="480.15" font-size="8" text-anchor="end">0.01</text>
<text x="314.20" y="504.55" font-size="8" text-anchor="end">0.00</text>
<text x="333.00" y="519.80" font-size="8" text-anchor="middle">1</text>
<text x="361.70" y="519.80" font-size="8" text-anchor="middle">2</text>
<text x="390.40" y="519.80" font-size="8" text-anchor="middle">3</text>
<text x="0" y="0" font-size="8" text-anchor="middle" transform="translate(289.70 466.5) rotate(-90)">Proportion</text>
<path d="M333.80 493.30V480.00M328.80 480.00H338.80M333.80 503.20V503.20M328.80 503.20H338.80" stroke="#6e6e6e" stroke-width="0.6"/>
<rect x="322.20" y="493.30" width="23.20" height="9.90" fill="#e39fca" stroke="#6e6e6e" stroke-width="0.6"/>
<path d="M322.20 502.60H345.40" stroke="#6e6e6e" stroke-width="0.7"/>
<circle cx="335.50" cy="471.80" r="0.6" fill="#8a8a8a"/>
<circle cx="333.00" cy="477.00" r="0.6" fill="#8a8a8a"/>
<circle cx="332.00" cy="493.00" r="0.6" fill="#8a8a8a"/>
<circle cx="336.00" cy="500.00" r="0.6" fill="#8a8a8a"/>
<path d="M362.15 457.30V428.60M356.55 428.60H367.75M362.15 497.40V502.00M356.55 502.00H367.75" stroke="#6e6e6e" stroke-width="0.6"/>
<rect x="350.90" y="457.30" width="22.50" height="40.10" fill="#e5925e" stroke="#6e6e6e" stroke-width="0.6"/>
<path d="M350.90 486.60H373.40" stroke="#6e6e6e" stroke-width="0.7"/>
<circle cx="359.00" cy="453.00" r="0.6" fill="#8a8a8a"/>
<circle cx="363.00" cy="463.00" r="0.6" fill="#8a8a8a"/>
<circle cx="361.00" cy="470.00" r="0.6" fill="#8a8a8a"/>
<circle cx="360.00" cy="482.00" r="0.6" fill="#8a8a8a"/>
<circle cx="362.00" cy="495.00" r="0.6" fill="#8a8a8a"/>
<path d="M390.85 495.80V488.70M385.35 488.70H396.35M390.85 502.60V503.00M385.35 503.00H396.35" stroke="#6e6e6e" stroke-width="0.6"/>
<rect x="379.30" y="495.80" width="23.10" height="6.80" fill="#ad9fd6" stroke="#6e6e6e" stroke-width="0.6"/>
<path d="M379.30 498.90H402.40" stroke="#6e6e6e" stroke-width="0.7"/>
<circle cx="388.00" cy="454.20" r="0.6" fill="#8a8a8a"/>
<circle cx="388.00" cy="470.20" r="0.6" fill="#8a8a8a"/>
<circle cx="392.00" cy="492.00" r="0.6" fill="#8a8a8a"/>
<circle cx="389.00" cy="501.00" r="0.6" fill="#8a8a8a"/>
<text x="346.90" y="401.50" font-size="8" text-anchor="middle"><tspan font-style="italic">P</tspan> = 0.004</text>
<path d="M331.50 407.60V403.50H361.70V407.60" fill="none" stroke="#7a7a7a" stroke-width="0.75"/>
<text x="374.70" y="416.80" font-size="8" text-anchor="middle"><tspan font-style="italic">P</tspan> = 0.018</text>
<path d="M361.70 423.00V418.90H388.80V423.00" fill="none" stroke="#7a7a7a" stroke-width="0.75"/>
<text x="502.50" y="387.60" font-size="8" text-anchor="middle">CD4<tspan font-size="5.5" dy="-3">+</tspan><tspan dy="3"> T cells</tspan></text>
<path d="M455.00 424.8V508.2" stroke="#b0b0b0" stroke-width="1.1"/>
<path d="M457.00 509.4H542.00" stroke="#b0b0b0" stroke-width="1.1"/>
<text x="450.40" y="440.65" font-size="8" text-anchor="end">0.2</text>
<text x="450.40" y="473.35" font-size="8" text-anchor="end">0.1</text>
<text x="450.40" y="506.05" font-size="8" text-anchor="end">0</text>
<text x="470.10" y="519.80" font-size="8" text-anchor="middle">1</text>
<text x="498.50" y="519.80" font-size="8" text-anchor="middle">2</text>
<text x="528.00" y="519.80" font-size="8" text-anchor="middle">3</text>
<text x="0" y="0" font-size="8" text-anchor="middle" transform="translate(431.20 466.5) rotate(-90)">Proportion</text>
<path d="M470.55 464.00V450.20M465.05 450.20H476.05M470.55 478.50V479.50M465.05 479.50H476.05" stroke="#6e6e6e" stroke-width="0.6"/>
<rect x="459.30" y="464.00" width="22.50" height="14.50" fill="#e39fca" stroke="#6e6e6e" stroke-width="0.6"/>
<path d="M459.30 472.70H481.80" stroke="#6e6e6e" stroke-width="0.7"/>
<circle cx="470.00" cy="503.20" r="0.6" fill="#8a8a8a"/>
<circle cx="468.00" cy="465.00" r="0.6" fill="#8a8a8a"/>
<circle cx="472.00" cy="470.00" r="0.6" fill="#8a8a8a"/>
<path d="M498.65 478.50V466.20M493.15 466.20H504.15M498.65 488.10V493.30M493.15 493.30H504.15" stroke="#6e6e6e" stroke-width="0.6"/>
<rect x="487.10" y="478.50" width="23.10" height="9.60" fill="#e5925e" stroke="#6e6e6e" stroke-width="0.6"/>
<path d="M487.10 484.00H510.20" stroke="#6e6e6e" stroke-width="0.7"/>
<circle cx="498.50" cy="428.00" r="0.6" fill="#8a8a8a"/>
<circle cx="498.50" cy="462.50" r="0.6" fill="#8a8a8a"/>
<circle cx="496.00" cy="483.00" r="0.6" fill="#8a8a8a"/>
<circle cx="500.00" cy="486.00" r="0.6" fill="#8a8a8a"/>
<path d="M527.05 474.20V470.20M521.55 470.20H532.55M527.05 484.10V484.50M521.55 484.50H532.55" stroke="#6e6e6e" stroke-width="0.6"/>
<rect x="515.50" y="474.20" width="23.10" height="9.90" fill="#ad9fd6" stroke="#6e6e6e" stroke-width="0.6"/>
<path d="M515.50 480.00H538.60" stroke="#6e6e6e" stroke-width="0.7"/>
<circle cx="527.00" cy="457.90" r="0.6" fill="#8a8a8a"/>
<circle cx="524.60" cy="503.00" r="0.6" fill="#8a8a8a"/>
<circle cx="528.70" cy="503.00" r="0.6" fill="#8a8a8a"/>
<circle cx="525.00" cy="477.00" r="0.6" fill="#8a8a8a"/>
<text x="497.00" y="403.30" font-size="8" text-anchor="middle"><tspan font-style="italic">P</tspan> = 0.056</text>
<path d="M469.20 409.40V405.30H524.10V409.40" fill="none" stroke="#7a7a7a" stroke-width="0.75"/>
<text x="484.60" y="418.00" font-size="8" text-anchor="middle"><tspan font-style="italic">P</tspan> = 0.056</text>
<path d="M469.20 423.90V419.80H499.40V423.90" fill="none" stroke="#7a7a7a" stroke-width="0.75"/>
<text x="637.50" y="387.60" font-size="8" text-anchor="middle">CAFs</text>
<path d="M588.50 424.8V508.2" stroke="#b0b0b0" stroke-width="1.1"/>
<path d="M590.00 509.4H676.00" stroke="#b0b0b0" stroke-width="1.1"/>
<text x="583.80" y="430.55" font-size="8" text-anchor="end">1.0</text>
<text x="583.80" y="446.25" font-size="8" text-anchor="end">0.8</text>
<text x="583.80" y="462.25" font-size="8" text-anchor="end">0.6</text>
<text x="583.80" y="477.65" font-size="8" text-anchor="end">0.4</text>
<text x="583.80" y="493.15" font-size="8" text-anchor="end">0.2</text>
<text x="583.80" y="508.55" font-size="8" text-anchor="end">0</text>
<text x="604.20" y="519.80" font-size="8" text-anchor="middle">1</text>
<text x="632.90" y="519.80" font-size="8" text-anchor="middle">2</text>
<text x="661.20" y="519.80" font-size="8" text-anchor="middle">3</text>
<text x="0" y="0" font-size="8" text-anchor="middle" transform="translate(564.60 466.5) rotate(-90)">Proportion</text>
<path d="M604.35 473.30V467.70M598.85 467.70H609.85M604.35 494.30V502.00M598.85 502.00H609.85" stroke="#6e6e6e" stroke-width="0.6"/>
<rect x="592.80" y="473.30" width="23.10" height="21.00" fill="#e39fca" stroke="#6e6e6e" stroke-width="0.6"/>
<path d="M592.80 487.80H615.90" stroke="#6e6e6e" stroke-width="0.7"/>
<circle cx="604.20" cy="428.00" r="0.6" fill="#8a8a8a"/>
<circle cx="602.00" cy="476.00" r="0.6" fill="#8a8a8a"/>
<circle cx="606.00" cy="488.00" r="0.6" fill="#8a8a8a"/>
<circle cx="603.00" cy="498.00" r="0.6" fill="#8a8a8a"/>
<path d="M632.90 492.40V481.60M627.40 481.60H638.40M632.90 499.50V503.20M627.40 503.20H638.40" stroke="#6e6e6e" stroke-width="0.6"/>
<rect x="621.50" y="492.40" width="22.80" height="7.10" fill="#e5925e" stroke="#6e6e6e" stroke-width="0.6"/>
<path d="M621.50 495.80H644.30" stroke="#6e6e6e" stroke-width="0.7"/>
<circle cx="632.90" cy="477.00" r="0.6" fill="#8a8a8a"/>
<circle cx="630.00" cy="494.00" r="0.6" fill="#8a8a8a"/>
<circle cx="634.00" cy="497.00" r="0.6" fill="#8a8a8a"/>
<path d="M661.05 484.10V479.50M655.55 479.50H666.55M661.05 499.50V502.00M655.55 502.00H666.55" stroke="#6e6e6e" stroke-width="0.6"/>
<rect x="649.80" y="484.10" width="22.50" height="15.40" fill="#ad9fd6" stroke="#6e6e6e" stroke-width="0.6"/>
<path d="M649.80 497.00H672.30" stroke="#6e6e6e" stroke-width="0.7"/>
<circle cx="661.20" cy="428.00" r="0.6" fill="#8a8a8a"/>
<circle cx="660.00" cy="486.00" r="0.6" fill="#8a8a8a"/>
<circle cx="662.00" cy="496.00" r="0.6" fill="#8a8a8a"/>
<text x="620.50" y="416.80" font-size="8" text-anchor="middle"><tspan font-style="italic">P</tspan> = 0.009</text>
<path d="M604.20 423.00V418.90H635.30V423.00" fill="none" stroke="#7a7a7a" stroke-width="0.75"/>
<text x="361.90" y="534.80" font-size="8" text-anchor="middle">Clusters</text>
</svg></body></html>
